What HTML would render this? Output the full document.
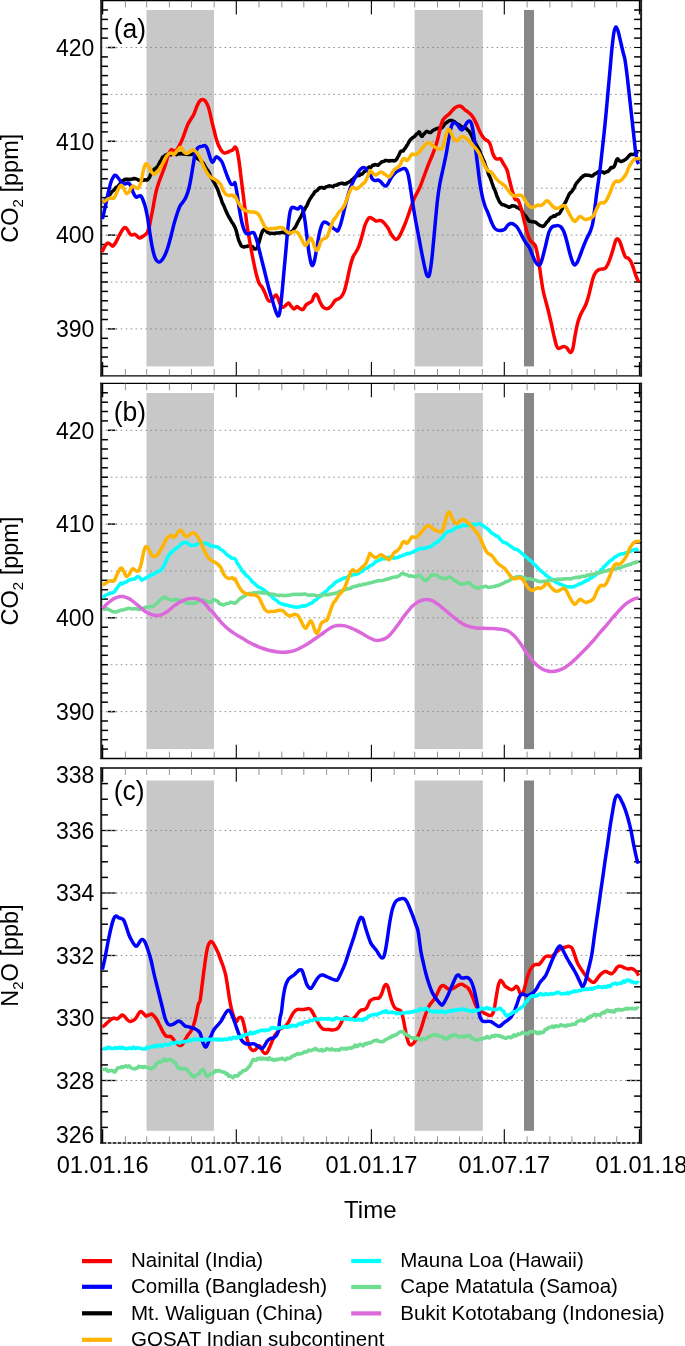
<!DOCTYPE html><html><head><meta charset="utf-8"><title>Time series</title>
<style>html,body{margin:0;padding:0;background:#fff}svg{display:block}text{font-family:"Liberation Sans",sans-serif;fill:#000}</style></head><body>
<svg width="685" height="1346" viewBox="0 0 685 1346">
<rect width="685" height="1346" fill="#fff"/>
<g id="panel0">
<rect x="146.5" y="10.0" width="67.5" height="356.4" fill="#c8c8c8"/>
<rect x="414.6" y="10.0" width="68.2" height="356.4" fill="#c8c8c8"/>
<rect x="524.0" y="10.0" width="10.0" height="356.4" fill="#878787"/>
<line x1="100.9" x2="631.1" y1="328.9" y2="328.9" stroke="#858585" stroke-width="0.9" stroke-dasharray="1.6 3.345"/>
<line x1="100.9" x2="631.1" y1="282.0" y2="282.0" stroke="#858585" stroke-width="0.9" stroke-dasharray="1.6 3.345"/>
<line x1="100.9" x2="631.1" y1="235.1" y2="235.1" stroke="#858585" stroke-width="0.9" stroke-dasharray="1.6 3.345"/>
<line x1="100.9" x2="631.1" y1="188.2" y2="188.2" stroke="#858585" stroke-width="0.9" stroke-dasharray="1.6 3.345"/>
<line x1="100.9" x2="631.1" y1="141.3" y2="141.3" stroke="#858585" stroke-width="0.9" stroke-dasharray="1.6 3.345"/>
<line x1="100.9" x2="631.1" y1="94.4" y2="94.4" stroke="#858585" stroke-width="0.9" stroke-dasharray="1.6 3.345"/>
<line x1="100.9" x2="631.1" y1="47.5" y2="47.5" stroke="#858585" stroke-width="0.9" stroke-dasharray="1.6 3.345"/>
<line x1="100.2" x2="642.1" y1="0.6" y2="0.6" stroke="#000" stroke-width="1.3"/>
<line x1="100.2" x2="642.1" y1="375.8" y2="375.8" stroke="#000" stroke-width="1.3"/>
<line x1="101.2" x2="101.2" y1="0.0" y2="376.4" stroke="#222" stroke-width="2"/>
<line x1="641.1" x2="641.1" y1="0.0" y2="376.4" stroke="#222" stroke-width="2"/>
<line x1="102.60" x2="102.60" y1="0.6" y2="14.4" stroke="#000" stroke-width="1.3"/>
<line x1="102.60" x2="102.60" y1="362.0" y2="375.8" stroke="#000" stroke-width="1.3"/>
<line x1="639.49" x2="639.49" y1="0.6" y2="14.4" stroke="#000" stroke-width="1.3"/>
<line x1="639.49" x2="639.49" y1="362.0" y2="375.8" stroke="#000" stroke-width="1.3"/>
<line x1="125.4" x2="125.4" y1="0.6" y2="7.5" stroke="#777" stroke-width="0.8"/>
<line x1="125.4" x2="125.4" y1="375.8" y2="368.9" stroke="#777" stroke-width="0.8"/>
<line x1="146.7" x2="146.7" y1="0.6" y2="7.5" stroke="#777" stroke-width="0.8"/>
<line x1="146.7" x2="146.7" y1="375.8" y2="368.9" stroke="#777" stroke-width="0.8"/>
<line x1="169.4" x2="169.4" y1="0.6" y2="7.5" stroke="#777" stroke-width="0.8"/>
<line x1="169.4" x2="169.4" y1="375.8" y2="368.9" stroke="#777" stroke-width="0.8"/>
<line x1="191.5" x2="191.5" y1="0.6" y2="7.5" stroke="#777" stroke-width="0.8"/>
<line x1="191.5" x2="191.5" y1="375.8" y2="368.9" stroke="#777" stroke-width="0.8"/>
<line x1="214.2" x2="214.2" y1="0.6" y2="7.5" stroke="#777" stroke-width="0.8"/>
<line x1="214.2" x2="214.2" y1="375.8" y2="368.9" stroke="#777" stroke-width="0.8"/>
<line x1="236.3" x2="236.3" y1="0.6" y2="14.4" stroke="#000" stroke-width="1.1"/>
<line x1="236.3" x2="236.3" y1="375.8" y2="362.0" stroke="#000" stroke-width="1.1"/>
<line x1="259.0" x2="259.0" y1="0.6" y2="7.5" stroke="#777" stroke-width="0.8"/>
<line x1="259.0" x2="259.0" y1="375.8" y2="368.9" stroke="#777" stroke-width="0.8"/>
<line x1="281.8" x2="281.8" y1="0.6" y2="7.5" stroke="#777" stroke-width="0.8"/>
<line x1="281.8" x2="281.8" y1="375.8" y2="368.9" stroke="#777" stroke-width="0.8"/>
<line x1="303.8" x2="303.8" y1="0.6" y2="7.5" stroke="#777" stroke-width="0.8"/>
<line x1="303.8" x2="303.8" y1="375.8" y2="368.9" stroke="#777" stroke-width="0.8"/>
<line x1="326.6" x2="326.6" y1="0.6" y2="7.5" stroke="#777" stroke-width="0.8"/>
<line x1="326.6" x2="326.6" y1="375.8" y2="368.9" stroke="#777" stroke-width="0.8"/>
<line x1="348.6" x2="348.6" y1="0.6" y2="7.5" stroke="#777" stroke-width="0.8"/>
<line x1="348.6" x2="348.6" y1="375.8" y2="368.9" stroke="#777" stroke-width="0.8"/>
<line x1="371.4" x2="371.4" y1="0.6" y2="14.4" stroke="#000" stroke-width="1.1"/>
<line x1="371.4" x2="371.4" y1="375.8" y2="362.0" stroke="#000" stroke-width="1.1"/>
<line x1="394.2" x2="394.2" y1="0.6" y2="7.5" stroke="#777" stroke-width="0.8"/>
<line x1="394.2" x2="394.2" y1="375.8" y2="368.9" stroke="#777" stroke-width="0.8"/>
<line x1="414.7" x2="414.7" y1="0.6" y2="7.5" stroke="#777" stroke-width="0.8"/>
<line x1="414.7" x2="414.7" y1="375.8" y2="368.9" stroke="#777" stroke-width="0.8"/>
<line x1="437.5" x2="437.5" y1="0.6" y2="7.5" stroke="#777" stroke-width="0.8"/>
<line x1="437.5" x2="437.5" y1="375.8" y2="368.9" stroke="#777" stroke-width="0.8"/>
<line x1="459.5" x2="459.5" y1="0.6" y2="7.5" stroke="#777" stroke-width="0.8"/>
<line x1="459.5" x2="459.5" y1="375.8" y2="368.9" stroke="#777" stroke-width="0.8"/>
<line x1="482.3" x2="482.3" y1="0.6" y2="7.5" stroke="#777" stroke-width="0.8"/>
<line x1="482.3" x2="482.3" y1="375.8" y2="368.9" stroke="#777" stroke-width="0.8"/>
<line x1="504.3" x2="504.3" y1="0.6" y2="14.4" stroke="#000" stroke-width="1.1"/>
<line x1="504.3" x2="504.3" y1="375.8" y2="362.0" stroke="#000" stroke-width="1.1"/>
<line x1="527.1" x2="527.1" y1="0.6" y2="7.5" stroke="#777" stroke-width="0.8"/>
<line x1="527.1" x2="527.1" y1="375.8" y2="368.9" stroke="#777" stroke-width="0.8"/>
<line x1="549.9" x2="549.9" y1="0.6" y2="7.5" stroke="#777" stroke-width="0.8"/>
<line x1="549.9" x2="549.9" y1="375.8" y2="368.9" stroke="#777" stroke-width="0.8"/>
<line x1="571.9" x2="571.9" y1="0.6" y2="7.5" stroke="#777" stroke-width="0.8"/>
<line x1="571.9" x2="571.9" y1="375.8" y2="368.9" stroke="#777" stroke-width="0.8"/>
<line x1="594.7" x2="594.7" y1="0.6" y2="7.5" stroke="#777" stroke-width="0.8"/>
<line x1="594.7" x2="594.7" y1="375.8" y2="368.9" stroke="#777" stroke-width="0.8"/>
<line x1="616.7" x2="616.7" y1="0.6" y2="7.5" stroke="#777" stroke-width="0.8"/>
<line x1="616.7" x2="616.7" y1="375.8" y2="368.9" stroke="#777" stroke-width="0.8"/>
<line x1="101.2" x2="107.9" y1="366.4" y2="366.4" stroke="#000" stroke-width="1.5"/>
<line x1="641.1" x2="634.1" y1="366.4" y2="366.4" stroke="#000" stroke-width="1.5"/>
<line x1="101.2" x2="107.9" y1="357.0" y2="357.0" stroke="#000" stroke-width="1.5"/>
<line x1="641.1" x2="634.1" y1="357.0" y2="357.0" stroke="#000" stroke-width="1.5"/>
<line x1="101.2" x2="107.9" y1="347.7" y2="347.7" stroke="#000" stroke-width="1.5"/>
<line x1="641.1" x2="634.1" y1="347.7" y2="347.7" stroke="#000" stroke-width="1.5"/>
<line x1="101.2" x2="107.9" y1="338.3" y2="338.3" stroke="#000" stroke-width="1.5"/>
<line x1="641.1" x2="634.1" y1="338.3" y2="338.3" stroke="#000" stroke-width="1.5"/>
<line x1="108.0" x2="115.2" y1="328.9" y2="328.9" stroke="#000" stroke-width="1.5"/>
<line x1="641.1" x2="634.1" y1="328.9" y2="328.9" stroke="#000" stroke-width="1.1"/>
<line x1="105.8" x2="117.2" y1="328.9" y2="328.9" stroke="#9a9a9a" stroke-width="1.3" stroke-dasharray="1.6 3.345"/>
<line x1="101.2" x2="107.9" y1="319.5" y2="319.5" stroke="#000" stroke-width="1.5"/>
<line x1="641.1" x2="634.1" y1="319.5" y2="319.5" stroke="#000" stroke-width="1.5"/>
<line x1="101.2" x2="107.9" y1="310.1" y2="310.1" stroke="#000" stroke-width="1.5"/>
<line x1="641.1" x2="634.1" y1="310.1" y2="310.1" stroke="#000" stroke-width="1.5"/>
<line x1="101.2" x2="107.9" y1="300.8" y2="300.8" stroke="#000" stroke-width="1.5"/>
<line x1="641.1" x2="634.1" y1="300.8" y2="300.8" stroke="#000" stroke-width="1.5"/>
<line x1="101.2" x2="107.9" y1="291.4" y2="291.4" stroke="#000" stroke-width="1.5"/>
<line x1="641.1" x2="634.1" y1="291.4" y2="291.4" stroke="#000" stroke-width="1.5"/>
<line x1="101.2" x2="107.9" y1="282.0" y2="282.0" stroke="#000" stroke-width="1.5"/>
<line x1="641.1" x2="634.1" y1="282.0" y2="282.0" stroke="#000" stroke-width="1.5"/>
<line x1="101.2" x2="107.9" y1="272.6" y2="272.6" stroke="#000" stroke-width="1.5"/>
<line x1="641.1" x2="634.1" y1="272.6" y2="272.6" stroke="#000" stroke-width="1.5"/>
<line x1="101.2" x2="107.9" y1="263.2" y2="263.2" stroke="#000" stroke-width="1.5"/>
<line x1="641.1" x2="634.1" y1="263.2" y2="263.2" stroke="#000" stroke-width="1.5"/>
<line x1="101.2" x2="107.9" y1="253.9" y2="253.9" stroke="#000" stroke-width="1.5"/>
<line x1="641.1" x2="634.1" y1="253.9" y2="253.9" stroke="#000" stroke-width="1.5"/>
<line x1="101.2" x2="107.9" y1="244.5" y2="244.5" stroke="#000" stroke-width="1.5"/>
<line x1="641.1" x2="634.1" y1="244.5" y2="244.5" stroke="#000" stroke-width="1.5"/>
<line x1="108.0" x2="115.2" y1="235.1" y2="235.1" stroke="#000" stroke-width="1.5"/>
<line x1="641.1" x2="634.1" y1="235.1" y2="235.1" stroke="#000" stroke-width="1.1"/>
<line x1="105.8" x2="117.2" y1="235.1" y2="235.1" stroke="#9a9a9a" stroke-width="1.3" stroke-dasharray="1.6 3.345"/>
<line x1="101.2" x2="107.9" y1="225.7" y2="225.7" stroke="#000" stroke-width="1.5"/>
<line x1="641.1" x2="634.1" y1="225.7" y2="225.7" stroke="#000" stroke-width="1.5"/>
<line x1="101.2" x2="107.9" y1="216.3" y2="216.3" stroke="#000" stroke-width="1.5"/>
<line x1="641.1" x2="634.1" y1="216.3" y2="216.3" stroke="#000" stroke-width="1.5"/>
<line x1="101.2" x2="107.9" y1="207.0" y2="207.0" stroke="#000" stroke-width="1.5"/>
<line x1="641.1" x2="634.1" y1="207.0" y2="207.0" stroke="#000" stroke-width="1.5"/>
<line x1="101.2" x2="107.9" y1="197.6" y2="197.6" stroke="#000" stroke-width="1.5"/>
<line x1="641.1" x2="634.1" y1="197.6" y2="197.6" stroke="#000" stroke-width="1.5"/>
<line x1="101.2" x2="107.9" y1="188.2" y2="188.2" stroke="#000" stroke-width="1.5"/>
<line x1="641.1" x2="634.1" y1="188.2" y2="188.2" stroke="#000" stroke-width="1.5"/>
<line x1="101.2" x2="107.9" y1="178.8" y2="178.8" stroke="#000" stroke-width="1.5"/>
<line x1="641.1" x2="634.1" y1="178.8" y2="178.8" stroke="#000" stroke-width="1.5"/>
<line x1="101.2" x2="107.9" y1="169.4" y2="169.4" stroke="#000" stroke-width="1.5"/>
<line x1="641.1" x2="634.1" y1="169.4" y2="169.4" stroke="#000" stroke-width="1.5"/>
<line x1="101.2" x2="107.9" y1="160.1" y2="160.1" stroke="#000" stroke-width="1.5"/>
<line x1="641.1" x2="634.1" y1="160.1" y2="160.1" stroke="#000" stroke-width="1.5"/>
<line x1="101.2" x2="107.9" y1="150.7" y2="150.7" stroke="#000" stroke-width="1.5"/>
<line x1="641.1" x2="634.1" y1="150.7" y2="150.7" stroke="#000" stroke-width="1.5"/>
<line x1="108.0" x2="115.2" y1="141.3" y2="141.3" stroke="#000" stroke-width="1.5"/>
<line x1="641.1" x2="634.1" y1="141.3" y2="141.3" stroke="#000" stroke-width="1.1"/>
<line x1="105.8" x2="117.2" y1="141.3" y2="141.3" stroke="#9a9a9a" stroke-width="1.3" stroke-dasharray="1.6 3.345"/>
<line x1="101.2" x2="107.9" y1="131.9" y2="131.9" stroke="#000" stroke-width="1.5"/>
<line x1="641.1" x2="634.1" y1="131.9" y2="131.9" stroke="#000" stroke-width="1.5"/>
<line x1="101.2" x2="107.9" y1="122.5" y2="122.5" stroke="#000" stroke-width="1.5"/>
<line x1="641.1" x2="634.1" y1="122.5" y2="122.5" stroke="#000" stroke-width="1.5"/>
<line x1="101.2" x2="107.9" y1="113.2" y2="113.2" stroke="#000" stroke-width="1.5"/>
<line x1="641.1" x2="634.1" y1="113.2" y2="113.2" stroke="#000" stroke-width="1.5"/>
<line x1="101.2" x2="107.9" y1="103.8" y2="103.8" stroke="#000" stroke-width="1.5"/>
<line x1="641.1" x2="634.1" y1="103.8" y2="103.8" stroke="#000" stroke-width="1.5"/>
<line x1="101.2" x2="107.9" y1="94.4" y2="94.4" stroke="#000" stroke-width="1.5"/>
<line x1="641.1" x2="634.1" y1="94.4" y2="94.4" stroke="#000" stroke-width="1.5"/>
<line x1="101.2" x2="107.9" y1="85.0" y2="85.0" stroke="#000" stroke-width="1.5"/>
<line x1="641.1" x2="634.1" y1="85.0" y2="85.0" stroke="#000" stroke-width="1.5"/>
<line x1="101.2" x2="107.9" y1="75.6" y2="75.6" stroke="#000" stroke-width="1.5"/>
<line x1="641.1" x2="634.1" y1="75.6" y2="75.6" stroke="#000" stroke-width="1.5"/>
<line x1="101.2" x2="107.9" y1="66.3" y2="66.3" stroke="#000" stroke-width="1.5"/>
<line x1="641.1" x2="634.1" y1="66.3" y2="66.3" stroke="#000" stroke-width="1.5"/>
<line x1="101.2" x2="107.9" y1="56.9" y2="56.9" stroke="#000" stroke-width="1.5"/>
<line x1="641.1" x2="634.1" y1="56.9" y2="56.9" stroke="#000" stroke-width="1.5"/>
<line x1="108.0" x2="115.2" y1="47.5" y2="47.5" stroke="#000" stroke-width="1.5"/>
<line x1="641.1" x2="634.1" y1="47.5" y2="47.5" stroke="#000" stroke-width="1.1"/>
<line x1="105.8" x2="117.2" y1="47.5" y2="47.5" stroke="#9a9a9a" stroke-width="1.3" stroke-dasharray="1.6 3.345"/>
<line x1="101.2" x2="107.9" y1="38.1" y2="38.1" stroke="#000" stroke-width="1.5"/>
<line x1="641.1" x2="634.1" y1="38.1" y2="38.1" stroke="#000" stroke-width="1.5"/>
<line x1="101.2" x2="107.9" y1="28.7" y2="28.7" stroke="#000" stroke-width="1.5"/>
<line x1="641.1" x2="634.1" y1="28.7" y2="28.7" stroke="#000" stroke-width="1.5"/>
<line x1="101.2" x2="107.9" y1="19.4" y2="19.4" stroke="#000" stroke-width="1.5"/>
<line x1="641.1" x2="634.1" y1="19.4" y2="19.4" stroke="#000" stroke-width="1.5"/>
<line x1="101.2" x2="107.9" y1="10.0" y2="10.0" stroke="#000" stroke-width="1.5"/>
<line x1="641.1" x2="634.1" y1="10.0" y2="10.0" stroke="#000" stroke-width="1.5"/>
<path d="M102.4 202.5L103.1 202.1L104.0 201.3L105.1 200.5L106.0 199.5L106.8 198.5L107.5 196.9L108.3 195.6L109.0 195.3L109.8 194.6L110.5 193.8L111.2 192.7L112.0 191.7L112.8 191.0L113.5 190.4L114.2 189.8L115.0 188.7L115.8 187.7L116.5 187.2L117.2 186.9L118.0 186.5L118.8 185.2L119.5 184.5L120.2 183.7L121.0 182.9L121.8 182.0L122.5 180.8L123.2 180.6L124.0 180.0L124.8 179.2L125.5 179.5L126.2 179.7L127.0 179.1L127.8 179.3L128.5 179.5L129.2 179.5L130.0 179.3L130.8 179.4L131.5 179.3L132.2 179.0L133.0 179.0L133.7 178.6L134.4 178.5L135.2 178.7L136.0 178.9L136.7 179.1L137.5 179.5L138.4 180.2L139.2 180.2L140.0 180.4L140.8 180.6L141.6 180.2L142.4 180.5L143.2 180.3L144.0 179.8L144.8 179.8L145.6 180.1L146.5 179.8L147.3 179.9L148.0 179.3L148.8 178.2L149.6 177.3L150.3 175.2L151.0 173.9L151.8 173.0L152.5 171.8L153.2 170.6L154.0 169.3L154.8 168.7L155.5 168.7L156.2 167.9L157.0 167.0L157.8 166.4L158.5 165.2L159.2 163.5L160.0 161.8L160.8 160.6L161.5 159.5L162.2 157.9L163.0 156.9L163.8 156.6L164.5 156.2L165.2 155.2L166.0 155.1L166.8 154.7L167.5 154.2L168.2 154.5L169.0 154.8L169.8 154.5L170.5 154.6L171.2 154.7L172.0 154.3L172.8 154.2L173.5 154.1L174.2 153.9L175.0 153.9L175.8 154.3L176.5 154.7L177.2 154.2L178.0 153.4L178.8 154.0L179.5 154.1L180.2 153.6L181.0 153.3L181.8 153.6L182.5 154.1L183.2 154.1L184.0 153.9L184.8 153.7L185.5 154.3L186.2 154.3L187.0 154.1L187.8 154.6L188.5 154.1L189.2 154.0L190.0 154.5L190.8 154.4L191.5 154.3L192.2 154.0L193.0 154.1L193.8 154.6L194.5 155.6L195.2 156.4L196.0 156.8L196.8 157.9L197.5 158.6L198.2 159.0L199.0 159.3L199.8 159.6L200.5 160.5L201.2 161.3L202.0 161.8L202.8 162.7L203.5 163.5L204.2 164.6L205.0 166.3L205.8 167.8L206.5 168.8L207.2 169.7L208.0 170.9L208.8 172.0L209.5 173.6L210.2 175.6L211.0 177.5L211.8 178.4L212.5 179.6L213.2 181.1L214.0 182.3L214.8 183.6L215.5 185.1L216.2 186.4L217.0 188.1L217.8 189.8L218.5 191.7L219.2 194.2L220.0 196.3L220.8 198.0L221.5 200.3L222.2 202.5L223.0 204.2L223.8 205.5L224.5 207.4L225.2 209.2L226.0 211.0L226.8 212.7L227.5 214.3L228.2 215.9L229.0 217.3L229.8 218.4L230.5 219.6L231.2 221.0L232.0 222.4L232.8 223.3L233.6 224.6L234.3 226.2L235.0 227.4L236.1 230.3L237.0 233.7L237.9 237.4L239.0 241.0L239.7 242.3L240.4 244.0L241.2 245.7L242.0 246.3L242.8 246.6L243.5 246.9L244.2 247.0L245.0 246.5L245.8 246.5L246.5 246.6L247.2 246.3L248.0 246.0L248.8 245.9L249.5 246.1L250.2 246.1L251.0 246.3L251.8 246.3L252.6 246.7L253.3 247.8L254.0 248.7L255.1 249.0L256.0 249.0L257.0 248.2L258.0 245.7L259.0 242.4L260.0 238.8L261.0 235.2L262.0 232.4L262.9 230.6L264.0 229.6L264.7 229.7L265.4 230.2L266.2 231.1L267.0 231.9L267.8 232.4L268.5 233.0L269.2 233.0L270.0 233.5L270.8 233.4L271.5 233.2L272.2 233.4L273.0 233.4L273.8 233.2L274.5 233.6L275.2 233.6L276.0 233.0L276.8 233.1L277.5 233.0L278.2 232.9L279.0 232.9L279.8 232.7L280.5 232.8L281.2 232.7L282.0 232.1L282.8 232.3L283.5 232.7L284.2 232.7L285.0 232.6L285.8 233.1L286.5 233.5L287.2 234.0L288.0 234.2L288.8 233.9L289.5 233.3L290.2 233.3L291.0 232.5L291.8 231.3L292.5 230.9L293.2 230.2L294.0 228.8L294.8 227.7L295.5 227.0L296.2 225.5L297.0 223.9L297.8 222.3L298.5 220.7L299.2 219.8L300.0 218.2L300.8 216.8L301.5 215.5L302.2 213.8L303.0 211.9L303.8 210.9L304.5 209.8L305.2 208.2L306.0 206.8L306.8 205.8L307.5 204.3L308.2 202.3L309.0 200.8L309.8 199.4L310.5 198.2L311.2 197.2L312.0 195.8L312.8 195.0L313.5 194.3L314.2 192.7L315.0 191.7L315.8 191.1L316.5 190.8L317.2 190.5L318.0 189.4L318.8 188.5L319.5 187.8L320.2 187.9L321.0 187.5L321.8 187.4L322.5 187.7L323.2 188.0L324.0 188.2L324.8 188.0L325.5 187.2L326.2 186.9L327.0 186.6L327.8 186.3L328.5 186.1L329.2 185.8L330.0 185.9L330.8 186.1L331.5 186.2L332.2 186.7L333.0 186.8L333.8 186.0L334.5 185.4L335.2 185.2L336.0 185.3L336.8 185.3L337.5 184.7L338.2 183.9L339.0 183.9L339.8 183.8L340.5 183.4L341.2 183.3L342.0 183.2L342.8 183.2L343.5 183.8L344.2 184.0L345.0 183.8L345.8 184.0L346.5 183.5L347.2 182.7L348.0 182.7L348.8 182.0L349.5 181.7L350.2 181.5L351.0 180.7L351.8 179.8L352.5 179.4L353.2 179.1L354.0 178.0L354.8 177.2L355.5 176.9L356.2 176.4L357.0 175.9L357.8 175.3L358.5 175.3L359.2 175.6L360.0 174.9L360.8 174.1L361.5 174.2L362.2 174.0L363.0 173.3L363.8 172.1L364.5 171.4L365.2 171.3L366.0 170.7L366.8 169.6L367.6 168.1L368.4 167.5L369.0 167.0L370.0 167.3L370.6 167.5L371.4 166.9L372.2 165.7L373.0 165.0L373.9 165.2L374.8 164.7L375.6 164.5L376.4 164.9L377.2 165.0L378.0 165.3L378.7 164.7L379.5 163.8L380.2 163.3L381.0 162.6L381.8 161.8L382.5 161.7L383.2 161.6L384.0 161.4L384.8 160.7L385.5 160.4L386.2 160.4L387.0 160.6L387.8 160.7L388.5 161.1L389.2 161.1L390.0 160.6L390.8 160.8L391.5 160.7L392.2 160.6L393.0 160.7L393.8 160.9L394.5 160.8L395.3 160.5L396.0 159.9L396.9 158.8L397.7 157.3L398.4 156.0L399.4 154.0L400.4 151.7L401.2 151.1L402.1 151.1L403.0 151.1L403.9 149.9L404.7 148.6L405.6 147.7L406.4 146.1L407.2 145.1L408.0 143.8L408.7 142.2L409.5 141.2L410.2 139.9L411.0 139.1L411.8 138.5L412.5 137.7L413.2 137.6L414.0 136.8L414.8 136.2L415.6 135.3L416.3 134.2L417.0 134.1L418.0 133.0L419.0 131.9L419.8 132.6L420.7 135.0L421.6 136.4L422.4 136.2L423.2 134.9L424.0 133.9L424.7 133.3L425.5 132.2L426.3 131.5L427.0 131.4L427.9 131.7L428.7 132.4L429.6 132.6L430.5 132.5L431.4 131.8L432.4 130.9L433.2 130.3L434.0 129.9L434.8 129.6L435.6 129.1L436.6 128.7L437.5 128.4L438.4 128.1L439.3 128.0L440.1 128.3L441.0 128.5L441.7 127.8L442.5 127.3L443.2 126.3L444.0 125.2L444.8 123.9L445.5 123.0L446.2 122.9L447.0 122.3L447.8 121.6L448.5 121.2L449.2 120.8L450.0 120.5L450.8 120.4L451.5 120.5L452.2 120.6L453.0 121.2L453.8 121.4L454.5 121.7L455.2 122.5L456.0 123.0L456.8 123.5L457.5 123.9L458.2 124.4L459.0 124.6L459.8 125.4L460.5 126.0L461.2 126.5L462.0 127.0L462.8 127.2L463.5 127.4L464.2 127.9L465.0 128.0L465.8 128.3L466.5 128.7L467.2 129.3L468.0 130.3L468.8 130.9L469.5 131.8L470.2 133.1L471.0 134.5L471.8 136.0L472.5 137.7L473.2 139.8L474.0 141.2L474.8 142.1L475.5 143.4L476.2 144.5L477.0 146.0L477.8 147.7L478.5 148.8L479.2 150.0L480.0 152.0L480.8 154.1L481.5 155.8L482.2 157.2L483.0 159.3L483.8 160.8L484.5 162.3L485.2 164.9L486.0 167.1L486.8 168.6L487.5 170.8L488.2 173.4L489.0 175.3L489.8 176.9L490.5 178.6L491.2 180.4L492.0 183.0L492.8 185.2L493.5 187.3L494.2 188.9L495.0 190.5L495.8 192.6L496.5 194.8L497.2 196.8L498.0 198.5L498.8 200.3L499.5 201.7L500.2 202.6L501.0 203.4L501.8 204.6L502.6 204.8L503.4 204.7L504.0 204.9L505.0 205.6L505.6 205.6L506.4 206.0L507.2 206.4L508.0 206.8L508.8 207.3L509.5 207.2L510.2 206.9L511.0 206.4L511.8 205.7L512.5 205.8L513.2 206.0L514.0 206.0L514.8 206.1L515.5 206.4L516.2 206.9L517.0 207.5L517.8 207.5L518.5 207.7L519.2 208.6L520.0 209.0L520.8 209.4L521.5 210.5L522.2 211.5L523.0 212.9L523.8 214.4L524.5 215.1L525.2 215.6L526.0 216.4L526.8 217.6L527.5 218.7L528.2 219.9L529.0 221.0L529.8 221.3L530.5 221.2L531.2 221.7L532.0 221.8L532.8 221.6L533.5 221.8L534.2 222.0L535.0 222.0L535.8 222.4L536.5 222.9L537.2 223.6L538.0 224.2L538.8 224.8L539.5 225.2L540.3 225.6L541.0 225.8L541.8 226.0L542.6 226.4L543.4 226.3L544.2 225.7L545.1 224.6L546.0 223.3L546.7 222.2L547.5 221.6L548.2 220.9L549.0 219.6L549.8 218.6L550.5 217.8L551.2 217.2L552.0 217.0L552.8 216.6L553.5 215.9L554.2 216.2L555.0 216.2L555.8 215.4L556.5 214.7L557.2 214.4L558.0 214.1L558.8 213.9L559.5 213.5L560.2 212.4L561.0 210.9L561.8 209.5L562.5 208.0L563.2 206.3L564.0 204.5L564.8 203.3L565.5 202.3L566.2 200.9L567.0 198.8L567.8 197.2L568.5 195.6L569.2 194.2L570.0 193.1L570.8 192.4L571.5 191.9L572.3 190.7L573.0 189.6L573.8 188.6L574.6 186.9L575.4 184.9L576.2 183.5L577.1 182.4L578.0 181.5L578.7 180.5L579.5 179.8L580.2 179.1L581.0 177.8L581.8 177.3L582.5 176.8L583.2 175.7L584.0 175.7L584.8 175.2L585.5 174.9L586.2 175.0L587.0 175.3L587.8 175.3L588.5 175.2L589.2 175.5L590.0 175.6L590.8 175.9L591.5 176.0L592.2 176.0L593.0 175.6L593.8 174.8L594.5 174.1L595.2 173.8L596.0 173.6L596.8 173.0L597.5 172.4L598.2 171.8L599.0 171.3L599.8 171.7L600.5 172.1L601.2 171.8L602.0 171.9L602.8 172.0L603.5 172.5L604.2 173.0L605.0 172.4L605.8 172.2L606.5 171.9L607.2 171.5L608.0 171.4L608.8 170.6L609.5 169.8L610.2 168.7L611.0 167.5L611.8 167.4L612.6 167.7L613.3 167.3L614.0 166.7L615.1 164.4L616.0 161.5L616.7 159.6L617.4 158.8L618.2 159.3L619.1 160.5L620.0 161.1L620.7 161.4L621.5 161.5L622.2 161.2L623.0 160.8L623.8 160.4L624.5 160.0L625.2 159.7L626.0 159.1L626.8 158.3L627.5 157.7L628.2 156.8L629.0 155.8L629.8 155.0L630.5 154.5L631.2 154.3L632.0 154.4L632.8 154.4L633.5 154.4L634.2 153.9L635.0 153.8L635.8 153.2L636.7 152.6L637.5 151.8L638.0 151.5" fill="none" stroke="#000000" stroke-width="3.5" stroke-linejoin="round" stroke-linecap="butt"/>
<path d="M102.0 252.0C102.5 251.0 104.0 247.5 105.0 246.0C106.0 244.5 107.0 243.2 108.0 243.0C109.0 242.8 110.2 244.5 111.0 245.0C111.8 245.5 112.2 246.5 113.0 246.0C113.8 245.5 114.8 244.0 116.0 242.0C117.2 240.0 118.8 236.2 120.0 234.0C121.2 231.8 122.2 230.1 123.0 229.0C123.8 227.9 124.3 227.6 125.0 227.6C125.7 227.6 126.2 227.9 127.0 229.0C127.8 230.1 129.2 233.0 130.0 234.0C130.8 235.0 131.2 234.9 132.0 235.0C132.8 235.1 134.0 234.1 135.0 234.4C136.0 234.7 137.2 236.4 138.0 237.0C138.8 237.6 139.2 238.1 140.0 238.0C140.8 237.9 141.8 237.2 143.0 236.4C144.2 235.6 146.0 234.4 147.0 233.0C148.0 231.6 148.3 230.5 149.0 228.0C149.7 225.5 150.3 221.3 151.0 218.0C151.7 214.7 152.2 212.3 153.0 208.0C153.8 203.7 155.0 196.3 156.0 192.0C157.0 187.7 158.0 185.0 159.0 182.0C160.0 179.0 161.0 176.7 162.0 174.0C163.0 171.3 164.0 169.0 165.0 166.0C166.0 163.0 167.0 158.7 168.0 156.0C169.0 153.3 170.2 150.9 171.0 150.0C171.8 149.1 172.3 150.1 173.0 150.4C173.7 150.7 174.2 152.0 175.0 151.6C175.8 151.2 176.8 149.9 178.0 148.0C179.2 146.1 180.8 142.7 182.0 140.0C183.2 137.3 184.0 134.7 185.0 132.0C186.0 129.3 187.0 126.2 188.0 124.0C189.0 121.8 190.0 120.7 191.0 119.0C192.0 117.3 193.0 116.2 194.0 114.0C195.0 111.8 196.0 108.2 197.0 106.0C198.0 103.8 199.1 101.7 200.0 100.6C200.9 99.5 201.6 99.4 202.4 99.4C203.2 99.4 204.1 99.5 205.0 100.6C205.9 101.7 207.2 103.9 208.0 106.0C208.8 108.1 209.3 110.3 210.0 113.0C210.7 115.7 211.3 119.2 212.0 122.0C212.7 124.8 213.3 127.3 214.0 130.0C214.7 132.7 215.3 135.7 216.0 138.0C216.7 140.3 217.2 142.0 218.0 144.0C218.8 146.0 220.0 148.5 221.0 150.0C222.0 151.5 223.0 152.6 224.0 153.0C225.0 153.4 226.0 152.7 227.0 152.4C228.0 152.1 229.0 151.5 230.0 151.0C231.0 150.5 232.2 150.3 233.0 149.6C233.8 148.9 234.3 146.9 235.0 147.0C235.7 147.1 236.3 147.7 237.0 150.0C237.7 152.3 238.3 156.5 239.0 161.0C239.7 165.5 240.3 171.7 241.0 177.0C241.7 182.3 242.3 187.7 243.0 193.0C243.7 198.3 244.3 203.7 245.0 209.0C245.7 214.3 246.2 219.3 247.0 225.0C247.8 230.7 249.0 237.3 250.0 243.0C251.0 248.7 252.0 254.0 253.0 259.0C254.0 264.0 255.0 269.0 256.0 273.0C257.0 277.0 258.0 280.7 259.0 283.0C260.0 285.3 261.0 285.3 262.0 287.0C263.0 288.7 264.0 290.8 265.0 293.0C266.0 295.2 267.0 298.7 268.0 300.0C269.0 301.3 270.0 301.5 271.0 301.0C272.0 300.5 273.2 298.0 274.0 297.0C274.8 296.0 275.3 294.8 276.0 295.0C276.7 295.2 277.3 296.5 278.0 298.0C278.7 299.5 279.2 302.4 280.0 304.0C280.8 305.6 282.0 307.2 283.0 307.4C284.0 307.6 285.1 305.7 286.0 305.0C286.9 304.3 287.8 302.8 288.6 303.0C289.4 303.2 290.1 305.0 291.0 306.0C291.9 307.0 293.0 308.9 294.0 309.0C295.0 309.1 296.0 306.7 297.0 306.6C298.0 306.5 299.0 308.1 300.0 308.6C301.0 309.1 302.0 310.0 303.0 309.4C304.0 308.8 305.0 306.1 306.0 305.0C307.0 303.9 308.0 303.7 309.0 303.0C310.0 302.3 311.2 302.2 312.0 301.0C312.8 299.8 313.3 297.2 314.0 296.0C314.7 294.8 315.3 293.9 316.0 294.0C316.7 294.1 317.3 295.3 318.0 296.6C318.7 297.9 319.2 300.3 320.0 302.0C320.8 303.7 322.0 305.9 323.0 307.0C324.0 308.1 325.0 308.4 326.0 308.6C327.0 308.8 328.0 308.6 329.0 308.0C330.0 307.4 331.0 306.2 332.0 305.0C333.0 303.8 334.0 301.6 335.0 300.6C336.0 299.6 337.0 299.6 338.0 299.0C339.0 298.4 340.0 298.2 341.0 297.0C342.0 295.8 343.0 294.7 344.0 292.0C345.0 289.3 346.0 285.2 347.0 281.0C348.0 276.8 349.0 271.0 350.0 267.0C351.0 263.0 352.0 259.5 353.0 257.0C354.0 254.5 355.0 253.8 356.0 252.0C357.0 250.2 358.0 248.7 359.0 246.0C360.0 243.3 361.0 239.5 362.0 236.0C363.0 232.5 364.0 227.8 365.0 225.0C366.0 222.2 367.2 220.3 368.0 219.0C368.8 217.7 369.2 217.4 370.0 217.4C370.8 217.4 372.0 218.4 373.0 219.0C374.0 219.6 375.0 220.7 376.0 221.0C377.0 221.3 378.0 220.6 379.0 220.6C380.0 220.6 381.0 220.4 382.0 221.0C383.0 221.6 384.0 222.8 385.0 224.0C386.0 225.2 387.0 226.3 388.0 228.0C389.0 229.7 390.0 232.3 391.0 234.0C392.0 235.7 393.1 237.1 394.0 238.0C394.9 238.9 395.6 239.6 396.4 239.4C397.2 239.2 398.1 238.4 399.0 237.0C399.9 235.6 401.0 233.2 402.0 231.0C403.0 228.8 404.0 226.5 405.0 224.0C406.0 221.5 407.0 218.8 408.0 216.0C409.0 213.2 410.0 209.8 411.0 207.0C412.0 204.2 413.0 201.3 414.0 199.0C415.0 196.7 416.0 195.0 417.0 193.0C418.0 191.0 419.0 189.3 420.0 187.0C421.0 184.7 422.0 181.7 423.0 179.0C424.0 176.3 425.0 173.7 426.0 171.0C427.0 168.3 428.0 165.5 429.0 163.0C430.0 160.5 431.0 158.5 432.0 156.0C433.0 153.5 434.0 151.0 435.0 148.0C436.0 145.0 437.2 141.2 438.0 138.0C438.8 134.8 439.3 131.8 440.0 129.0C440.7 126.2 441.6 122.9 442.4 121.0C443.2 119.1 444.1 118.4 445.0 117.4C445.9 116.4 447.0 115.9 448.0 115.0C449.0 114.1 450.0 113.1 451.0 112.0C452.0 110.9 453.0 109.5 454.0 108.6C455.0 107.7 456.0 107.0 457.0 106.6C458.0 106.2 459.1 105.9 460.0 106.0C460.9 106.1 461.6 106.7 462.4 107.4C463.2 108.1 464.1 109.2 465.0 110.0C465.9 110.8 467.0 111.2 468.0 112.0C469.0 112.8 470.0 113.4 471.0 114.6C472.0 115.8 473.0 117.3 474.0 119.0C475.0 120.7 476.0 122.8 477.0 125.0C478.0 127.2 479.0 130.0 480.0 132.0C481.0 134.0 482.0 135.7 483.0 137.0C484.0 138.3 485.1 139.3 486.0 140.0C486.9 140.7 487.7 140.6 488.4 141.4C489.1 142.2 489.6 142.9 490.4 145.0C491.2 147.1 492.1 151.7 493.0 154.0C493.9 156.3 494.8 157.8 495.6 158.6C496.4 159.4 497.2 159.0 498.0 159.0C498.8 159.0 499.6 157.9 500.4 158.6C501.2 159.3 501.9 161.1 503.0 163.0C504.1 164.9 506.0 167.5 507.0 170.0C508.0 172.5 508.2 174.7 509.0 178.0C509.8 181.3 511.0 186.5 512.0 190.0C513.0 193.5 514.0 197.3 515.0 199.0C516.0 200.7 517.0 198.5 518.0 200.0C519.0 201.5 520.0 204.7 521.0 208.0C522.0 211.3 523.0 216.0 524.0 220.0C525.0 224.0 526.0 228.7 527.0 232.0C528.0 235.3 529.0 238.2 530.0 240.0C531.0 241.8 532.1 242.0 533.0 243.0C533.9 244.0 534.7 244.2 535.4 246.0C536.1 247.8 536.7 250.7 537.4 254.0C538.1 257.3 538.7 261.7 539.4 266.0C540.1 270.3 540.7 275.7 541.4 280.0C542.1 284.3 542.6 288.3 543.4 292.0C544.2 295.7 545.1 298.7 546.0 302.0C546.9 305.3 547.7 308.3 548.6 312.0C549.5 315.7 550.5 320.0 551.4 324.0C552.3 328.0 553.1 332.3 554.0 336.0C554.9 339.7 555.8 343.9 556.6 346.0C557.4 348.1 557.9 348.1 558.6 348.4C559.3 348.7 560.1 347.9 561.0 347.6C561.9 347.3 563.0 346.3 564.0 346.4C565.0 346.5 566.2 347.2 567.0 348.0C567.8 348.8 568.3 350.3 569.0 351.0C569.7 351.7 570.3 352.9 571.0 352.4C571.7 351.9 572.3 350.7 573.0 348.0C573.7 345.3 574.3 340.0 575.0 336.0C575.7 332.0 576.6 327.3 577.4 324.0C578.2 320.7 579.1 318.3 580.0 316.0C580.9 313.7 582.0 312.0 583.0 310.0C584.0 308.0 585.1 306.3 586.0 304.0C586.9 301.7 587.8 299.0 588.6 296.0C589.4 293.0 590.2 289.2 591.0 286.0C591.8 282.8 592.6 279.3 593.4 277.0C594.2 274.7 595.1 273.2 596.0 272.0C596.9 270.8 598.0 270.1 599.0 269.6C600.0 269.1 601.0 269.2 602.0 269.0C603.0 268.8 604.0 269.2 605.0 268.4C606.0 267.6 607.0 266.1 608.0 264.0C609.0 261.9 610.0 259.0 611.0 256.0C612.0 253.0 613.2 248.7 614.0 246.0C614.8 243.3 615.3 241.2 616.0 240.0C616.7 238.8 617.3 238.7 618.0 239.0C618.7 239.3 619.2 240.0 620.0 242.0C620.8 244.0 622.1 248.5 623.0 251.0C623.9 253.5 624.6 255.8 625.4 257.0C626.2 258.2 627.1 257.3 628.0 258.0C628.9 258.7 629.7 259.3 630.6 261.0C631.5 262.7 632.5 265.5 633.4 268.0C634.3 270.5 635.1 273.7 636.0 276.0C636.9 278.3 638.2 281.0 638.6 282.0" fill="none" stroke="#ff0000" stroke-width="3.5" stroke-linejoin="round" stroke-linecap="butt"/>
<path d="M102.4 219.0C102.8 217.2 104.1 212.2 105.0 208.0C105.9 203.8 107.0 198.3 108.0 194.0C109.0 189.7 110.0 185.0 111.0 182.0C112.0 179.0 113.2 177.1 114.0 176.0C114.8 174.9 115.2 175.1 116.0 175.6C116.8 176.1 118.0 177.8 119.0 179.0C120.0 180.2 121.0 182.2 122.0 183.0C123.0 183.8 124.0 184.0 125.0 184.0C126.0 184.0 127.0 182.7 128.0 183.0C129.0 183.3 130.2 184.5 131.0 186.0C131.8 187.5 132.2 190.2 133.0 192.0C133.8 193.8 135.0 196.3 136.0 197.0C137.0 197.7 138.2 196.2 139.0 196.0C139.8 195.8 140.3 195.3 141.0 196.0C141.7 196.7 142.2 198.0 143.0 200.0C143.8 202.0 144.8 204.7 145.6 208.0C146.4 211.3 147.3 215.7 148.0 220.0C148.7 224.3 149.3 229.7 150.0 234.0C150.7 238.3 151.3 242.3 152.0 246.0C152.7 249.7 153.6 253.5 154.4 256.0C155.2 258.5 156.2 260.0 157.0 261.0C157.8 262.0 158.6 262.2 159.4 262.0C160.2 261.8 161.1 261.2 162.0 260.0C162.9 258.8 164.0 257.2 165.0 255.0C166.0 252.8 167.0 250.2 168.0 247.0C169.0 243.8 170.0 239.8 171.0 236.0C172.0 232.2 173.0 227.7 174.0 224.0C175.0 220.3 176.0 217.0 177.0 214.0C178.0 211.0 179.0 208.0 180.0 206.0C181.0 204.0 182.0 203.5 183.0 202.0C184.0 200.5 185.0 199.3 186.0 197.0C187.0 194.7 188.2 191.2 189.0 188.0C189.8 184.8 190.3 181.7 191.0 178.0C191.7 174.3 192.3 170.0 193.0 166.0C193.7 162.0 194.3 156.8 195.0 154.0C195.7 151.2 196.3 150.2 197.0 149.0C197.7 147.8 198.2 147.4 199.0 147.0C199.8 146.6 201.0 146.6 202.0 146.4C203.0 146.2 204.2 145.3 205.0 145.6C205.8 145.9 206.3 146.6 207.0 148.0C207.7 149.4 208.3 152.0 209.0 154.0C209.7 156.0 210.3 158.7 211.0 160.0C211.7 161.3 212.2 162.5 213.0 162.0C213.8 161.5 215.0 157.6 216.0 157.0C217.0 156.4 218.0 157.6 219.0 158.4C220.0 159.2 221.0 160.1 222.0 162.0C223.0 163.9 224.0 167.3 225.0 170.0C226.0 172.7 227.0 175.7 228.0 178.0C229.0 180.3 230.0 183.0 231.0 184.0C232.0 185.0 233.3 184.2 234.0 184.0C234.7 183.8 234.5 181.5 235.0 183.0C235.5 184.5 236.3 189.0 237.0 193.0C237.7 197.0 238.2 202.0 239.0 207.0C239.8 212.0 241.0 218.8 242.0 223.0C243.0 227.2 244.0 230.2 245.0 232.0C246.0 233.8 247.0 233.8 248.0 234.0C249.0 234.2 250.0 233.2 251.0 233.0C252.0 232.8 253.0 231.7 254.0 233.0C255.0 234.3 256.0 237.7 257.0 241.0C258.0 244.3 259.0 249.0 260.0 253.0C261.0 257.0 262.0 261.0 263.0 265.0C264.0 269.0 265.0 273.0 266.0 277.0C267.0 281.0 268.0 285.3 269.0 289.0C270.0 292.7 271.0 295.7 272.0 299.0C273.0 302.3 274.0 306.2 275.0 309.0C276.0 311.8 277.2 315.7 278.0 316.0C278.8 316.3 279.3 314.8 280.0 311.0C280.7 307.2 281.3 299.7 282.0 293.0C282.7 286.3 283.3 278.3 284.0 271.0C284.7 263.7 285.3 256.3 286.0 249.0C286.7 241.7 287.3 233.2 288.0 227.0C288.7 220.8 289.3 215.3 290.0 212.0C290.7 208.7 291.2 208.1 292.0 207.4C292.8 206.7 294.0 207.7 295.0 208.0C296.0 208.3 297.1 209.2 298.0 209.0C298.9 208.8 299.8 206.4 300.6 206.6C301.4 206.8 302.3 207.6 303.0 210.0C303.7 212.4 304.3 216.5 305.0 221.0C305.7 225.5 306.3 231.7 307.0 237.0C307.7 242.3 308.3 248.7 309.0 253.0C309.7 257.3 310.4 260.9 311.0 263.0C311.6 265.1 312.0 265.9 312.6 265.4C313.2 264.9 313.9 263.1 314.6 260.0C315.3 256.9 316.3 251.2 317.0 247.0C317.7 242.8 318.3 238.5 319.0 235.0C319.7 231.5 320.6 228.2 321.4 226.0C322.2 223.8 323.1 222.5 324.0 222.0C324.9 221.5 326.0 222.5 327.0 223.0C328.0 223.5 329.0 224.2 330.0 225.0C331.0 225.8 332.0 227.2 333.0 228.0C334.0 228.8 335.2 229.6 336.0 230.0C336.8 230.4 337.2 231.8 338.0 230.6C338.8 229.4 340.0 226.3 341.0 223.0C342.0 219.7 343.0 215.0 344.0 211.0C345.0 207.0 346.0 202.7 347.0 199.0C348.0 195.3 349.0 191.8 350.0 189.0C351.0 186.2 352.0 184.2 353.0 182.0C354.0 179.8 355.0 177.8 356.0 176.0C357.0 174.2 358.0 172.3 359.0 171.0C360.0 169.7 361.0 168.5 362.0 168.0C363.0 167.5 364.0 167.5 365.0 168.0C366.0 168.5 367.2 170.0 368.0 171.0C368.8 172.0 369.3 172.7 370.0 174.0C370.7 175.3 371.6 177.9 372.4 179.0C373.2 180.1 374.1 180.4 375.0 180.6C375.9 180.8 377.0 179.8 378.0 180.0C379.0 180.2 380.1 181.2 381.0 182.0C381.9 182.8 382.8 184.3 383.6 185.0C384.4 185.7 385.2 186.3 386.0 186.0C386.8 185.7 387.6 184.3 388.4 183.0C389.2 181.7 390.1 179.5 391.0 178.0C391.9 176.5 393.0 175.1 394.0 174.0C395.0 172.9 396.0 172.1 397.0 171.4C398.0 170.7 399.0 170.5 400.0 170.0C401.0 169.5 402.1 168.8 403.0 168.6C403.9 168.4 404.8 168.1 405.6 169.0C406.4 169.9 407.3 171.3 408.0 174.0C408.7 176.7 409.3 180.5 410.0 185.0C410.7 189.5 411.6 195.7 412.4 201.0C413.2 206.3 414.1 211.7 415.0 217.0C415.9 222.3 417.0 227.7 418.0 233.0C419.0 238.3 420.0 243.8 421.0 249.0C422.0 254.2 423.1 259.8 424.0 264.0C424.9 268.2 425.7 271.9 426.4 274.0C427.1 276.1 427.5 276.6 428.0 276.6C428.5 276.6 429.0 276.6 429.6 274.0C430.2 271.4 430.9 266.5 431.6 261.0C432.3 255.5 432.9 248.0 433.6 241.0C434.3 234.0 434.9 226.0 435.6 219.0C436.3 212.0 436.9 205.0 437.6 199.0C438.3 193.0 439.1 188.0 440.0 183.0C440.9 178.0 442.0 173.7 443.0 169.0C444.0 164.3 445.1 159.7 446.0 155.0C446.9 150.3 447.7 145.2 448.4 141.0C449.1 136.8 449.7 132.8 450.4 130.0C451.1 127.2 451.6 125.2 452.4 124.0C453.2 122.8 454.1 122.4 455.0 122.6C455.9 122.8 456.8 124.0 457.6 125.0C458.4 126.0 459.3 127.8 460.0 128.6C460.7 129.4 461.3 130.3 462.0 130.0C462.7 129.7 463.6 128.2 464.4 127.0C465.2 125.8 466.2 123.6 467.0 122.6C467.8 121.6 468.6 120.8 469.4 121.0C470.2 121.2 470.9 121.8 471.6 124.0C472.3 126.2 472.9 129.8 473.6 134.0C474.3 138.2 474.9 143.8 475.6 149.0C476.3 154.2 476.9 159.7 477.6 165.0C478.3 170.3 478.9 176.0 479.6 181.0C480.3 186.0 481.1 190.8 482.0 195.0C482.9 199.2 484.0 203.0 485.0 206.0C486.0 209.0 487.0 210.5 488.0 213.0C489.0 215.5 490.0 218.6 491.0 221.0C492.0 223.4 493.0 225.9 494.0 227.4C495.0 228.9 496.0 229.5 497.0 230.0C498.0 230.5 499.0 230.6 500.0 230.6C501.0 230.6 502.2 230.3 503.0 230.0C503.8 229.7 504.2 229.8 505.0 229.0C505.8 228.2 507.0 225.9 508.0 225.0C509.0 224.1 510.0 223.7 511.0 223.6C512.0 223.5 513.0 223.8 514.0 224.4C515.0 225.0 516.0 225.7 517.0 227.0C518.0 228.3 519.0 230.2 520.0 232.0C521.0 233.8 522.0 236.2 523.0 238.0C524.0 239.8 525.0 241.5 526.0 243.0C527.0 244.5 528.0 245.2 529.0 247.0C530.0 248.8 531.0 251.7 532.0 254.0C533.0 256.3 534.0 259.2 535.0 261.0C536.0 262.8 537.1 264.6 538.0 265.0C538.9 265.4 539.8 265.1 540.6 263.6C541.4 262.1 542.1 259.3 543.0 256.0C543.9 252.7 545.0 248.0 546.0 244.0C547.0 240.0 548.0 234.8 549.0 232.0C550.0 229.2 551.0 228.0 552.0 227.0C553.0 226.0 554.0 226.2 555.0 226.0C556.0 225.8 557.0 225.4 558.0 225.6C559.0 225.8 560.0 225.9 561.0 227.0C562.0 228.1 563.0 229.5 564.0 232.0C565.0 234.5 566.0 238.3 567.0 242.0C568.0 245.7 569.0 250.5 570.0 254.0C571.0 257.5 572.2 261.2 573.0 263.0C573.8 264.8 574.3 265.2 575.0 265.0C575.7 264.8 576.5 263.8 577.4 262.0C578.3 260.2 579.5 256.8 580.6 254.0C581.7 251.2 582.9 247.7 584.0 245.0C585.1 242.3 586.0 240.2 587.0 238.0C588.0 235.8 589.1 234.3 590.0 232.0C590.9 229.7 591.8 227.7 592.6 224.0C593.4 220.3 593.9 215.0 594.6 210.0C595.3 205.0 595.9 199.0 596.6 194.0C597.3 189.0 598.0 184.0 598.6 180.0C599.2 176.0 599.4 174.7 600.0 170.0C600.6 165.3 601.3 158.0 602.0 152.0C602.7 146.0 603.3 140.3 604.0 134.0C604.7 127.7 605.3 121.0 606.0 114.0C606.7 107.0 607.3 99.3 608.0 92.0C608.7 84.7 609.3 77.3 610.0 70.0C610.7 62.7 611.3 54.3 612.0 48.0C612.7 41.7 613.3 35.5 614.0 32.0C614.7 28.5 615.3 27.2 616.0 27.0C616.7 26.8 617.3 29.0 618.0 31.0C618.7 33.0 619.2 35.5 620.0 39.0C620.8 42.5 622.2 48.5 623.0 52.0C623.8 55.5 624.3 55.7 625.0 60.0C625.7 64.3 626.7 72.0 627.4 78.0C628.1 84.0 628.7 90.0 629.4 96.0C630.1 102.0 630.7 108.0 631.4 114.0C632.1 120.0 632.7 126.0 633.4 132.0C634.1 138.0 634.8 145.3 635.4 150.0C636.0 154.7 636.5 157.7 637.0 160.0C637.5 162.3 638.3 163.3 638.6 164.0" fill="none" stroke="#0000ff" stroke-width="3.5" stroke-linejoin="round" stroke-linecap="butt"/>
<path d="M102.4 202.0C102.8 201.8 104.1 201.5 105.0 201.0C105.9 200.5 107.0 199.5 108.0 199.0C109.0 198.5 110.0 198.2 111.0 198.0C112.0 197.8 113.0 199.0 114.0 198.0C115.0 197.0 116.0 194.0 117.0 192.0C118.0 190.0 119.2 187.1 120.0 186.0C120.8 184.9 121.3 185.1 122.0 185.6C122.7 186.1 123.3 187.7 124.0 189.0C124.7 190.3 125.6 193.1 126.4 193.6C127.2 194.1 128.2 192.9 129.0 192.0C129.8 191.1 130.3 189.0 131.0 188.0C131.7 187.0 132.2 186.0 133.0 186.0C133.8 186.0 135.1 187.7 136.0 188.0C136.9 188.3 137.6 189.0 138.4 188.0C139.2 187.0 140.2 184.7 141.0 182.0C141.8 179.3 142.3 174.8 143.0 172.0C143.7 169.2 144.3 166.3 145.0 165.0C145.7 163.7 146.3 163.7 147.0 164.0C147.7 164.3 148.2 165.7 149.0 167.0C149.8 168.3 150.8 170.8 151.6 172.0C152.4 173.2 153.1 173.9 154.0 174.0C154.9 174.1 156.0 173.4 157.0 172.4C158.0 171.4 159.0 169.6 160.0 168.0C161.0 166.4 162.0 164.8 163.0 163.0C164.0 161.2 165.0 158.6 166.0 157.0C167.0 155.4 168.1 154.3 169.0 153.6C169.9 152.9 170.8 152.9 171.6 153.0C172.4 153.1 173.1 154.7 174.0 154.4C174.9 154.1 176.0 152.1 177.0 151.0C178.0 149.9 179.2 148.0 180.0 147.6C180.8 147.2 181.3 147.7 182.0 148.4C182.7 149.1 183.3 151.1 184.0 152.0C184.7 152.9 185.6 153.5 186.4 153.6C187.2 153.7 188.1 152.9 189.0 152.4C189.9 151.9 190.8 150.8 191.6 150.4C192.4 150.0 193.1 149.6 194.0 150.0C194.9 150.4 196.0 151.7 197.0 153.0C198.0 154.3 199.0 156.0 200.0 158.0C201.0 160.0 202.0 162.8 203.0 165.0C204.0 167.2 205.0 169.2 206.0 171.0C207.0 172.8 208.0 174.4 209.0 175.6C210.0 176.8 211.0 177.4 212.0 178.0C213.0 178.6 214.0 178.8 215.0 179.4C216.0 180.0 217.0 180.7 218.0 181.6C219.0 182.5 220.2 183.6 221.0 185.0C221.8 186.4 222.2 188.4 223.0 190.0C223.8 191.6 225.0 193.5 226.0 194.4C227.0 195.3 228.0 195.5 229.0 195.6C230.0 195.7 231.1 194.8 232.0 195.0C232.9 195.2 233.9 196.8 234.4 197.0C234.9 197.2 234.4 195.2 235.0 196.0C235.6 196.8 237.0 200.2 238.0 202.0C239.0 203.8 240.0 205.7 241.0 207.0C242.0 208.3 243.0 209.3 244.0 210.0C245.0 210.7 246.0 210.7 247.0 211.0C248.0 211.3 249.0 211.8 250.0 212.0C251.0 212.2 252.0 211.9 253.0 212.0C254.0 212.1 255.0 212.1 256.0 212.6C257.0 213.1 258.0 213.6 259.0 215.0C260.0 216.4 261.0 219.0 262.0 221.0C263.0 223.0 264.0 225.7 265.0 227.0C266.0 228.3 267.0 228.7 268.0 229.0C269.0 229.3 270.0 228.7 271.0 228.6C272.0 228.5 273.0 228.7 274.0 228.6C275.0 228.5 276.0 228.2 277.0 228.0C278.0 227.8 279.0 227.4 280.0 227.4C281.0 227.4 282.0 227.4 283.0 228.0C284.0 228.6 285.0 230.2 286.0 231.0C287.0 231.8 288.0 232.7 289.0 233.0C290.0 233.3 291.0 232.9 292.0 232.6C293.0 232.3 294.0 231.3 295.0 231.4C296.0 231.5 297.0 231.9 298.0 233.0C299.0 234.1 300.0 236.2 301.0 238.0C302.0 239.8 303.2 242.8 304.0 244.0C304.8 245.2 305.3 245.7 306.0 245.4C306.7 245.1 307.2 243.2 308.0 242.0C308.8 240.8 309.8 238.2 310.6 238.0C311.4 237.8 311.9 239.5 312.6 241.0C313.3 242.5 313.9 245.4 314.6 247.0C315.3 248.6 315.9 250.4 316.6 250.6C317.3 250.8 317.9 249.6 318.6 248.0C319.3 246.4 320.1 242.6 321.0 241.0C321.9 239.4 323.0 239.3 324.0 238.6C325.0 237.9 326.0 238.6 327.0 237.0C328.0 235.4 329.0 231.7 330.0 229.0C331.0 226.3 332.0 223.0 333.0 221.0C334.0 219.0 335.0 218.5 336.0 217.0C337.0 215.5 338.0 213.3 339.0 212.0C340.0 210.7 341.0 210.3 342.0 209.0C343.0 207.7 344.0 206.2 345.0 204.0C346.0 201.8 347.0 198.5 348.0 196.0C349.0 193.5 350.2 190.5 351.0 189.0C351.8 187.5 352.2 187.0 353.0 187.0C353.8 187.0 355.0 188.9 356.0 189.0C357.0 189.1 358.0 188.1 359.0 187.4C360.0 186.7 361.0 185.5 362.0 184.6C363.0 183.7 364.2 183.1 365.0 182.0C365.8 180.9 366.3 179.7 367.0 178.0C367.7 176.3 368.9 173.2 369.4 172.0C369.9 170.8 369.4 170.4 370.0 170.6C370.6 170.8 372.1 172.7 373.0 173.4C373.9 174.1 374.7 175.0 375.6 175.0C376.5 175.0 377.5 173.9 378.4 173.4C379.3 172.9 380.1 172.0 381.0 172.0C381.9 172.0 382.8 172.9 383.6 173.4C384.4 173.9 385.1 174.4 386.0 175.0C386.9 175.6 388.1 177.2 389.0 177.0C389.9 176.8 390.8 175.2 391.6 174.0C392.4 172.8 393.1 171.0 394.0 170.0C394.9 169.0 396.0 168.8 397.0 168.0C398.0 167.2 399.1 166.3 400.0 165.0C400.9 163.7 401.7 161.1 402.4 160.0C403.1 158.9 403.6 158.5 404.4 158.6C405.2 158.7 406.1 160.8 407.0 160.6C407.9 160.4 408.8 158.5 409.6 157.4C410.4 156.3 411.2 154.5 412.0 154.0C412.8 153.5 413.6 154.6 414.4 154.6C415.2 154.6 416.1 154.6 417.0 154.0C417.9 153.4 419.0 152.1 420.0 151.0C421.0 149.9 422.0 148.6 423.0 147.4C424.0 146.2 425.1 144.8 426.0 144.0C426.9 143.2 427.6 142.6 428.4 142.6C429.2 142.6 430.1 143.3 431.0 144.0C431.9 144.7 433.0 145.9 434.0 146.6C435.0 147.3 436.0 147.6 437.0 148.0C438.0 148.4 439.1 149.0 440.0 149.0C440.9 149.0 441.7 149.2 442.4 148.0C443.1 146.8 443.7 144.3 444.4 142.0C445.1 139.7 445.7 136.1 446.4 134.0C447.1 131.9 447.7 129.9 448.4 129.4C449.1 128.9 449.7 129.9 450.4 131.0C451.1 132.1 451.6 134.5 452.4 136.0C453.2 137.5 454.1 139.2 455.0 140.0C455.9 140.8 456.8 140.9 457.6 140.6C458.4 140.3 459.2 138.7 460.0 138.0C460.8 137.3 461.6 136.7 462.4 136.6C463.2 136.5 464.1 136.8 465.0 137.4C465.9 138.0 467.0 139.1 468.0 140.0C469.0 140.9 470.0 141.9 471.0 143.0C472.0 144.1 473.0 145.4 474.0 146.6C475.0 147.8 476.0 148.6 477.0 150.0C478.0 151.4 479.0 153.0 480.0 155.0C481.0 157.0 482.0 159.8 483.0 162.0C484.0 164.2 485.1 166.5 486.0 168.0C486.9 169.5 487.6 170.3 488.4 171.0C489.2 171.7 490.1 171.3 491.0 172.0C491.9 172.7 492.7 173.8 493.6 175.0C494.5 176.2 495.4 177.8 496.4 179.0C497.4 180.2 498.6 181.2 499.6 182.0C500.6 182.8 501.5 183.3 502.4 184.0C503.3 184.7 504.1 185.0 505.0 186.0C505.9 187.0 507.0 188.7 508.0 190.0C509.0 191.3 510.0 193.0 511.0 194.0C512.0 195.0 513.0 195.7 514.0 196.0C515.0 196.3 516.0 195.8 517.0 195.6C518.0 195.4 519.0 194.8 520.0 195.0C521.0 195.2 522.0 195.8 523.0 197.0C524.0 198.2 525.0 200.5 526.0 202.0C527.0 203.5 528.0 205.1 529.0 206.0C530.0 206.9 531.0 207.5 532.0 207.6C533.0 207.7 534.0 206.8 535.0 206.4C536.0 206.0 537.1 205.1 538.0 205.0C538.9 204.9 539.7 205.8 540.6 205.6C541.5 205.4 542.5 204.8 543.4 204.0C544.3 203.2 545.2 201.5 546.0 201.0C546.8 200.5 547.2 200.5 548.0 201.0C548.8 201.5 549.7 203.0 550.6 204.0C551.5 205.0 552.4 206.3 553.4 207.0C554.4 207.7 555.6 208.3 556.6 208.4C557.6 208.5 558.5 208.0 559.4 207.6C560.3 207.2 561.1 206.3 562.0 206.0C562.9 205.7 563.8 205.1 564.6 205.6C565.4 206.1 566.1 207.4 567.0 209.0C567.9 210.6 569.0 213.2 570.0 215.0C571.0 216.8 572.2 218.9 573.0 220.0C573.8 221.1 574.3 221.8 575.0 221.6C575.7 221.4 576.6 219.9 577.4 219.0C578.2 218.1 579.1 216.6 580.0 216.4C580.9 216.2 581.7 217.5 582.6 218.0C583.5 218.5 584.5 219.4 585.4 219.6C586.3 219.8 587.1 219.3 588.0 219.0C588.9 218.7 590.0 218.7 591.0 218.0C592.0 217.3 593.1 216.5 594.0 215.0C594.9 213.5 595.8 210.8 596.6 209.0C597.4 207.2 598.2 205.5 599.0 204.4C599.8 203.3 600.6 202.6 601.4 202.4C602.2 202.2 603.1 203.4 604.0 203.0C604.9 202.6 605.8 201.3 606.6 200.0C607.4 198.7 608.2 196.8 609.0 195.0C609.8 193.2 610.6 191.0 611.4 189.0C612.2 187.0 613.1 184.3 614.0 183.0C614.9 181.7 615.8 181.2 616.6 181.0C617.4 180.8 618.2 181.8 619.0 181.6C619.8 181.4 620.6 180.8 621.4 180.0C622.2 179.2 623.1 178.2 624.0 177.0C624.9 175.8 625.8 174.7 626.6 173.0C627.4 171.3 628.1 168.8 629.0 167.0C629.9 165.2 631.0 163.3 632.0 162.0C633.0 160.7 634.0 159.6 635.0 159.0C636.0 158.4 637.2 158.4 638.0 158.4C638.8 158.4 639.7 158.9 640.0 159.0" fill="none" stroke="#ffb400" stroke-width="3.5" stroke-linejoin="round" stroke-linecap="butt"/>
<text x="94.3" y="55.8" font-size="23" text-anchor="end">420</text>
<text x="94.3" y="149.6" font-size="23" text-anchor="end">410</text>
<text x="94.3" y="243.4" font-size="23" text-anchor="end">400</text>
<text x="94.3" y="337.2" font-size="23" text-anchor="end">390</text>
<text transform="translate(113.7 38.2) scale(0.95 1)" font-size="28">(a)</text>
<text transform="translate(18.1 188.2) rotate(-90)" font-size="23.5" text-anchor="middle">CO<tspan font-size="15" dy="5">2</tspan><tspan dy="-5"> [ppm]</tspan></text>
</g>
<g id="panel1">
<rect x="146.5" y="393.0" width="67.5" height="356.1" fill="#c8c8c8"/>
<rect x="414.6" y="393.0" width="68.2" height="356.1" fill="#c8c8c8"/>
<rect x="524.0" y="393.0" width="10.0" height="356.1" fill="#878787"/>
<line x1="100.9" x2="631.1" y1="711.6" y2="711.6" stroke="#858585" stroke-width="0.9" stroke-dasharray="1.6 3.345"/>
<line x1="100.9" x2="631.1" y1="664.7" y2="664.7" stroke="#858585" stroke-width="0.9" stroke-dasharray="1.6 3.345"/>
<line x1="100.9" x2="631.1" y1="617.8" y2="617.8" stroke="#858585" stroke-width="0.9" stroke-dasharray="1.6 3.345"/>
<line x1="100.9" x2="631.1" y1="571.0" y2="571.0" stroke="#858585" stroke-width="0.9" stroke-dasharray="1.6 3.345"/>
<line x1="100.9" x2="631.1" y1="524.1" y2="524.1" stroke="#858585" stroke-width="0.9" stroke-dasharray="1.6 3.345"/>
<line x1="100.9" x2="631.1" y1="477.2" y2="477.2" stroke="#858585" stroke-width="0.9" stroke-dasharray="1.6 3.345"/>
<line x1="100.9" x2="631.1" y1="430.3" y2="430.3" stroke="#858585" stroke-width="0.9" stroke-dasharray="1.6 3.345"/>
<line x1="100.2" x2="642.1" y1="383.4" y2="383.4" stroke="#000" stroke-width="1.3"/>
<line x1="100.2" x2="642.1" y1="758.5" y2="758.5" stroke="#000" stroke-width="1.3"/>
<line x1="101.2" x2="101.2" y1="382.8" y2="759.1" stroke="#222" stroke-width="2"/>
<line x1="641.1" x2="641.1" y1="382.8" y2="759.1" stroke="#222" stroke-width="2"/>
<line x1="102.60" x2="102.60" y1="383.4" y2="397.2" stroke="#000" stroke-width="1.3"/>
<line x1="102.60" x2="102.60" y1="744.7" y2="758.5" stroke="#000" stroke-width="1.3"/>
<line x1="639.49" x2="639.49" y1="383.4" y2="397.2" stroke="#000" stroke-width="1.3"/>
<line x1="639.49" x2="639.49" y1="744.7" y2="758.5" stroke="#000" stroke-width="1.3"/>
<line x1="125.4" x2="125.4" y1="383.4" y2="390.3" stroke="#777" stroke-width="0.8"/>
<line x1="125.4" x2="125.4" y1="758.5" y2="751.6" stroke="#777" stroke-width="0.8"/>
<line x1="146.7" x2="146.7" y1="383.4" y2="390.3" stroke="#777" stroke-width="0.8"/>
<line x1="146.7" x2="146.7" y1="758.5" y2="751.6" stroke="#777" stroke-width="0.8"/>
<line x1="169.4" x2="169.4" y1="383.4" y2="390.3" stroke="#777" stroke-width="0.8"/>
<line x1="169.4" x2="169.4" y1="758.5" y2="751.6" stroke="#777" stroke-width="0.8"/>
<line x1="191.5" x2="191.5" y1="383.4" y2="390.3" stroke="#777" stroke-width="0.8"/>
<line x1="191.5" x2="191.5" y1="758.5" y2="751.6" stroke="#777" stroke-width="0.8"/>
<line x1="214.2" x2="214.2" y1="383.4" y2="390.3" stroke="#777" stroke-width="0.8"/>
<line x1="214.2" x2="214.2" y1="758.5" y2="751.6" stroke="#777" stroke-width="0.8"/>
<line x1="236.3" x2="236.3" y1="383.4" y2="397.2" stroke="#000" stroke-width="1.1"/>
<line x1="236.3" x2="236.3" y1="758.5" y2="744.7" stroke="#000" stroke-width="1.1"/>
<line x1="259.0" x2="259.0" y1="383.4" y2="390.3" stroke="#777" stroke-width="0.8"/>
<line x1="259.0" x2="259.0" y1="758.5" y2="751.6" stroke="#777" stroke-width="0.8"/>
<line x1="281.8" x2="281.8" y1="383.4" y2="390.3" stroke="#777" stroke-width="0.8"/>
<line x1="281.8" x2="281.8" y1="758.5" y2="751.6" stroke="#777" stroke-width="0.8"/>
<line x1="303.8" x2="303.8" y1="383.4" y2="390.3" stroke="#777" stroke-width="0.8"/>
<line x1="303.8" x2="303.8" y1="758.5" y2="751.6" stroke="#777" stroke-width="0.8"/>
<line x1="326.6" x2="326.6" y1="383.4" y2="390.3" stroke="#777" stroke-width="0.8"/>
<line x1="326.6" x2="326.6" y1="758.5" y2="751.6" stroke="#777" stroke-width="0.8"/>
<line x1="348.6" x2="348.6" y1="383.4" y2="390.3" stroke="#777" stroke-width="0.8"/>
<line x1="348.6" x2="348.6" y1="758.5" y2="751.6" stroke="#777" stroke-width="0.8"/>
<line x1="371.4" x2="371.4" y1="383.4" y2="397.2" stroke="#000" stroke-width="1.1"/>
<line x1="371.4" x2="371.4" y1="758.5" y2="744.7" stroke="#000" stroke-width="1.1"/>
<line x1="394.2" x2="394.2" y1="383.4" y2="390.3" stroke="#777" stroke-width="0.8"/>
<line x1="394.2" x2="394.2" y1="758.5" y2="751.6" stroke="#777" stroke-width="0.8"/>
<line x1="414.7" x2="414.7" y1="383.4" y2="390.3" stroke="#777" stroke-width="0.8"/>
<line x1="414.7" x2="414.7" y1="758.5" y2="751.6" stroke="#777" stroke-width="0.8"/>
<line x1="437.5" x2="437.5" y1="383.4" y2="390.3" stroke="#777" stroke-width="0.8"/>
<line x1="437.5" x2="437.5" y1="758.5" y2="751.6" stroke="#777" stroke-width="0.8"/>
<line x1="459.5" x2="459.5" y1="383.4" y2="390.3" stroke="#777" stroke-width="0.8"/>
<line x1="459.5" x2="459.5" y1="758.5" y2="751.6" stroke="#777" stroke-width="0.8"/>
<line x1="482.3" x2="482.3" y1="383.4" y2="390.3" stroke="#777" stroke-width="0.8"/>
<line x1="482.3" x2="482.3" y1="758.5" y2="751.6" stroke="#777" stroke-width="0.8"/>
<line x1="504.3" x2="504.3" y1="383.4" y2="397.2" stroke="#000" stroke-width="1.1"/>
<line x1="504.3" x2="504.3" y1="758.5" y2="744.7" stroke="#000" stroke-width="1.1"/>
<line x1="527.1" x2="527.1" y1="383.4" y2="390.3" stroke="#777" stroke-width="0.8"/>
<line x1="527.1" x2="527.1" y1="758.5" y2="751.6" stroke="#777" stroke-width="0.8"/>
<line x1="549.9" x2="549.9" y1="383.4" y2="390.3" stroke="#777" stroke-width="0.8"/>
<line x1="549.9" x2="549.9" y1="758.5" y2="751.6" stroke="#777" stroke-width="0.8"/>
<line x1="571.9" x2="571.9" y1="383.4" y2="390.3" stroke="#777" stroke-width="0.8"/>
<line x1="571.9" x2="571.9" y1="758.5" y2="751.6" stroke="#777" stroke-width="0.8"/>
<line x1="594.7" x2="594.7" y1="383.4" y2="390.3" stroke="#777" stroke-width="0.8"/>
<line x1="594.7" x2="594.7" y1="758.5" y2="751.6" stroke="#777" stroke-width="0.8"/>
<line x1="616.7" x2="616.7" y1="383.4" y2="390.3" stroke="#777" stroke-width="0.8"/>
<line x1="616.7" x2="616.7" y1="758.5" y2="751.6" stroke="#777" stroke-width="0.8"/>
<line x1="101.2" x2="107.9" y1="749.1" y2="749.1" stroke="#000" stroke-width="1.5"/>
<line x1="641.1" x2="634.1" y1="749.1" y2="749.1" stroke="#000" stroke-width="1.5"/>
<line x1="101.2" x2="107.9" y1="739.7" y2="739.7" stroke="#000" stroke-width="1.5"/>
<line x1="641.1" x2="634.1" y1="739.7" y2="739.7" stroke="#000" stroke-width="1.5"/>
<line x1="101.2" x2="107.9" y1="730.4" y2="730.4" stroke="#000" stroke-width="1.5"/>
<line x1="641.1" x2="634.1" y1="730.4" y2="730.4" stroke="#000" stroke-width="1.5"/>
<line x1="101.2" x2="107.9" y1="721.0" y2="721.0" stroke="#000" stroke-width="1.5"/>
<line x1="641.1" x2="634.1" y1="721.0" y2="721.0" stroke="#000" stroke-width="1.5"/>
<line x1="108.0" x2="115.2" y1="711.6" y2="711.6" stroke="#000" stroke-width="1.5"/>
<line x1="641.1" x2="634.1" y1="711.6" y2="711.6" stroke="#000" stroke-width="1.1"/>
<line x1="105.8" x2="117.2" y1="711.6" y2="711.6" stroke="#9a9a9a" stroke-width="1.3" stroke-dasharray="1.6 3.345"/>
<line x1="101.2" x2="107.9" y1="702.2" y2="702.2" stroke="#000" stroke-width="1.5"/>
<line x1="641.1" x2="634.1" y1="702.2" y2="702.2" stroke="#000" stroke-width="1.5"/>
<line x1="101.2" x2="107.9" y1="692.9" y2="692.9" stroke="#000" stroke-width="1.5"/>
<line x1="641.1" x2="634.1" y1="692.9" y2="692.9" stroke="#000" stroke-width="1.5"/>
<line x1="101.2" x2="107.9" y1="683.5" y2="683.5" stroke="#000" stroke-width="1.5"/>
<line x1="641.1" x2="634.1" y1="683.5" y2="683.5" stroke="#000" stroke-width="1.5"/>
<line x1="101.2" x2="107.9" y1="674.1" y2="674.1" stroke="#000" stroke-width="1.5"/>
<line x1="641.1" x2="634.1" y1="674.1" y2="674.1" stroke="#000" stroke-width="1.5"/>
<line x1="101.2" x2="107.9" y1="664.7" y2="664.7" stroke="#000" stroke-width="1.5"/>
<line x1="641.1" x2="634.1" y1="664.7" y2="664.7" stroke="#000" stroke-width="1.5"/>
<line x1="101.2" x2="107.9" y1="655.3" y2="655.3" stroke="#000" stroke-width="1.5"/>
<line x1="641.1" x2="634.1" y1="655.3" y2="655.3" stroke="#000" stroke-width="1.5"/>
<line x1="101.2" x2="107.9" y1="646.0" y2="646.0" stroke="#000" stroke-width="1.5"/>
<line x1="641.1" x2="634.1" y1="646.0" y2="646.0" stroke="#000" stroke-width="1.5"/>
<line x1="101.2" x2="107.9" y1="636.6" y2="636.6" stroke="#000" stroke-width="1.5"/>
<line x1="641.1" x2="634.1" y1="636.6" y2="636.6" stroke="#000" stroke-width="1.5"/>
<line x1="101.2" x2="107.9" y1="627.2" y2="627.2" stroke="#000" stroke-width="1.5"/>
<line x1="641.1" x2="634.1" y1="627.2" y2="627.2" stroke="#000" stroke-width="1.5"/>
<line x1="108.0" x2="115.2" y1="617.8" y2="617.8" stroke="#000" stroke-width="1.5"/>
<line x1="641.1" x2="634.1" y1="617.8" y2="617.8" stroke="#000" stroke-width="1.1"/>
<line x1="105.8" x2="117.2" y1="617.8" y2="617.8" stroke="#9a9a9a" stroke-width="1.3" stroke-dasharray="1.6 3.345"/>
<line x1="101.2" x2="107.9" y1="608.5" y2="608.5" stroke="#000" stroke-width="1.5"/>
<line x1="641.1" x2="634.1" y1="608.5" y2="608.5" stroke="#000" stroke-width="1.5"/>
<line x1="101.2" x2="107.9" y1="599.1" y2="599.1" stroke="#000" stroke-width="1.5"/>
<line x1="641.1" x2="634.1" y1="599.1" y2="599.1" stroke="#000" stroke-width="1.5"/>
<line x1="101.2" x2="107.9" y1="589.7" y2="589.7" stroke="#000" stroke-width="1.5"/>
<line x1="641.1" x2="634.1" y1="589.7" y2="589.7" stroke="#000" stroke-width="1.5"/>
<line x1="101.2" x2="107.9" y1="580.3" y2="580.3" stroke="#000" stroke-width="1.5"/>
<line x1="641.1" x2="634.1" y1="580.3" y2="580.3" stroke="#000" stroke-width="1.5"/>
<line x1="101.2" x2="107.9" y1="571.0" y2="571.0" stroke="#000" stroke-width="1.5"/>
<line x1="641.1" x2="634.1" y1="571.0" y2="571.0" stroke="#000" stroke-width="1.5"/>
<line x1="101.2" x2="107.9" y1="561.6" y2="561.6" stroke="#000" stroke-width="1.5"/>
<line x1="641.1" x2="634.1" y1="561.6" y2="561.6" stroke="#000" stroke-width="1.5"/>
<line x1="101.2" x2="107.9" y1="552.2" y2="552.2" stroke="#000" stroke-width="1.5"/>
<line x1="641.1" x2="634.1" y1="552.2" y2="552.2" stroke="#000" stroke-width="1.5"/>
<line x1="101.2" x2="107.9" y1="542.8" y2="542.8" stroke="#000" stroke-width="1.5"/>
<line x1="641.1" x2="634.1" y1="542.8" y2="542.8" stroke="#000" stroke-width="1.5"/>
<line x1="101.2" x2="107.9" y1="533.4" y2="533.4" stroke="#000" stroke-width="1.5"/>
<line x1="641.1" x2="634.1" y1="533.4" y2="533.4" stroke="#000" stroke-width="1.5"/>
<line x1="108.0" x2="115.2" y1="524.1" y2="524.1" stroke="#000" stroke-width="1.5"/>
<line x1="641.1" x2="634.1" y1="524.1" y2="524.1" stroke="#000" stroke-width="1.1"/>
<line x1="105.8" x2="117.2" y1="524.1" y2="524.1" stroke="#9a9a9a" stroke-width="1.3" stroke-dasharray="1.6 3.345"/>
<line x1="101.2" x2="107.9" y1="514.7" y2="514.7" stroke="#000" stroke-width="1.5"/>
<line x1="641.1" x2="634.1" y1="514.7" y2="514.7" stroke="#000" stroke-width="1.5"/>
<line x1="101.2" x2="107.9" y1="505.3" y2="505.3" stroke="#000" stroke-width="1.5"/>
<line x1="641.1" x2="634.1" y1="505.3" y2="505.3" stroke="#000" stroke-width="1.5"/>
<line x1="101.2" x2="107.9" y1="495.9" y2="495.9" stroke="#000" stroke-width="1.5"/>
<line x1="641.1" x2="634.1" y1="495.9" y2="495.9" stroke="#000" stroke-width="1.5"/>
<line x1="101.2" x2="107.9" y1="486.6" y2="486.6" stroke="#000" stroke-width="1.5"/>
<line x1="641.1" x2="634.1" y1="486.6" y2="486.6" stroke="#000" stroke-width="1.5"/>
<line x1="101.2" x2="107.9" y1="477.2" y2="477.2" stroke="#000" stroke-width="1.5"/>
<line x1="641.1" x2="634.1" y1="477.2" y2="477.2" stroke="#000" stroke-width="1.5"/>
<line x1="101.2" x2="107.9" y1="467.8" y2="467.8" stroke="#000" stroke-width="1.5"/>
<line x1="641.1" x2="634.1" y1="467.8" y2="467.8" stroke="#000" stroke-width="1.5"/>
<line x1="101.2" x2="107.9" y1="458.4" y2="458.4" stroke="#000" stroke-width="1.5"/>
<line x1="641.1" x2="634.1" y1="458.4" y2="458.4" stroke="#000" stroke-width="1.5"/>
<line x1="101.2" x2="107.9" y1="449.0" y2="449.0" stroke="#000" stroke-width="1.5"/>
<line x1="641.1" x2="634.1" y1="449.0" y2="449.0" stroke="#000" stroke-width="1.5"/>
<line x1="101.2" x2="107.9" y1="439.7" y2="439.7" stroke="#000" stroke-width="1.5"/>
<line x1="641.1" x2="634.1" y1="439.7" y2="439.7" stroke="#000" stroke-width="1.5"/>
<line x1="108.0" x2="115.2" y1="430.3" y2="430.3" stroke="#000" stroke-width="1.5"/>
<line x1="641.1" x2="634.1" y1="430.3" y2="430.3" stroke="#000" stroke-width="1.1"/>
<line x1="105.8" x2="117.2" y1="430.3" y2="430.3" stroke="#9a9a9a" stroke-width="1.3" stroke-dasharray="1.6 3.345"/>
<line x1="101.2" x2="107.9" y1="420.9" y2="420.9" stroke="#000" stroke-width="1.5"/>
<line x1="641.1" x2="634.1" y1="420.9" y2="420.9" stroke="#000" stroke-width="1.5"/>
<line x1="101.2" x2="107.9" y1="411.5" y2="411.5" stroke="#000" stroke-width="1.5"/>
<line x1="641.1" x2="634.1" y1="411.5" y2="411.5" stroke="#000" stroke-width="1.5"/>
<line x1="101.2" x2="107.9" y1="402.2" y2="402.2" stroke="#000" stroke-width="1.5"/>
<line x1="641.1" x2="634.1" y1="402.2" y2="402.2" stroke="#000" stroke-width="1.5"/>
<line x1="101.2" x2="107.9" y1="392.8" y2="392.8" stroke="#000" stroke-width="1.5"/>
<line x1="641.1" x2="634.1" y1="392.8" y2="392.8" stroke="#000" stroke-width="1.5"/>
<path d="M102.4 597.2L103.1 597.1L104.0 596.6L105.0 595.8L105.7 595.1L106.5 594.8L107.2 594.5L108.0 594.1L108.8 593.7L109.5 593.5L110.2 593.2L111.0 593.1L111.8 593.1L112.5 592.8L113.2 592.4L114.0 592.1L114.8 591.1L115.5 590.1L116.2 589.3L117.0 588.0L117.8 587.0L118.5 586.1L119.2 585.1L120.0 584.1L120.8 583.3L121.5 583.5L122.2 583.9L123.0 583.5L123.8 582.8L124.5 582.4L125.2 582.3L126.0 581.9L126.8 581.7L127.5 581.3L128.2 580.3L129.0 579.9L129.8 579.7L130.5 579.6L131.2 579.7L132.0 579.2L132.8 579.0L133.5 579.1L134.2 579.1L135.0 579.0L135.8 578.1L136.6 577.2L137.3 576.9L138.0 576.5L139.1 577.0L140.0 577.8L140.9 579.2L142.0 580.2L142.7 579.7L143.4 579.4L144.2 579.0L145.0 578.3L145.8 578.1L146.5 577.6L147.2 577.1L148.0 577.1L148.8 576.8L149.5 575.8L150.2 575.4L151.0 574.8L151.8 574.4L152.5 574.7L153.2 574.6L154.0 573.9L154.8 573.4L155.5 572.9L156.2 572.2L157.0 572.1L157.8 571.6L158.5 571.1L159.2 571.2L160.0 570.7L160.8 570.2L161.5 569.2L162.2 568.3L163.0 567.5L163.8 566.0L164.5 564.5L165.2 562.7L166.0 561.2L166.8 559.8L167.5 558.0L168.2 556.3L169.0 555.1L169.8 554.1L170.5 553.0L171.2 552.6L172.0 552.0L172.8 551.2L173.5 550.8L174.2 549.9L175.0 548.9L175.8 548.4L176.5 548.3L177.2 547.9L178.0 547.2L178.8 546.4L179.5 545.9L180.2 544.8L181.0 543.8L181.8 543.7L182.5 543.3L183.2 542.7L184.0 542.5L184.8 542.5L185.5 542.4L186.2 542.5L187.0 542.8L187.8 543.4L188.5 543.8L189.2 544.2L190.0 545.0L190.8 545.4L191.5 545.3L192.2 545.3L193.0 545.3L193.8 545.2L194.5 545.1L195.2 545.0L196.0 545.0L196.8 544.4L197.5 543.7L198.2 543.5L199.0 543.3L199.8 542.9L200.5 543.1L201.2 543.0L202.0 542.9L202.8 543.1L203.5 543.3L204.2 543.7L205.0 543.3L205.8 543.1L206.5 543.7L207.2 544.0L208.0 544.0L208.8 544.6L209.5 545.3L210.2 545.7L211.0 546.0L211.8 546.0L212.5 546.1L213.2 546.2L214.0 546.5L214.8 546.8L215.5 546.6L216.2 546.7L217.0 546.8L217.8 546.9L218.5 547.6L219.2 548.2L220.0 548.8L220.8 549.4L221.5 549.9L222.2 550.3L223.0 551.0L223.8 551.5L224.5 552.1L225.2 553.1L226.0 553.9L226.8 554.5L227.5 554.9L228.2 555.5L229.0 556.3L229.8 556.5L230.5 557.2L231.2 558.1L232.0 558.2L232.8 558.4L233.5 558.4L234.2 558.3L235.0 559.0L235.8 559.8L236.5 561.2L237.2 563.1L238.0 564.1L238.8 565.3L239.5 566.3L240.2 567.5L241.0 568.6L241.8 569.9L242.5 571.1L243.2 572.2L244.0 572.9L244.8 573.4L245.5 574.6L246.2 575.5L247.0 576.1L247.8 576.5L248.5 577.1L249.2 578.0L250.0 578.7L250.8 579.8L251.5 580.9L252.2 581.7L253.0 582.4L253.8 582.8L254.5 583.2L255.2 584.2L256.0 584.9L256.8 585.5L257.5 586.3L258.2 586.8L259.0 587.1L259.8 587.4L260.5 588.0L261.2 588.3L262.0 588.8L262.8 589.3L263.5 589.6L264.2 590.1L265.0 590.9L265.8 591.5L266.5 591.9L267.2 592.5L268.0 593.3L268.8 594.3L269.5 594.8L270.2 595.1L271.0 595.7L271.8 596.4L272.5 597.2L273.2 598.2L274.0 598.8L274.8 599.1L275.5 599.6L276.2 600.3L277.0 600.9L277.8 601.5L278.5 602.3L279.2 602.9L280.0 603.1L280.8 603.5L281.5 603.8L282.2 604.0L283.0 604.1L283.8 604.3L284.5 604.9L285.2 604.8L286.0 604.9L286.8 605.3L287.5 605.2L288.2 605.3L289.0 605.9L289.8 606.1L290.5 606.3L291.2 606.3L292.0 606.3L292.8 606.4L293.5 606.6L294.2 607.1L295.0 607.0L295.8 606.9L296.5 607.4L297.2 607.1L298.0 606.9L298.8 607.0L299.5 607.1L300.2 606.5L301.0 606.3L301.8 606.1L302.5 605.8L303.2 606.2L304.0 606.0L304.8 605.8L305.5 605.9L306.2 605.5L307.0 605.2L307.8 604.9L308.5 604.3L309.2 603.8L310.0 603.4L310.8 603.3L311.5 603.2L312.2 602.8L313.0 602.0L313.8 601.3L314.5 600.6L315.2 600.1L316.0 599.7L316.8 599.2L317.5 598.6L318.2 597.8L319.0 597.3L319.8 596.3L320.5 595.7L321.2 595.0L322.0 594.3L322.8 593.7L323.5 593.4L324.2 592.6L325.0 592.0L325.8 591.8L326.5 590.9L327.2 590.2L328.0 589.3L328.8 588.4L329.5 587.7L330.2 587.1L331.0 586.5L331.8 586.2L332.5 585.4L333.2 584.6L334.0 583.9L334.8 583.0L335.5 582.4L336.2 581.7L337.0 581.5L337.8 581.1L338.5 580.6L339.2 580.4L340.0 580.1L340.8 579.7L341.5 579.1L342.2 578.6L343.0 578.7L343.8 578.3L344.5 577.8L345.2 577.9L346.0 577.6L346.8 577.4L347.5 577.1L348.2 576.5L349.0 575.8L349.8 575.6L350.5 575.5L351.2 575.5L352.0 575.2L352.8 574.9L353.5 574.8L354.2 574.4L355.0 574.2L355.8 574.3L356.5 573.7L357.2 573.7L358.0 573.8L358.8 573.5L359.5 572.9L360.2 572.2L361.0 571.6L361.8 571.3L362.5 571.2L363.2 570.6L364.0 569.6L364.8 569.1L365.5 568.6L366.2 568.4L367.0 568.2L367.8 567.9L368.5 567.0L369.2 566.2L370.0 565.7L370.8 565.6L371.5 565.5L372.2 564.7L373.0 564.3L373.8 563.6L374.5 562.8L375.2 562.1L376.0 561.3L376.8 561.2L377.5 561.1L378.2 560.5L379.0 560.3L379.8 560.0L380.5 559.7L381.2 559.1L382.0 558.6L382.8 558.5L383.5 558.7L384.2 558.9L385.0 558.5L385.8 558.2L386.5 557.7L387.2 557.6L388.0 557.7L388.8 557.2L389.5 557.4L390.2 557.7L391.0 557.3L391.8 557.3L392.5 557.5L393.2 557.9L394.0 558.4L394.8 557.9L395.5 557.4L396.2 557.5L397.0 557.7L397.8 557.6L398.5 557.2L399.2 556.6L400.0 556.5L400.8 556.3L401.5 556.0L402.2 555.6L403.0 555.2L403.8 555.1L404.5 554.8L405.2 554.5L406.0 554.1L406.8 553.4L407.5 553.7L408.2 553.5L409.0 553.5L409.8 553.5L410.5 552.8L411.2 552.5L412.0 552.6L412.8 552.3L413.5 551.9L414.2 551.2L415.0 551.0L415.8 550.7L416.5 550.3L417.2 549.7L418.0 549.3L418.8 549.2L419.5 548.8L420.2 548.4L421.0 548.4L421.8 548.8L422.5 548.6L423.2 548.4L424.0 548.3L424.8 548.4L425.5 548.6L426.2 548.0L427.0 547.5L427.8 546.9L428.5 546.6L429.2 546.8L430.0 546.9L430.8 546.7L431.5 546.4L432.2 545.6L433.0 544.8L433.8 544.3L434.5 543.8L435.2 543.1L436.0 542.9L436.8 542.3L437.5 541.9L438.2 541.5L439.0 540.4L439.8 539.9L440.5 539.6L441.2 538.9L442.0 537.8L442.8 537.0L443.5 536.2L444.2 534.9L445.0 533.8L445.8 532.9L446.5 532.3L447.2 532.0L448.0 531.7L448.8 531.4L449.5 531.1L450.2 531.2L451.0 531.2L451.8 530.9L452.5 530.1L453.2 529.5L454.0 529.2L454.8 528.3L455.5 528.1L456.2 527.8L457.0 527.1L457.8 526.8L458.5 527.1L459.2 526.9L460.0 526.4L460.8 526.3L461.5 525.9L462.2 525.7L463.0 525.2L463.8 525.1L464.5 525.4L465.2 525.5L466.0 525.5L466.8 525.2L467.5 525.2L468.2 525.5L469.0 525.2L469.8 525.0L470.5 525.1L471.2 524.7L472.0 524.3L472.8 524.7L473.5 524.6L474.2 524.3L475.0 524.3L475.8 524.5L476.5 524.5L477.3 524.3L478.0 524.0L478.8 523.6L479.6 523.8L480.4 524.0L481.2 524.5L482.1 525.3L483.0 525.7L483.7 526.0L484.5 526.7L485.2 527.4L486.0 527.8L486.8 528.3L487.5 528.8L488.2 529.6L489.0 530.4L489.8 531.1L490.5 531.8L491.2 532.7L492.0 533.3L492.8 533.8L493.5 534.0L494.2 534.4L495.0 535.1L495.8 535.8L496.5 536.0L497.2 536.0L498.0 536.5L498.8 537.5L499.5 538.7L500.2 539.2L501.0 540.0L501.8 541.0L502.6 541.8L503.4 542.6L504.0 542.6L505.0 542.6L505.6 542.9L506.4 543.0L507.2 543.8L508.0 544.5L508.8 544.9L509.5 545.4L510.2 546.1L511.0 546.6L511.8 547.1L512.5 547.6L513.2 548.2L514.0 548.8L514.8 549.0L515.5 549.2L516.2 549.3L517.0 549.4L517.8 549.8L518.5 550.5L519.2 551.2L520.0 551.6L520.8 552.3L521.5 553.2L522.2 553.8L523.0 554.2L523.8 555.0L524.5 555.8L525.2 556.5L526.0 557.1L526.8 557.7L527.5 558.0L528.2 558.9L529.0 559.8L529.8 560.1L530.5 560.6L531.2 561.3L532.0 561.8L532.8 562.6L533.5 563.8L534.2 564.4L535.0 564.9L535.8 565.6L536.5 566.6L537.2 567.4L538.0 567.9L538.8 568.8L539.5 569.6L540.2 570.5L541.0 571.1L541.8 571.6L542.5 572.1L543.2 572.8L544.0 573.4L544.8 573.8L545.5 574.8L546.2 575.4L547.0 575.9L547.8 576.7L548.5 577.1L549.2 577.4L550.0 577.9L550.8 578.8L551.5 579.0L552.2 579.5L553.0 580.3L553.8 580.6L554.5 581.1L555.2 581.7L556.0 582.3L556.8 582.9L557.5 583.1L558.2 583.1L559.0 583.4L559.8 584.2L560.5 584.5L561.2 584.4L562.0 584.8L562.8 585.1L563.5 585.3L564.2 585.8L565.0 586.1L565.8 586.3L566.5 586.6L567.2 586.7L568.0 586.9L568.8 587.1L569.5 586.8L570.2 586.8L571.0 586.9L571.8 587.0L572.5 587.1L573.2 586.7L574.0 586.4L574.8 586.4L575.5 586.2L576.2 585.4L577.0 585.3L577.8 584.9L578.5 584.2L579.2 583.8L580.0 583.9L580.8 583.7L581.5 583.2L582.2 583.1L583.0 582.6L583.8 581.8L584.5 581.9L585.2 581.4L586.0 580.5L586.8 580.2L587.5 580.4L588.2 580.0L589.0 579.3L589.8 578.8L590.5 578.3L591.2 578.0L592.0 577.6L592.8 576.8L593.5 576.1L594.2 576.0L595.0 575.6L595.8 574.9L596.5 574.1L597.2 573.8L598.0 573.3L598.8 572.6L599.5 571.9L600.2 570.9L601.0 569.8L601.8 569.3L602.5 568.9L603.2 567.7L604.0 566.5L604.8 566.1L605.5 565.7L606.2 564.6L607.0 564.1L607.8 563.2L608.5 562.3L609.2 561.7L610.0 560.9L610.8 560.4L611.5 559.8L612.2 559.3L613.0 558.9L613.8 557.9L614.5 557.2L615.2 557.0L616.0 556.5L616.8 556.1L617.5 555.5L618.2 554.9L619.0 554.8L619.8 554.5L620.5 554.1L621.2 554.0L622.0 554.0L622.8 553.9L623.5 553.6L624.2 553.3L625.0 553.0L625.8 552.9L626.5 552.9L627.2 552.7L628.0 552.5L628.8 552.1L629.5 551.4L630.2 551.2L631.0 551.0L631.8 550.5L632.5 550.3L633.2 549.9L634.0 549.7L634.8 549.6L635.6 549.3L636.3 549.3L637.0 549.5L638.0 549.6L638.6 549.4" fill="none" stroke="#00ffff" stroke-width="3.5" stroke-linejoin="round" stroke-linecap="butt"/>
<path d="M102.4 608.5L103.1 608.6L104.0 609.1L105.0 609.2L105.7 609.2L106.5 609.3L107.2 609.0L108.0 609.2L108.8 609.5L109.5 609.9L110.2 610.3L111.0 610.6L111.8 611.1L112.5 611.8L113.2 611.8L114.0 611.7L114.8 611.9L115.5 612.1L116.2 611.8L117.0 611.4L117.8 611.4L118.5 611.0L119.2 610.8L120.0 610.6L120.8 610.2L121.5 609.9L122.2 609.9L123.0 610.1L123.8 609.7L124.5 609.4L125.2 609.3L126.0 609.0L126.8 608.8L127.5 608.5L128.2 608.2L129.0 608.2L129.8 608.6L130.5 608.8L131.2 608.8L132.0 609.0L132.8 608.9L133.5 608.7L134.2 608.7L135.0 608.8L135.8 608.6L136.5 608.7L137.2 608.9L138.0 609.2L138.8 609.4L139.5 609.3L140.2 609.6L141.0 609.4L141.8 609.0L142.5 608.9L143.2 608.3L144.0 607.8L144.8 607.5L145.5 607.3L146.2 607.4L147.0 607.2L147.8 607.1L148.5 606.8L149.2 606.7L150.0 606.7L150.8 606.6L151.5 606.4L152.2 606.4L153.0 606.4L153.8 605.8L154.5 605.2L155.2 604.4L156.0 603.9L156.8 603.5L157.5 602.9L158.2 602.1L159.0 601.0L159.8 600.2L160.5 599.7L161.3 598.9L162.0 598.4L162.8 597.8L163.6 597.2L164.4 597.0L165.2 597.6L166.1 598.1L167.0 598.3L167.7 598.7L168.5 599.2L169.2 599.2L170.0 599.2L170.8 599.6L171.5 600.0L172.2 600.3L173.0 600.3L173.8 599.9L174.5 599.5L175.2 599.3L176.0 599.5L176.8 600.0L177.5 600.0L178.2 600.0L179.0 600.3L179.8 600.4L180.5 600.5L181.2 600.6L182.0 600.5L182.8 600.5L183.5 601.0L184.2 601.5L185.0 602.0L185.8 602.6L186.5 602.9L187.2 602.9L188.0 603.1L188.8 603.2L189.5 602.9L190.2 603.0L191.0 603.3L191.8 603.4L192.5 603.6L193.2 603.4L194.0 603.3L194.8 603.0L195.5 603.0L196.2 602.7L197.0 602.2L197.8 601.9L198.5 601.5L199.2 601.1L200.0 600.7L200.8 600.2L201.5 599.9L202.2 599.7L203.0 599.8L203.8 599.8L204.5 600.3L205.2 600.9L206.0 600.9L206.8 601.1L207.5 601.8L208.3 602.3L209.0 602.3L209.9 602.3L210.8 602.0L211.6 601.2L212.4 600.5L213.2 599.9L214.0 599.6L214.7 599.8L215.5 600.1L216.2 600.6L217.0 601.0L217.8 601.3L218.5 602.6L219.2 603.6L220.0 603.8L220.8 604.2L221.5 604.3L222.2 604.4L223.0 604.9L223.8 605.0L224.5 604.7L225.2 604.2L226.0 603.8L226.8 603.5L227.5 603.5L228.2 603.4L229.0 603.2L229.8 602.7L230.5 602.2L231.2 602.2L232.0 602.4L232.8 602.6L233.5 602.9L234.2 603.2L235.0 603.3L235.8 602.7L236.5 602.1L237.2 601.6L238.0 600.7L238.8 599.8L239.5 599.2L240.2 598.5L241.0 598.0L241.8 597.8L242.5 597.1L243.2 596.7L244.0 596.5L244.8 596.0L245.5 595.3L246.2 594.5L247.0 594.1L247.8 593.8L248.5 593.5L249.2 593.5L250.0 593.7L250.8 593.6L251.5 593.3L252.2 593.2L253.0 593.2L253.8 592.8L254.5 592.7L255.2 593.0L256.0 592.9L256.8 592.8L257.5 592.6L258.2 592.2L259.0 592.4L259.8 592.5L260.5 592.6L261.2 592.9L262.0 592.8L262.8 592.6L263.5 593.0L264.2 593.2L265.0 592.9L265.8 592.7L266.5 592.8L267.2 593.4L268.0 593.7L268.8 593.5L269.5 593.7L270.2 594.2L271.0 594.3L271.8 594.1L272.5 594.3L273.2 594.3L274.0 594.2L274.8 594.8L275.5 595.1L276.2 595.0L277.0 595.2L277.8 595.3L278.5 595.4L279.2 595.7L280.0 595.4L280.8 595.2L281.5 595.3L282.2 595.3L283.0 595.5L283.8 595.5L284.5 595.5L285.2 595.4L286.0 595.7L286.8 595.6L287.5 595.2L288.2 595.2L289.0 595.3L289.8 595.0L290.5 595.0L291.2 594.9L292.0 594.6L292.8 594.6L293.5 594.3L294.2 594.4L295.0 594.4L295.8 594.2L296.5 594.4L297.2 594.4L298.0 594.2L298.8 594.5L299.5 594.5L300.2 594.3L301.0 594.3L301.8 594.4L302.5 594.5L303.2 594.1L304.0 594.1L304.8 594.1L305.5 594.1L306.2 594.5L307.0 594.7L307.8 594.7L308.5 595.0L309.2 595.3L310.0 595.2L310.8 595.1L311.5 595.1L312.2 595.0L313.0 595.1L313.8 595.1L314.5 595.2L315.2 595.3L316.0 595.6L316.8 595.7L317.5 595.7L318.2 595.8L319.0 595.5L319.8 595.4L320.5 595.8L321.2 596.0L322.0 595.6L322.8 595.1L323.5 595.1L324.2 594.9L325.0 594.7L325.8 594.5L326.5 594.7L327.2 594.9L328.0 594.9L328.8 594.5L329.5 594.3L330.2 594.3L331.0 593.9L331.8 593.9L332.5 594.1L333.2 593.6L334.0 593.5L334.8 593.4L335.5 593.0L336.2 593.1L337.0 593.0L337.8 592.3L338.5 591.8L339.2 591.7L340.0 591.3L340.8 590.9L341.5 590.7L342.2 590.7L343.0 590.2L343.8 590.0L344.5 589.9L345.2 589.3L346.0 589.1L346.8 589.2L347.5 589.1L348.2 588.6L349.0 588.7L349.8 588.7L350.5 588.4L351.2 587.7L352.0 587.1L352.8 586.8L353.5 586.9L354.2 586.8L355.0 586.3L355.8 586.1L356.5 586.2L357.2 586.0L358.0 585.4L358.8 585.0L359.5 585.2L360.2 585.3L361.0 585.1L361.8 584.7L362.5 584.3L363.2 584.5L364.0 584.4L364.8 583.9L365.5 583.9L366.2 583.9L367.0 583.6L367.8 583.2L368.5 583.2L369.2 583.1L370.0 583.0L370.8 582.9L371.5 582.4L372.2 582.2L373.0 582.3L373.8 581.9L374.5 581.4L375.2 581.4L376.0 581.3L376.8 581.0L377.5 580.8L378.2 580.7L379.0 580.6L379.8 580.7L380.5 580.6L381.2 580.8L382.0 580.6L382.8 580.4L383.5 580.2L384.2 580.0L385.0 579.7L385.8 579.4L386.5 579.2L387.2 579.2L388.0 579.1L388.8 578.6L389.5 578.3L390.2 578.5L391.0 578.0L391.8 577.7L392.5 577.6L393.2 577.2L394.0 577.2L394.8 577.0L395.5 576.8L396.2 576.9L397.0 576.9L397.8 576.4L398.6 576.0L399.3 575.7L400.0 575.2L401.0 574.1L402.0 573.5L402.7 573.4L403.4 573.6L404.2 573.9L405.0 574.5L405.8 574.8L406.5 574.7L407.2 574.8L408.0 575.4L408.8 575.9L409.5 576.0L410.2 575.8L411.0 575.8L411.8 576.0L412.5 576.3L413.2 576.3L414.0 576.4L414.8 576.4L415.6 576.5L416.3 576.7L417.0 576.2L418.0 575.2L419.0 575.1L419.8 575.6L420.7 576.3L421.6 577.1L422.4 578.0L423.2 579.2L424.0 580.0L424.8 580.3L425.6 580.6L426.4 580.3L427.3 579.6L428.1 578.7L429.0 577.8L429.9 576.8L430.7 575.6L431.6 575.1L432.4 574.9L433.2 575.0L434.0 575.1L434.8 574.9L435.6 574.8L436.4 574.8L437.2 575.4L438.1 576.0L439.0 576.5L439.7 577.2L440.5 577.4L441.2 577.7L442.0 578.2L442.8 578.1L443.5 578.4L444.2 579.0L445.0 578.8L445.8 578.6L446.5 578.3L447.3 577.6L448.0 577.3L448.8 577.1L449.6 577.1L450.4 577.3L451.2 577.8L452.1 578.4L453.0 579.2L453.7 579.9L454.5 580.4L455.2 580.8L456.0 581.0L456.8 581.6L457.5 582.3L458.2 582.7L459.0 583.4L459.8 583.9L460.5 584.0L461.2 584.1L462.0 584.2L462.8 584.0L463.5 583.5L464.2 583.5L465.0 583.7L465.8 583.3L466.5 582.9L467.2 582.7L468.0 582.4L468.8 582.8L469.5 583.4L470.2 583.7L471.0 584.3L471.8 585.1L472.5 585.6L473.2 586.1L474.0 587.0L474.8 587.2L475.5 587.4L476.2 587.7L477.0 588.1L477.8 588.2L478.5 588.0L479.2 587.7L480.0 587.2L480.8 586.9L481.5 586.9L482.2 587.1L483.0 587.0L483.8 586.8L484.5 586.5L485.2 586.2L486.0 586.3L486.8 586.7L487.5 587.2L488.2 587.4L489.0 587.4L489.8 587.3L490.5 587.3L491.2 587.1L492.0 586.8L492.8 586.8L493.5 586.5L494.2 586.4L495.0 586.4L495.8 585.8L496.5 585.5L497.2 585.7L498.0 585.8L498.8 585.4L499.5 584.8L500.2 584.4L501.0 584.5L501.8 584.1L502.6 583.6L503.4 583.2L504.0 582.9L505.0 582.3L505.6 581.8L506.4 581.5L507.2 581.4L508.0 581.2L508.8 580.9L509.5 580.2L510.2 579.9L511.0 579.6L511.8 578.8L512.5 578.2L513.2 578.1L514.0 578.0L514.8 577.6L515.5 577.2L516.2 577.0L517.0 576.8L517.8 576.9L518.5 576.6L519.2 576.5L520.0 576.9L520.8 576.7L521.5 577.0L522.2 577.4L523.0 577.7L523.8 577.8L524.5 577.9L525.2 578.2L526.0 578.8L526.8 579.0L527.5 578.8L528.2 578.8L529.0 578.8L529.8 578.7L530.5 578.8L531.2 579.3L532.0 579.4L532.8 579.7L533.5 579.8L534.2 579.8L535.0 580.1L535.8 580.2L536.5 580.4L537.2 581.0L538.0 581.4L538.8 581.5L539.5 581.5L540.2 581.6L541.0 581.8L541.8 581.7L542.5 581.6L543.2 581.3L544.0 581.3L544.8 581.4L545.5 581.3L546.2 581.3L547.0 580.9L547.8 580.6L548.5 580.8L549.2 580.7L550.0 580.4L550.8 580.4L551.5 580.1L552.2 580.2L553.0 580.4L553.8 580.0L554.5 579.8L555.2 579.6L556.0 579.5L556.8 579.5L557.5 579.3L558.2 579.1L559.0 579.1L559.8 579.4L560.5 579.4L561.2 578.9L562.0 579.1L562.8 579.4L563.5 579.2L564.2 578.8L565.0 578.7L565.8 578.7L566.5 578.8L567.2 578.7L568.0 578.7L568.8 578.7L569.5 578.8L570.2 579.0L571.0 578.9L571.8 578.5L572.5 578.2L573.2 578.1L574.0 577.9L574.8 577.7L575.5 577.4L576.2 577.2L577.0 577.6L577.8 577.3L578.5 577.0L579.2 577.2L580.0 577.3L580.8 576.9L581.5 576.5L582.2 576.3L583.0 576.2L583.8 576.1L584.5 576.2L585.2 576.2L586.0 576.0L586.8 575.3L587.5 574.8L588.2 575.1L589.0 575.3L589.8 575.0L590.5 574.7L591.2 574.3L592.0 574.1L592.8 574.4L593.5 574.4L594.2 574.1L595.0 574.0L595.8 573.5L596.5 573.0L597.2 572.8L598.0 572.9L598.8 572.9L599.5 572.9L600.2 572.7L601.0 572.4L601.8 572.2L602.5 571.9L603.2 571.6L604.0 571.2L604.8 571.1L605.5 571.0L606.2 570.9L607.0 570.9L607.8 570.4L608.5 570.0L609.2 569.8L610.0 570.0L610.8 570.0L611.5 569.6L612.2 569.2L613.0 569.2L613.8 569.3L614.5 569.0L615.2 568.6L616.0 568.5L616.8 568.2L617.5 568.0L618.2 568.1L619.0 568.2L619.8 568.1L620.5 567.8L621.2 567.4L622.0 566.8L622.8 566.5L623.5 566.6L624.2 566.6L625.0 566.0L625.8 565.4L626.5 565.3L627.2 565.3L628.0 565.0L628.8 564.6L629.5 564.5L630.2 564.6L631.0 564.0L631.8 563.4L632.5 563.2L633.2 563.1L634.0 563.1L634.8 562.7L635.6 562.6L636.3 562.6L637.0 562.3L638.0 561.9L638.6 562.1" fill="none" stroke="#6edc91" stroke-width="3.5" stroke-linejoin="round" stroke-linecap="butt"/>
<path d="M102.4 608.6C102.8 608.2 104.1 606.9 105.0 606.0C105.9 605.1 107.0 603.9 108.0 603.0C109.0 602.1 110.0 601.3 111.0 600.6C112.0 599.9 113.0 599.1 114.0 598.6C115.0 598.1 116.0 597.7 117.0 597.4C118.0 597.1 119.0 596.7 120.0 596.6C121.0 596.5 122.0 596.5 123.0 596.6C124.0 596.7 125.0 597.1 126.0 597.4C127.0 597.7 128.0 598.1 129.0 598.6C130.0 599.1 131.0 599.9 132.0 600.6C133.0 601.3 134.0 602.2 135.0 603.0C136.0 603.8 137.0 604.6 138.0 605.4C139.0 606.2 140.0 607.1 141.0 608.0C142.0 608.9 143.0 609.8 144.0 610.6C145.0 611.4 146.0 612.0 147.0 612.6C148.0 613.2 149.0 613.6 150.0 614.0C151.0 614.4 152.0 614.8 153.0 615.0C154.0 615.2 155.0 615.3 156.0 615.4C157.0 615.5 158.0 615.5 159.0 615.4C160.0 615.3 161.0 615.0 162.0 614.6C163.0 614.2 164.0 613.6 165.0 613.0C166.0 612.4 167.0 611.7 168.0 611.0C169.0 610.3 170.0 609.4 171.0 608.6C172.0 607.8 173.0 606.8 174.0 606.0C175.0 605.2 176.0 604.7 177.0 604.0C178.0 603.3 179.0 602.6 180.0 602.0C181.0 601.4 182.0 601.0 183.0 600.6C184.0 600.2 185.0 599.7 186.0 599.4C187.0 599.1 188.0 598.8 189.0 598.6C190.0 598.4 191.0 598.4 192.0 598.4C193.0 598.4 194.0 598.3 195.0 598.4C196.0 598.5 197.0 598.7 198.0 599.0C199.0 599.3 200.0 599.8 201.0 600.4C202.0 601.0 203.0 601.7 204.0 602.6C205.0 603.5 206.0 604.8 207.0 606.0C208.0 607.2 209.1 609.1 210.0 610.0C210.9 610.9 210.9 610.0 212.3 611.5C213.7 613.0 216.4 616.8 218.4 619.2C220.4 621.6 222.4 623.8 224.5 625.8C226.6 627.8 228.6 629.5 230.7 631.0C232.8 632.5 234.8 633.7 236.8 635.0C238.8 636.3 240.7 637.3 242.9 638.6C245.1 639.9 247.3 641.4 250.0 642.8C252.7 644.2 256.2 646.0 259.3 647.2C262.4 648.5 265.6 649.5 268.7 650.3C271.8 651.1 275.5 651.6 278.0 651.9C280.5 652.2 281.9 652.2 283.9 652.2C285.8 652.2 287.8 652.0 289.7 651.7C291.6 651.4 293.0 651.1 295.0 650.4C297.0 649.7 299.4 648.4 301.6 647.3C303.8 646.2 305.9 645.0 308.1 643.6C310.3 642.2 312.5 640.5 314.7 639.0C316.9 637.5 319.1 636.0 321.3 634.4C323.5 632.8 325.8 630.9 327.8 629.6C329.8 628.3 331.6 627.2 333.1 626.5C334.6 625.8 335.7 625.8 337.0 625.6C338.3 625.4 339.7 625.4 341.0 625.4C342.3 625.4 343.4 625.5 344.9 625.9C346.4 626.3 348.2 626.8 350.2 627.6C352.2 628.4 354.6 629.5 356.8 630.6C359.0 631.7 361.3 633.1 363.3 634.2C365.3 635.3 366.9 636.5 368.6 637.4C370.4 638.3 372.3 639.3 373.8 639.8C375.3 640.3 376.5 640.5 377.8 640.5C379.1 640.5 380.5 640.0 381.7 639.7C382.9 639.4 383.9 639.1 385.0 638.6C386.1 638.1 387.0 637.4 388.0 636.6C389.0 635.8 390.0 634.7 391.0 633.6C392.0 632.5 393.0 631.3 394.0 630.0C395.0 628.7 396.0 627.3 397.0 626.0C398.0 624.7 399.0 623.4 400.0 622.0C401.0 620.6 402.0 619.0 403.0 617.6C404.0 616.2 405.0 614.9 406.0 613.6C407.0 612.3 408.0 611.2 409.0 610.0C410.0 608.8 411.0 607.6 412.0 606.6C413.0 605.6 414.0 604.8 415.0 604.0C416.0 603.2 417.0 602.6 418.0 602.0C419.0 601.4 420.0 601.0 421.0 600.6C422.0 600.2 423.0 600.0 424.0 599.8C425.0 599.6 426.0 599.6 427.0 599.6C428.0 599.6 429.0 599.8 430.0 600.0C431.0 600.2 432.0 600.5 433.0 601.0C434.0 601.5 435.0 602.3 436.0 603.0C437.0 603.7 438.0 604.2 439.0 605.0C440.0 605.8 441.0 606.8 442.0 607.6C443.0 608.4 444.0 609.2 445.0 610.0C446.0 610.8 447.0 611.8 448.0 612.6C449.0 613.4 450.0 614.2 451.0 615.0C452.0 615.8 453.0 616.6 454.0 617.4C455.0 618.2 456.0 619.2 457.0 620.0C458.0 620.8 459.0 621.3 460.0 622.0C461.0 622.7 462.0 623.4 463.0 624.0C464.0 624.6 465.0 625.0 466.0 625.4C467.0 625.8 468.0 626.1 469.0 626.4C470.0 626.7 471.0 627.0 472.0 627.2C473.0 627.4 474.0 627.6 475.0 627.8C476.0 628.0 477.0 628.1 478.0 628.2C479.0 628.3 480.0 628.2 481.0 628.2C482.0 628.2 483.0 628.2 484.0 628.2C485.0 628.2 486.0 628.3 487.0 628.4C488.0 628.5 489.0 628.6 490.0 628.6C491.0 628.6 492.0 628.6 493.0 628.6C494.0 628.6 495.0 628.7 496.0 628.8C497.0 628.9 498.0 628.9 499.0 629.0C500.0 629.1 501.0 629.2 502.0 629.4C503.0 629.6 504.0 629.7 505.0 630.0C506.0 630.3 507.0 630.5 508.0 631.0C509.0 631.5 510.0 632.2 511.0 633.0C512.0 633.8 513.0 634.6 514.0 635.6C515.0 636.6 516.0 637.8 517.0 639.0C518.0 640.2 519.0 641.6 520.0 643.0C521.0 644.4 522.0 645.9 523.0 647.4C524.0 648.9 525.0 650.6 526.0 652.0C527.0 653.4 528.0 654.7 529.0 656.0C530.0 657.3 531.0 658.8 532.0 660.0C533.0 661.2 534.0 662.4 535.0 663.4C536.0 664.4 537.0 665.2 538.0 666.0C539.0 666.8 540.0 667.6 541.0 668.2C542.0 668.8 543.0 669.4 544.0 669.8C545.0 670.2 546.0 670.5 547.0 670.8C548.0 671.1 549.0 671.3 550.0 671.4C551.0 671.5 552.0 671.5 553.0 671.4C554.0 671.3 555.0 671.2 556.0 671.0C557.0 670.8 558.0 670.5 559.0 670.2C560.0 669.9 561.0 669.5 562.0 669.0C563.0 668.5 564.0 668.0 565.0 667.4C566.0 666.8 567.0 666.1 568.0 665.4C569.0 664.7 570.0 663.8 571.0 663.0C572.0 662.2 573.0 661.3 574.0 660.4C575.0 659.5 576.0 658.6 577.0 657.6C578.0 656.6 579.0 655.6 580.0 654.6C581.0 653.6 582.0 652.6 583.0 651.6C584.0 650.6 585.0 649.6 586.0 648.6C587.0 647.6 588.0 646.5 589.0 645.4C590.0 644.3 591.0 643.1 592.0 642.0C593.0 640.9 594.0 639.8 595.0 638.6C596.0 637.4 597.0 636.2 598.0 635.0C599.0 633.8 600.0 632.6 601.0 631.4C602.0 630.2 603.0 629.1 604.0 628.0C605.0 626.9 606.0 625.8 607.0 624.6C608.0 623.4 609.0 622.2 610.0 621.0C611.0 619.8 612.0 618.6 613.0 617.4C614.0 616.2 615.0 615.1 616.0 614.0C617.0 612.9 618.0 611.7 619.0 610.6C620.0 609.5 621.0 608.4 622.0 607.4C623.0 606.4 624.0 605.4 625.0 604.6C626.0 603.8 627.0 603.1 628.0 602.4C629.0 601.7 630.0 601.0 631.0 600.4C632.0 599.8 633.0 599.4 634.0 599.0C635.0 598.6 636.2 598.4 637.0 598.2C637.8 598.0 638.3 598.0 638.6 598.0" fill="none" stroke="#dc69dc" stroke-width="3.5" stroke-linejoin="round" stroke-linecap="butt"/>
<path d="M102.4 584.8C102.8 584.6 104.1 584.3 105.0 583.8C105.9 583.3 107.0 582.3 108.0 581.8C109.0 581.3 110.0 581.0 111.0 580.8C112.0 580.6 113.0 581.8 114.0 580.8C115.0 579.8 116.0 576.8 117.0 574.8C118.0 572.8 119.2 569.9 120.0 568.8C120.8 567.7 121.3 567.9 122.0 568.4C122.7 568.9 123.3 570.5 124.0 571.8C124.7 573.1 125.6 575.9 126.4 576.4C127.2 576.9 128.2 575.7 129.0 574.8C129.8 573.9 130.3 571.8 131.0 570.8C131.7 569.8 132.2 568.8 133.0 568.8C133.8 568.8 135.1 570.5 136.0 570.8C136.9 571.1 137.6 571.8 138.4 570.8C139.2 569.8 140.2 567.5 141.0 564.8C141.8 562.1 142.3 557.6 143.0 554.8C143.7 552.0 144.3 549.1 145.0 547.8C145.7 546.5 146.3 546.5 147.0 546.8C147.7 547.1 148.2 548.5 149.0 549.8C149.8 551.1 150.8 553.6 151.6 554.8C152.4 556.0 153.1 556.7 154.0 556.8C154.9 556.9 156.0 556.2 157.0 555.2C158.0 554.2 159.0 552.4 160.0 550.8C161.0 549.2 162.0 547.6 163.0 545.8C164.0 544.0 165.0 541.4 166.0 539.8C167.0 538.2 168.1 537.1 169.0 536.4C169.9 535.7 170.8 535.7 171.6 535.8C172.4 535.9 173.1 537.5 174.0 537.2C174.9 536.9 176.0 534.9 177.0 533.8C178.0 532.7 179.2 530.8 180.0 530.4C180.8 530.0 181.3 530.5 182.0 531.2C182.7 531.9 183.3 533.9 184.0 534.8C184.7 535.7 185.6 536.3 186.4 536.4C187.2 536.5 188.1 535.7 189.0 535.2C189.9 534.7 190.8 533.6 191.6 533.2C192.4 532.8 193.1 532.4 194.0 532.8C194.9 533.2 196.0 534.5 197.0 535.8C198.0 537.1 199.0 538.8 200.0 540.8C201.0 542.8 202.0 545.6 203.0 547.8C204.0 550.0 205.0 552.0 206.0 553.8C207.0 555.6 208.0 557.2 209.0 558.4C210.0 559.6 211.0 560.2 212.0 560.8C213.0 561.4 214.0 561.6 215.0 562.2C216.0 562.8 217.0 563.5 218.0 564.4C219.0 565.3 220.2 566.4 221.0 567.8C221.8 569.2 222.2 571.2 223.0 572.8C223.8 574.4 225.0 576.3 226.0 577.2C227.0 578.1 228.0 578.3 229.0 578.4C230.0 578.5 231.1 577.6 232.0 577.8C232.9 578.0 233.9 579.6 234.4 579.8C234.9 580.0 234.4 578.0 235.0 578.8C235.6 579.6 237.0 583.0 238.0 584.8C239.0 586.6 240.0 588.5 241.0 589.8C242.0 591.1 243.0 592.1 244.0 592.8C245.0 593.5 246.0 593.5 247.0 593.8C248.0 594.1 249.0 594.6 250.0 594.8C251.0 595.0 252.0 594.7 253.0 594.8C254.0 594.9 255.0 594.9 256.0 595.4C257.0 595.9 258.0 596.4 259.0 597.8C260.0 599.2 261.0 601.8 262.0 603.8C263.0 605.8 264.0 608.5 265.0 609.8C266.0 611.1 267.0 611.5 268.0 611.8C269.0 612.1 270.0 611.5 271.0 611.4C272.0 611.3 273.0 611.5 274.0 611.4C275.0 611.3 276.0 611.0 277.0 610.8C278.0 610.6 279.0 610.2 280.0 610.2C281.0 610.2 282.0 610.2 283.0 610.8C284.0 611.4 285.0 613.0 286.0 613.8C287.0 614.6 288.0 615.5 289.0 615.8C290.0 616.1 291.0 615.7 292.0 615.4C293.0 615.1 294.0 614.1 295.0 614.2C296.0 614.3 297.0 614.7 298.0 615.8C299.0 616.9 300.0 619.0 301.0 620.8C302.0 622.6 303.2 625.6 304.0 626.8C304.8 628.0 305.3 628.5 306.0 628.2C306.7 627.9 307.2 626.0 308.0 624.8C308.8 623.6 309.8 621.0 310.6 620.8C311.4 620.6 311.9 622.3 312.6 623.8C313.3 625.3 313.9 628.2 314.6 629.8C315.3 631.4 315.9 633.2 316.6 633.4C317.3 633.6 317.9 632.4 318.6 630.8C319.3 629.2 320.1 625.4 321.0 623.8C321.9 622.2 323.0 622.1 324.0 621.4C325.0 620.7 326.0 621.4 327.0 619.8C328.0 618.2 329.0 614.5 330.0 611.8C331.0 609.1 332.0 605.8 333.0 603.8C334.0 601.8 335.0 601.3 336.0 599.8C337.0 598.3 338.0 596.1 339.0 594.8C340.0 593.5 341.0 593.1 342.0 591.8C343.0 590.5 344.0 589.0 345.0 586.8C346.0 584.6 347.0 581.3 348.0 578.8C349.0 576.3 350.2 573.3 351.0 571.8C351.8 570.3 352.2 569.8 353.0 569.8C353.8 569.8 355.0 571.7 356.0 571.8C357.0 571.9 358.0 570.9 359.0 570.2C360.0 569.5 361.0 568.3 362.0 567.4C363.0 566.5 364.2 565.9 365.0 564.8C365.8 563.7 366.3 562.5 367.0 560.8C367.7 559.1 368.9 556.0 369.4 554.8C369.9 553.6 369.4 553.2 370.0 553.4C370.6 553.6 372.1 555.5 373.0 556.2C373.9 556.9 374.7 557.8 375.6 557.8C376.5 557.8 377.5 556.7 378.4 556.2C379.3 555.7 380.1 554.8 381.0 554.8C381.9 554.8 382.8 555.7 383.6 556.2C384.4 556.7 385.1 557.2 386.0 557.8C386.9 558.4 388.1 560.0 389.0 559.8C389.9 559.6 390.8 558.0 391.6 556.8C392.4 555.6 393.1 553.8 394.0 552.8C394.9 551.8 396.0 551.6 397.0 550.8C398.0 550.0 399.1 549.1 400.0 547.8C400.9 546.5 401.7 543.9 402.4 542.8C403.1 541.7 403.6 541.3 404.4 541.4C405.2 541.5 406.1 543.6 407.0 543.4C407.9 543.2 408.8 541.3 409.6 540.2C410.4 539.1 411.2 537.3 412.0 536.8C412.8 536.3 413.6 537.4 414.4 537.4C415.2 537.4 416.1 537.4 417.0 536.8C417.9 536.2 419.0 534.9 420.0 533.8C421.0 532.7 422.0 531.4 423.0 530.2C424.0 529.0 425.1 527.6 426.0 526.8C426.9 526.0 427.6 525.4 428.4 525.4C429.2 525.4 430.1 526.1 431.0 526.8C431.9 527.5 433.0 528.7 434.0 529.4C435.0 530.1 436.0 530.4 437.0 530.8C438.0 531.2 439.1 531.8 440.0 531.8C440.9 531.8 441.7 532.0 442.4 530.8C443.1 529.6 443.7 527.1 444.4 524.8C445.1 522.5 445.7 518.9 446.4 516.8C447.1 514.7 447.7 512.7 448.4 512.2C449.1 511.7 449.7 512.7 450.4 513.8C451.1 514.9 451.6 517.3 452.4 518.8C453.2 520.3 454.1 522.0 455.0 522.8C455.9 523.6 456.8 523.7 457.6 523.4C458.4 523.1 459.2 521.5 460.0 520.8C460.8 520.1 461.6 519.5 462.4 519.4C463.2 519.3 464.1 519.6 465.0 520.2C465.9 520.8 467.0 521.9 468.0 522.8C469.0 523.7 470.0 524.7 471.0 525.8C472.0 526.9 473.0 528.2 474.0 529.4C475.0 530.6 476.0 531.4 477.0 532.8C478.0 534.2 479.0 535.8 480.0 537.8C481.0 539.8 482.0 542.6 483.0 544.8C484.0 547.0 485.1 549.3 486.0 550.8C486.9 552.3 487.6 553.1 488.4 553.8C489.2 554.5 490.1 554.1 491.0 554.8C491.9 555.5 492.7 556.6 493.6 557.8C494.5 559.0 495.4 560.6 496.4 561.8C497.4 563.0 498.6 564.0 499.6 564.8C500.6 565.6 501.5 566.1 502.4 566.8C503.3 567.5 504.1 567.8 505.0 568.8C505.9 569.8 507.0 571.5 508.0 572.8C509.0 574.1 510.0 575.8 511.0 576.8C512.0 577.8 513.0 578.5 514.0 578.8C515.0 579.1 516.0 578.6 517.0 578.4C518.0 578.2 519.0 577.6 520.0 577.8C521.0 578.0 522.0 578.6 523.0 579.8C524.0 581.0 525.0 583.3 526.0 584.8C527.0 586.3 528.0 587.9 529.0 588.8C530.0 589.7 531.0 590.3 532.0 590.4C533.0 590.5 534.0 589.6 535.0 589.2C536.0 588.8 537.1 587.9 538.0 587.8C538.9 587.7 539.7 588.6 540.6 588.4C541.5 588.2 542.5 587.6 543.4 586.8C544.3 586.0 545.2 584.3 546.0 583.8C546.8 583.3 547.2 583.3 548.0 583.8C548.8 584.3 549.7 585.8 550.6 586.8C551.5 587.8 552.4 589.1 553.4 589.8C554.4 590.5 555.6 591.1 556.6 591.2C557.6 591.3 558.5 590.8 559.4 590.4C560.3 590.0 561.1 589.1 562.0 588.8C562.9 588.5 563.8 587.9 564.6 588.4C565.4 588.9 566.1 590.2 567.0 591.8C567.9 593.4 569.0 596.0 570.0 597.8C571.0 599.6 572.2 601.7 573.0 602.8C573.8 603.9 574.3 604.6 575.0 604.4C575.7 604.2 576.6 602.7 577.4 601.8C578.2 600.9 579.1 599.4 580.0 599.2C580.9 599.0 581.7 600.3 582.6 600.8C583.5 601.3 584.5 602.2 585.4 602.4C586.3 602.6 587.1 602.1 588.0 601.8C588.9 601.5 590.0 601.5 591.0 600.8C592.0 600.1 593.1 599.3 594.0 597.8C594.9 596.3 595.8 593.6 596.6 591.8C597.4 590.0 598.2 588.3 599.0 587.2C599.8 586.1 600.6 585.4 601.4 585.2C602.2 585.0 603.1 586.2 604.0 585.8C604.9 585.4 605.8 584.1 606.6 582.8C607.4 581.5 608.2 579.6 609.0 577.8C609.8 576.0 610.6 573.8 611.4 571.8C612.2 569.8 613.1 567.1 614.0 565.8C614.9 564.5 615.8 564.0 616.6 563.8C617.4 563.6 618.2 564.6 619.0 564.4C619.8 564.2 620.6 563.6 621.4 562.8C622.2 562.0 623.1 561.0 624.0 559.8C624.9 558.6 625.8 557.5 626.6 555.8C627.4 554.1 628.1 551.6 629.0 549.8C629.9 548.0 631.0 546.1 632.0 544.8C633.0 543.5 634.0 542.4 635.0 541.8C636.0 541.2 637.2 541.2 638.0 541.2C638.8 541.2 639.7 541.7 640.0 541.8" fill="none" stroke="#ffb400" stroke-width="3.5" stroke-linejoin="round" stroke-linecap="butt"/>
<text x="94.3" y="438.6" font-size="23" text-anchor="end">420</text>
<text x="94.3" y="532.4" font-size="23" text-anchor="end">410</text>
<text x="94.3" y="626.1" font-size="23" text-anchor="end">400</text>
<text x="94.3" y="719.9" font-size="23" text-anchor="end">390</text>
<text transform="translate(113.7 421.0) scale(0.95 1)" font-size="28">(b)</text>
<text transform="translate(18.1 571.0) rotate(-90)" font-size="23.5" text-anchor="middle">CO<tspan font-size="15" dy="5">2</tspan><tspan dy="-5"> [ppm]</tspan></text>
</g>
<g id="panel2">
<rect x="146.5" y="780.5" width="67.5" height="350.3" fill="#c8c8c8"/>
<rect x="414.6" y="780.5" width="68.2" height="350.3" fill="#c8c8c8"/>
<rect x="524.0" y="780.5" width="10.0" height="350.3" fill="#878787"/>
<line x1="100.9" x2="631.1" y1="1080.5" y2="1080.5" stroke="#858585" stroke-width="0.9" stroke-dasharray="1.6 3.345"/>
<line x1="100.9" x2="631.1" y1="1018.0" y2="1018.0" stroke="#858585" stroke-width="0.9" stroke-dasharray="1.6 3.345"/>
<line x1="100.9" x2="631.1" y1="955.5" y2="955.5" stroke="#858585" stroke-width="0.9" stroke-dasharray="1.6 3.345"/>
<line x1="100.9" x2="631.1" y1="893.0" y2="893.0" stroke="#858585" stroke-width="0.9" stroke-dasharray="1.6 3.345"/>
<line x1="100.9" x2="631.1" y1="830.5" y2="830.5" stroke="#858585" stroke-width="0.9" stroke-dasharray="1.6 3.345"/>
<line x1="100.2" x2="642.1" y1="768.0" y2="768.0" stroke="#000" stroke-width="1.3"/>
<line x1="100.2" x2="642.1" y1="1143.0" y2="1143.0" stroke="#000" stroke-width="1.3"/>
<line x1="106.3" x2="640.1" y1="1143.0" y2="1143.0" stroke="#fff" stroke-width="1.6" stroke-dasharray="1.6 3.345"/>
<line x1="101.2" x2="101.2" y1="767.4" y2="1143.6" stroke="#222" stroke-width="2"/>
<line x1="641.1" x2="641.1" y1="767.4" y2="1143.6" stroke="#222" stroke-width="2"/>
<line x1="102.60" x2="102.60" y1="768.0" y2="781.8" stroke="#000" stroke-width="1.3"/>
<line x1="102.60" x2="102.60" y1="1129.2" y2="1143.0" stroke="#000" stroke-width="1.3"/>
<line x1="639.49" x2="639.49" y1="768.0" y2="781.8" stroke="#000" stroke-width="1.3"/>
<line x1="639.49" x2="639.49" y1="1129.2" y2="1143.0" stroke="#000" stroke-width="1.3"/>
<line x1="125.4" x2="125.4" y1="768.0" y2="774.9" stroke="#777" stroke-width="0.8"/>
<line x1="125.4" x2="125.4" y1="1143.0" y2="1136.3" stroke="#777" stroke-width="0.8"/>
<line x1="146.7" x2="146.7" y1="768.0" y2="774.9" stroke="#777" stroke-width="0.8"/>
<line x1="146.7" x2="146.7" y1="1143.0" y2="1136.3" stroke="#777" stroke-width="0.8"/>
<line x1="169.4" x2="169.4" y1="768.0" y2="774.9" stroke="#777" stroke-width="0.8"/>
<line x1="169.4" x2="169.4" y1="1143.0" y2="1136.3" stroke="#777" stroke-width="0.8"/>
<line x1="191.5" x2="191.5" y1="768.0" y2="774.9" stroke="#777" stroke-width="0.8"/>
<line x1="191.5" x2="191.5" y1="1143.0" y2="1136.3" stroke="#777" stroke-width="0.8"/>
<line x1="214.2" x2="214.2" y1="768.0" y2="774.9" stroke="#777" stroke-width="0.8"/>
<line x1="214.2" x2="214.2" y1="1143.0" y2="1136.3" stroke="#777" stroke-width="0.8"/>
<line x1="236.3" x2="236.3" y1="768.0" y2="781.8" stroke="#000" stroke-width="1.1"/>
<line x1="236.3" x2="236.3" y1="1143.0" y2="1129.2" stroke="#000" stroke-width="1.1"/>
<line x1="259.0" x2="259.0" y1="768.0" y2="774.9" stroke="#777" stroke-width="0.8"/>
<line x1="259.0" x2="259.0" y1="1143.0" y2="1136.3" stroke="#777" stroke-width="0.8"/>
<line x1="281.8" x2="281.8" y1="768.0" y2="774.9" stroke="#777" stroke-width="0.8"/>
<line x1="281.8" x2="281.8" y1="1143.0" y2="1136.3" stroke="#777" stroke-width="0.8"/>
<line x1="303.8" x2="303.8" y1="768.0" y2="774.9" stroke="#777" stroke-width="0.8"/>
<line x1="303.8" x2="303.8" y1="1143.0" y2="1136.3" stroke="#777" stroke-width="0.8"/>
<line x1="326.6" x2="326.6" y1="768.0" y2="774.9" stroke="#777" stroke-width="0.8"/>
<line x1="326.6" x2="326.6" y1="1143.0" y2="1136.3" stroke="#777" stroke-width="0.8"/>
<line x1="348.6" x2="348.6" y1="768.0" y2="774.9" stroke="#777" stroke-width="0.8"/>
<line x1="348.6" x2="348.6" y1="1143.0" y2="1136.3" stroke="#777" stroke-width="0.8"/>
<line x1="371.4" x2="371.4" y1="768.0" y2="781.8" stroke="#000" stroke-width="1.1"/>
<line x1="371.4" x2="371.4" y1="1143.0" y2="1129.2" stroke="#000" stroke-width="1.1"/>
<line x1="394.2" x2="394.2" y1="768.0" y2="774.9" stroke="#777" stroke-width="0.8"/>
<line x1="394.2" x2="394.2" y1="1143.0" y2="1136.3" stroke="#777" stroke-width="0.8"/>
<line x1="414.7" x2="414.7" y1="768.0" y2="774.9" stroke="#777" stroke-width="0.8"/>
<line x1="414.7" x2="414.7" y1="1143.0" y2="1136.3" stroke="#777" stroke-width="0.8"/>
<line x1="437.5" x2="437.5" y1="768.0" y2="774.9" stroke="#777" stroke-width="0.8"/>
<line x1="437.5" x2="437.5" y1="1143.0" y2="1136.3" stroke="#777" stroke-width="0.8"/>
<line x1="459.5" x2="459.5" y1="768.0" y2="774.9" stroke="#777" stroke-width="0.8"/>
<line x1="459.5" x2="459.5" y1="1143.0" y2="1136.3" stroke="#777" stroke-width="0.8"/>
<line x1="482.3" x2="482.3" y1="768.0" y2="774.9" stroke="#777" stroke-width="0.8"/>
<line x1="482.3" x2="482.3" y1="1143.0" y2="1136.3" stroke="#777" stroke-width="0.8"/>
<line x1="504.3" x2="504.3" y1="768.0" y2="781.8" stroke="#000" stroke-width="1.1"/>
<line x1="504.3" x2="504.3" y1="1143.0" y2="1129.2" stroke="#000" stroke-width="1.1"/>
<line x1="527.1" x2="527.1" y1="768.0" y2="774.9" stroke="#777" stroke-width="0.8"/>
<line x1="527.1" x2="527.1" y1="1143.0" y2="1136.3" stroke="#777" stroke-width="0.8"/>
<line x1="549.9" x2="549.9" y1="768.0" y2="774.9" stroke="#777" stroke-width="0.8"/>
<line x1="549.9" x2="549.9" y1="1143.0" y2="1136.3" stroke="#777" stroke-width="0.8"/>
<line x1="571.9" x2="571.9" y1="768.0" y2="774.9" stroke="#777" stroke-width="0.8"/>
<line x1="571.9" x2="571.9" y1="1143.0" y2="1136.3" stroke="#777" stroke-width="0.8"/>
<line x1="594.7" x2="594.7" y1="768.0" y2="774.9" stroke="#777" stroke-width="0.8"/>
<line x1="594.7" x2="594.7" y1="1143.0" y2="1136.3" stroke="#777" stroke-width="0.8"/>
<line x1="616.7" x2="616.7" y1="768.0" y2="774.9" stroke="#777" stroke-width="0.8"/>
<line x1="616.7" x2="616.7" y1="1143.0" y2="1136.3" stroke="#777" stroke-width="0.8"/>
<line x1="101.2" x2="107.9" y1="1127.4" y2="1127.4" stroke="#000" stroke-width="1.5"/>
<line x1="641.1" x2="634.1" y1="1127.4" y2="1127.4" stroke="#000" stroke-width="1.5"/>
<line x1="101.2" x2="107.9" y1="1111.8" y2="1111.8" stroke="#000" stroke-width="1.5"/>
<line x1="641.1" x2="634.1" y1="1111.8" y2="1111.8" stroke="#000" stroke-width="1.5"/>
<line x1="101.2" x2="107.9" y1="1096.1" y2="1096.1" stroke="#000" stroke-width="1.5"/>
<line x1="641.1" x2="634.1" y1="1096.1" y2="1096.1" stroke="#000" stroke-width="1.5"/>
<line x1="101.2" x2="115.4" y1="1080.5" y2="1080.5" stroke="#000" stroke-width="1.3"/>
<line x1="641.1" x2="626.9" y1="1080.5" y2="1080.5" stroke="#000" stroke-width="1.3"/>
<line x1="105.8" x2="117.2" y1="1080.5" y2="1080.5" stroke="#9a9a9a" stroke-width="1.3" stroke-dasharray="1.6 3.345"/>
<line x1="630.0" x2="640.1" y1="1080.5" y2="1080.5" stroke="#9a9a9a" stroke-width="1.3" stroke-dasharray="1.6 3.345"/>
<line x1="101.2" x2="107.9" y1="1064.9" y2="1064.9" stroke="#000" stroke-width="1.5"/>
<line x1="641.1" x2="634.1" y1="1064.9" y2="1064.9" stroke="#000" stroke-width="1.5"/>
<line x1="101.2" x2="107.9" y1="1049.2" y2="1049.2" stroke="#000" stroke-width="1.5"/>
<line x1="641.1" x2="634.1" y1="1049.2" y2="1049.2" stroke="#000" stroke-width="1.5"/>
<line x1="101.2" x2="107.9" y1="1033.6" y2="1033.6" stroke="#000" stroke-width="1.5"/>
<line x1="641.1" x2="634.1" y1="1033.6" y2="1033.6" stroke="#000" stroke-width="1.5"/>
<line x1="101.2" x2="115.4" y1="1018.0" y2="1018.0" stroke="#000" stroke-width="1.3"/>
<line x1="641.1" x2="626.9" y1="1018.0" y2="1018.0" stroke="#000" stroke-width="1.3"/>
<line x1="105.8" x2="117.2" y1="1018.0" y2="1018.0" stroke="#9a9a9a" stroke-width="1.3" stroke-dasharray="1.6 3.345"/>
<line x1="630.0" x2="640.1" y1="1018.0" y2="1018.0" stroke="#9a9a9a" stroke-width="1.3" stroke-dasharray="1.6 3.345"/>
<line x1="101.2" x2="107.9" y1="1002.4" y2="1002.4" stroke="#000" stroke-width="1.5"/>
<line x1="641.1" x2="634.1" y1="1002.4" y2="1002.4" stroke="#000" stroke-width="1.5"/>
<line x1="101.2" x2="107.9" y1="986.8" y2="986.8" stroke="#000" stroke-width="1.5"/>
<line x1="641.1" x2="634.1" y1="986.8" y2="986.8" stroke="#000" stroke-width="1.5"/>
<line x1="101.2" x2="107.9" y1="971.1" y2="971.1" stroke="#000" stroke-width="1.5"/>
<line x1="641.1" x2="634.1" y1="971.1" y2="971.1" stroke="#000" stroke-width="1.5"/>
<line x1="101.2" x2="115.4" y1="955.5" y2="955.5" stroke="#000" stroke-width="1.3"/>
<line x1="641.1" x2="626.9" y1="955.5" y2="955.5" stroke="#000" stroke-width="1.3"/>
<line x1="105.8" x2="117.2" y1="955.5" y2="955.5" stroke="#9a9a9a" stroke-width="1.3" stroke-dasharray="1.6 3.345"/>
<line x1="630.0" x2="640.1" y1="955.5" y2="955.5" stroke="#9a9a9a" stroke-width="1.3" stroke-dasharray="1.6 3.345"/>
<line x1="101.2" x2="107.9" y1="939.9" y2="939.9" stroke="#000" stroke-width="1.5"/>
<line x1="641.1" x2="634.1" y1="939.9" y2="939.9" stroke="#000" stroke-width="1.5"/>
<line x1="101.2" x2="107.9" y1="924.2" y2="924.2" stroke="#000" stroke-width="1.5"/>
<line x1="641.1" x2="634.1" y1="924.2" y2="924.2" stroke="#000" stroke-width="1.5"/>
<line x1="101.2" x2="107.9" y1="908.6" y2="908.6" stroke="#000" stroke-width="1.5"/>
<line x1="641.1" x2="634.1" y1="908.6" y2="908.6" stroke="#000" stroke-width="1.5"/>
<line x1="101.2" x2="115.4" y1="893.0" y2="893.0" stroke="#000" stroke-width="1.3"/>
<line x1="641.1" x2="626.9" y1="893.0" y2="893.0" stroke="#000" stroke-width="1.3"/>
<line x1="105.8" x2="117.2" y1="893.0" y2="893.0" stroke="#9a9a9a" stroke-width="1.3" stroke-dasharray="1.6 3.345"/>
<line x1="630.0" x2="640.1" y1="893.0" y2="893.0" stroke="#9a9a9a" stroke-width="1.3" stroke-dasharray="1.6 3.345"/>
<line x1="101.2" x2="107.9" y1="877.4" y2="877.4" stroke="#000" stroke-width="1.5"/>
<line x1="641.1" x2="634.1" y1="877.4" y2="877.4" stroke="#000" stroke-width="1.5"/>
<line x1="101.2" x2="107.9" y1="861.8" y2="861.8" stroke="#000" stroke-width="1.5"/>
<line x1="641.1" x2="634.1" y1="861.8" y2="861.8" stroke="#000" stroke-width="1.5"/>
<line x1="101.2" x2="107.9" y1="846.1" y2="846.1" stroke="#000" stroke-width="1.5"/>
<line x1="641.1" x2="634.1" y1="846.1" y2="846.1" stroke="#000" stroke-width="1.5"/>
<line x1="101.2" x2="115.4" y1="830.5" y2="830.5" stroke="#000" stroke-width="1.3"/>
<line x1="641.1" x2="626.9" y1="830.5" y2="830.5" stroke="#000" stroke-width="1.3"/>
<line x1="105.8" x2="117.2" y1="830.5" y2="830.5" stroke="#9a9a9a" stroke-width="1.3" stroke-dasharray="1.6 3.345"/>
<line x1="630.0" x2="640.1" y1="830.5" y2="830.5" stroke="#9a9a9a" stroke-width="1.3" stroke-dasharray="1.6 3.345"/>
<line x1="101.2" x2="107.9" y1="814.9" y2="814.9" stroke="#000" stroke-width="1.5"/>
<line x1="641.1" x2="634.1" y1="814.9" y2="814.9" stroke="#000" stroke-width="1.5"/>
<line x1="101.2" x2="107.9" y1="799.2" y2="799.2" stroke="#000" stroke-width="1.5"/>
<line x1="641.1" x2="634.1" y1="799.2" y2="799.2" stroke="#000" stroke-width="1.5"/>
<line x1="101.2" x2="107.9" y1="783.6" y2="783.6" stroke="#000" stroke-width="1.5"/>
<line x1="641.1" x2="634.1" y1="783.6" y2="783.6" stroke="#000" stroke-width="1.5"/>
<path d="M102.4 1027.0C102.8 1026.7 104.1 1025.8 105.0 1025.0C105.9 1024.2 107.0 1022.9 108.0 1022.0C109.0 1021.1 110.0 1020.3 111.0 1019.6C112.0 1018.9 113.0 1018.1 114.0 1018.0C115.0 1017.9 116.0 1019.2 117.0 1019.0C118.0 1018.8 119.1 1017.3 120.0 1016.6C120.9 1015.9 121.6 1014.9 122.4 1015.0C123.2 1015.1 124.1 1016.2 125.0 1017.0C125.9 1017.8 126.8 1019.3 127.6 1020.0C128.4 1020.7 129.1 1021.3 130.0 1021.4C130.9 1021.5 132.0 1021.2 133.0 1020.6C134.0 1020.0 135.0 1019.3 136.0 1018.0C137.0 1016.7 138.2 1014.1 139.0 1013.0C139.8 1011.9 140.2 1011.5 141.0 1011.6C141.8 1011.7 142.8 1012.9 143.6 1013.6C144.4 1014.3 145.1 1015.8 146.0 1016.0C146.9 1016.2 148.1 1015.3 149.0 1015.0C149.9 1014.7 150.8 1013.8 151.6 1014.0C152.4 1014.2 153.1 1015.0 154.0 1016.0C154.9 1017.0 156.0 1018.3 157.0 1020.0C158.0 1021.7 159.0 1024.0 160.0 1026.0C161.0 1028.0 162.0 1030.3 163.0 1032.0C164.0 1033.7 165.0 1035.3 166.0 1036.0C167.0 1036.7 168.2 1036.3 169.0 1036.4C169.8 1036.5 170.2 1036.0 171.0 1036.6C171.8 1037.2 173.0 1038.8 174.0 1040.0C175.0 1041.2 176.1 1042.7 177.0 1043.6C177.9 1044.5 178.7 1045.3 179.6 1045.4C180.5 1045.5 181.5 1045.3 182.4 1044.4C183.3 1043.5 184.1 1041.6 185.0 1040.0C185.9 1038.4 187.0 1036.5 188.0 1035.0C189.0 1033.5 190.1 1032.7 191.0 1031.0C191.9 1029.3 192.8 1027.5 193.6 1025.0C194.4 1022.5 195.2 1019.5 196.0 1016.0C196.8 1012.5 197.7 1006.5 198.4 1004.0C199.1 1001.5 199.3 1004.3 200.0 1000.9C200.7 997.5 201.6 988.5 202.3 983.4C203.0 978.2 203.5 973.8 204.0 970.0C204.5 966.2 204.9 963.5 205.3 960.5C205.7 957.5 206.2 954.4 206.6 952.0C207.0 949.6 207.5 947.6 208.0 946.0C208.5 944.4 209.2 943.1 209.8 942.4C210.4 941.7 210.9 941.4 211.5 941.6C212.1 941.8 212.8 942.5 213.5 943.6C214.2 944.7 215.0 946.4 215.8 948.0C216.6 949.6 217.4 951.2 218.2 953.0C219.0 954.8 219.5 956.7 220.4 959.0C221.3 961.3 222.5 964.3 223.4 967.0C224.3 969.7 224.9 971.5 225.7 975.2C226.5 978.9 227.3 984.9 228.0 989.2C228.7 993.5 229.2 997.6 229.8 1000.9C230.4 1004.2 230.8 1006.4 231.5 1009.1C232.2 1011.8 233.1 1015.1 233.9 1017.2C234.7 1019.3 235.7 1021.7 236.4 1021.9C237.1 1022.1 237.7 1019.2 238.3 1018.4C239.0 1017.6 239.6 1017.1 240.3 1017.2C241.0 1017.3 241.7 1017.6 242.3 1019.0C242.9 1020.4 243.5 1022.8 244.1 1025.4C244.7 1028.0 245.5 1032.0 246.1 1034.7C246.7 1037.4 247.2 1039.5 247.9 1041.8C248.6 1044.0 249.3 1046.8 250.2 1048.2C251.1 1049.7 252.2 1050.3 253.1 1050.5C254.0 1050.7 254.9 1050.0 255.8 1049.3C256.7 1048.6 257.7 1046.7 258.4 1046.2C259.1 1045.7 259.4 1045.6 260.1 1046.4C260.8 1047.2 261.7 1049.9 262.5 1051.1C263.3 1052.3 264.0 1053.2 264.8 1053.4C265.6 1053.6 266.4 1053.3 267.2 1052.3C268.0 1051.3 268.6 1049.5 269.5 1047.6C270.4 1045.6 271.4 1042.8 272.4 1040.6C273.4 1038.4 274.4 1036.2 275.3 1034.7C276.2 1033.2 277.1 1032.6 277.7 1031.8C278.3 1031.0 278.3 1030.6 279.0 1030.0C279.7 1029.4 281.0 1028.6 282.0 1028.0C283.0 1027.4 284.0 1027.2 285.0 1026.4C286.0 1025.6 287.0 1024.6 288.0 1023.0C289.0 1021.4 290.0 1018.8 291.0 1017.0C292.0 1015.2 293.0 1013.2 294.0 1012.0C295.0 1010.8 296.0 1010.0 297.0 1009.6C298.0 1009.2 299.0 1009.4 300.0 1009.4C301.0 1009.4 302.0 1009.7 303.0 1009.6C304.0 1009.5 305.0 1009.2 306.0 1009.0C307.0 1008.8 308.1 1008.4 309.0 1008.6C309.9 1008.8 310.6 1009.3 311.4 1010.4C312.2 1011.5 313.1 1013.2 314.0 1015.0C314.9 1016.8 316.0 1019.2 317.0 1021.0C318.0 1022.8 319.0 1024.7 320.0 1026.0C321.0 1027.3 322.0 1028.4 323.0 1029.0C324.0 1029.6 325.0 1029.5 326.0 1029.6C327.0 1029.7 328.0 1029.5 329.0 1029.6C330.0 1029.7 331.0 1030.0 332.0 1030.0C333.0 1030.0 334.0 1029.9 335.0 1029.6C336.0 1029.3 337.1 1028.9 338.0 1028.0C338.9 1027.1 339.8 1025.5 340.6 1024.0C341.4 1022.5 342.1 1020.2 343.0 1019.0C343.9 1017.8 345.0 1017.1 346.0 1017.0C347.0 1016.9 348.0 1018.1 349.0 1018.4C350.0 1018.7 351.0 1019.2 352.0 1019.0C353.0 1018.8 354.0 1018.0 355.0 1017.0C356.0 1016.0 357.0 1014.2 358.0 1013.0C359.0 1011.8 360.0 1010.6 361.0 1010.0C362.0 1009.4 363.1 1009.9 364.0 1009.6C364.9 1009.3 365.8 1009.1 366.6 1008.0C367.4 1006.9 368.4 1004.2 369.0 1003.0C369.6 1001.8 369.3 1001.7 370.0 1001.0C370.7 1000.3 372.0 999.4 373.0 999.0C374.0 998.6 375.0 998.6 376.0 998.4C377.0 998.2 378.1 998.7 379.0 998.0C379.9 997.3 380.8 995.8 381.6 994.0C382.4 992.2 383.3 988.6 384.0 987.0C384.7 985.4 385.3 984.4 386.0 984.4C386.7 984.4 387.3 985.2 388.0 987.0C388.7 988.8 389.3 992.3 390.0 995.0C390.7 997.7 391.6 1000.8 392.4 1003.0C393.2 1005.2 394.1 1006.9 395.0 1008.0C395.9 1009.1 397.0 1009.1 398.0 1009.6C399.0 1010.1 400.2 1009.6 401.0 1011.0C401.8 1012.4 402.3 1015.2 403.0 1018.0C403.7 1020.8 404.3 1024.7 405.0 1028.0C405.7 1031.3 406.3 1035.4 407.0 1038.0C407.7 1040.6 408.3 1042.4 409.0 1043.6C409.7 1044.8 410.2 1045.1 411.0 1045.0C411.8 1044.9 412.7 1044.0 413.6 1043.0C414.5 1042.0 415.5 1040.5 416.4 1039.0C417.3 1037.5 418.1 1036.0 419.0 1034.0C419.9 1032.0 420.8 1029.5 421.6 1027.0C422.4 1024.5 423.2 1021.5 424.0 1019.0C424.8 1016.5 425.6 1014.2 426.4 1012.0C427.2 1009.8 428.1 1007.7 429.0 1006.0C429.9 1004.3 431.0 1003.3 432.0 1002.0C433.0 1000.7 434.0 999.7 435.0 998.0C436.0 996.3 437.1 993.8 438.0 992.0C438.9 990.2 439.6 988.1 440.4 987.0C441.2 985.9 442.1 985.4 443.0 985.4C443.9 985.4 444.7 986.4 445.6 987.0C446.5 987.6 447.5 988.7 448.4 989.0C449.3 989.3 450.1 989.2 451.0 989.0C451.9 988.8 453.0 988.5 454.0 988.0C455.0 987.5 456.0 986.6 457.0 986.0C458.0 985.4 459.1 984.7 460.0 984.4C460.9 984.1 461.6 984.1 462.4 984.4C463.2 984.7 464.1 985.4 465.0 986.0C465.9 986.6 467.1 987.0 468.0 988.0C468.9 989.0 469.6 990.3 470.4 992.0C471.2 993.7 472.1 995.8 473.0 998.0C473.9 1000.2 474.8 1003.2 475.6 1005.0C476.4 1006.8 477.1 1008.0 478.0 1009.0C478.9 1010.0 480.0 1010.3 481.0 1011.0C482.0 1011.7 483.0 1012.4 484.0 1013.0C485.0 1013.6 486.0 1014.0 487.0 1014.4C488.0 1014.8 489.1 1015.6 490.0 1015.6C490.9 1015.6 491.7 1015.7 492.4 1014.4C493.1 1013.1 493.7 1011.1 494.4 1008.0C495.1 1004.9 495.7 999.8 496.4 996.0C497.1 992.2 497.7 987.6 498.4 985.0C499.1 982.4 499.7 980.9 500.4 980.4C501.1 979.9 501.6 981.1 502.4 982.0C503.2 982.9 504.1 985.0 505.0 986.0C505.9 987.0 507.0 987.4 508.0 988.0C509.0 988.6 510.1 989.4 511.0 989.6C511.9 989.8 512.6 989.5 513.4 989.0C514.2 988.5 515.2 986.6 516.0 986.4C516.8 986.2 517.3 986.9 518.0 988.0C518.7 989.1 519.3 992.0 520.0 993.0C520.7 994.0 521.3 994.5 522.0 994.0C522.7 993.5 523.3 992.0 524.0 990.0C524.7 988.0 525.3 984.5 526.0 982.0C526.7 979.5 527.2 977.2 528.0 975.0C528.8 972.8 529.8 970.5 530.6 969.0C531.4 967.5 532.1 966.8 533.0 966.0C533.9 965.2 535.0 964.7 536.0 964.4C537.0 964.1 538.0 965.0 539.0 964.4C540.0 963.8 541.0 962.2 542.0 961.0C543.0 959.8 544.0 957.8 545.0 957.0C546.0 956.2 547.0 956.1 548.0 956.0C549.0 955.9 550.0 956.7 551.0 956.4C552.0 956.1 553.0 955.2 554.0 954.4C555.0 953.6 556.0 952.5 557.0 951.6C558.0 950.7 559.0 949.7 560.0 949.0C561.0 948.3 562.0 947.9 563.0 947.6C564.0 947.3 565.0 947.2 566.0 947.0C567.0 946.8 568.0 946.2 569.0 946.4C570.0 946.6 571.2 946.9 572.0 948.0C572.8 949.1 573.3 951.2 574.0 953.0C574.7 954.8 575.3 957.2 576.0 959.0C576.7 960.8 577.2 962.4 578.0 964.0C578.8 965.6 579.7 967.0 580.6 968.4C581.5 969.8 582.5 971.1 583.4 972.4C584.3 973.7 585.1 974.8 586.0 976.0C586.9 977.2 588.0 978.6 589.0 979.6C590.0 980.6 591.1 981.6 592.0 982.0C592.9 982.4 593.8 982.5 594.6 982.0C595.4 981.5 596.1 980.2 597.0 979.0C597.9 977.8 599.0 976.1 600.0 975.0C601.0 973.9 602.0 973.0 603.0 972.4C604.0 971.8 605.0 971.5 606.0 971.6C607.0 971.7 608.0 972.7 609.0 973.0C610.0 973.3 611.1 973.9 612.0 973.6C612.9 973.3 613.8 972.0 614.6 971.0C615.4 970.0 616.2 968.4 617.0 967.6C617.8 966.8 618.6 966.2 619.4 966.0C620.2 965.8 621.1 966.3 622.0 966.6C622.9 966.9 624.0 967.6 625.0 968.0C626.0 968.4 627.0 968.9 628.0 969.0C629.0 969.1 630.0 968.5 631.0 968.6C632.0 968.7 633.1 969.0 634.0 969.6C634.9 970.2 635.8 971.0 636.6 972.0C637.4 973.0 638.3 975.0 638.6 975.6" fill="none" stroke="#ff0000" stroke-width="3.5" stroke-linejoin="round" stroke-linecap="butt"/>
<path d="M102.4 969.6C102.8 967.7 104.1 962.6 105.0 958.0C105.9 953.4 107.0 947.0 108.0 942.0C109.0 937.0 110.1 931.8 111.0 928.0C111.9 924.2 112.8 921.0 113.6 919.0C114.4 917.0 115.2 916.2 116.0 916.0C116.8 915.8 117.6 917.2 118.4 917.6C119.2 918.0 120.1 918.0 121.0 918.4C121.9 918.8 122.8 918.7 123.6 920.0C124.4 921.3 125.1 923.5 126.0 926.0C126.9 928.5 128.0 932.5 129.0 935.0C130.0 937.5 131.0 939.2 132.0 941.0C133.0 942.8 134.2 944.8 135.0 945.6C135.8 946.4 136.3 946.4 137.0 946.0C137.7 945.6 138.3 944.0 139.0 943.0C139.7 942.0 140.3 940.6 141.0 940.0C141.7 939.4 142.3 939.3 143.0 939.6C143.7 939.9 144.2 940.3 145.0 942.0C145.8 943.7 147.0 947.0 148.0 950.0C149.0 953.0 150.1 956.3 151.0 960.0C151.9 963.7 152.8 968.3 153.6 972.0C154.4 975.7 155.1 978.3 156.0 982.0C156.9 985.7 158.0 990.0 159.0 994.0C160.0 998.0 161.0 1002.0 162.0 1006.0C163.0 1010.0 164.1 1015.1 165.0 1018.0C165.9 1020.9 166.8 1022.4 167.6 1023.6C168.4 1024.8 169.1 1024.9 170.0 1025.0C170.9 1025.1 172.0 1024.8 173.0 1024.4C174.0 1024.0 175.0 1023.0 176.0 1022.4C177.0 1021.8 178.0 1020.9 179.0 1021.0C180.0 1021.1 181.0 1022.2 182.0 1023.0C183.0 1023.8 184.0 1025.4 185.0 1026.0C186.0 1026.6 187.0 1026.3 188.0 1026.6C189.0 1026.9 190.0 1027.3 191.0 1027.6C192.0 1027.9 193.0 1028.0 194.0 1028.4C195.0 1028.8 196.0 1029.2 197.0 1030.0C198.0 1030.8 199.1 1031.2 200.0 1033.0C200.9 1034.8 201.6 1038.6 202.3 1040.6C203.0 1042.6 203.5 1043.9 204.0 1045.0C204.5 1046.1 204.9 1046.8 205.3 1047.0C205.7 1047.2 206.1 1046.9 206.5 1046.4C206.9 1045.9 206.9 1045.6 207.6 1044.1C208.3 1042.5 209.4 1039.5 210.5 1037.1C211.6 1034.7 212.8 1031.5 214.0 1029.5C215.2 1027.5 216.3 1026.8 217.5 1025.4C218.7 1024.0 219.8 1023.0 221.0 1021.3C222.2 1019.5 223.4 1016.6 224.5 1014.9C225.6 1013.1 226.6 1011.5 227.4 1010.8C228.2 1010.1 228.6 1010.2 229.2 1010.5C229.8 1010.8 230.2 1011.3 230.9 1012.6C231.6 1013.9 232.4 1016.1 233.3 1018.4C234.2 1020.7 235.2 1023.9 236.2 1026.6C237.2 1029.3 238.2 1032.5 239.1 1034.7C240.0 1036.9 240.6 1038.6 241.5 1040.0C242.4 1041.4 243.3 1042.2 244.4 1042.9C245.5 1043.6 246.7 1043.9 247.9 1044.1C249.1 1044.3 250.3 1043.9 251.4 1043.9C252.5 1043.9 253.3 1043.6 254.3 1043.9C255.3 1044.2 256.2 1045.2 257.2 1045.8C258.2 1046.4 259.2 1047.4 260.1 1047.8C261.0 1048.2 261.7 1048.6 262.5 1048.2C263.3 1047.8 264.0 1046.5 264.8 1045.3C265.6 1044.1 266.3 1042.3 267.2 1041.2C268.1 1040.1 269.0 1039.4 270.1 1038.8C271.2 1038.2 272.5 1038.3 273.6 1037.7C274.7 1037.1 275.7 1036.6 276.5 1035.3C277.3 1034.0 277.9 1033.0 278.5 1030.1C279.1 1027.2 279.5 1021.0 280.0 1018.0C280.5 1015.0 280.8 1015.7 281.4 1012.0C282.0 1008.3 282.7 1000.3 283.4 996.0C284.1 991.7 284.6 988.7 285.4 986.0C286.2 983.3 287.1 981.5 288.0 980.0C288.9 978.5 290.0 977.8 291.0 977.0C292.0 976.2 293.0 975.8 294.0 975.0C295.0 974.2 296.1 972.8 297.0 972.0C297.9 971.2 298.6 970.3 299.4 970.0C300.2 969.7 301.2 969.4 302.0 970.4C302.8 971.4 303.2 973.7 304.0 976.0C304.8 978.3 305.8 982.1 306.6 984.0C307.4 985.9 308.2 986.9 309.0 987.6C309.8 988.3 310.6 988.6 311.4 988.0C312.2 987.4 313.1 985.5 314.0 984.0C314.9 982.5 316.0 980.4 317.0 979.0C318.0 977.6 319.0 976.3 320.0 975.6C321.0 974.9 322.0 974.9 323.0 975.0C324.0 975.1 325.0 976.0 326.0 976.4C327.0 976.8 328.0 977.2 329.0 977.6C330.0 978.0 331.0 978.6 332.0 979.0C333.0 979.4 334.1 979.8 335.0 980.0C335.9 980.2 336.6 980.8 337.4 980.0C338.2 979.2 338.8 977.8 340.0 975.3C341.2 972.8 343.1 968.8 344.7 964.7C346.2 960.6 347.8 955.4 349.3 950.7C350.9 946.0 352.6 941.0 354.0 936.7C355.4 932.4 356.5 928.0 357.5 925.0C358.5 922.0 359.2 919.9 359.9 918.6C360.5 917.3 360.9 917.3 361.4 917.4C361.9 917.5 362.4 917.5 363.0 919.0C363.6 920.5 364.3 923.5 365.1 926.2C365.9 929.0 367.1 932.8 368.0 935.5C368.9 938.2 369.7 940.8 370.6 942.6C371.5 944.5 372.4 945.4 373.3 946.6C374.2 947.9 375.2 948.7 376.2 950.1C377.2 951.5 378.3 953.6 379.1 954.8C379.9 956.0 380.5 957.0 381.1 957.5C381.7 958.0 382.1 958.2 382.6 958.0C383.1 957.8 383.6 957.6 384.1 956.0C384.6 954.4 385.3 951.2 385.8 948.4C386.3 945.6 386.8 942.3 387.3 939.0C387.8 935.7 388.3 932.0 388.8 928.5C389.3 925.0 389.9 921.1 390.5 918.0C391.1 914.9 391.6 912.1 392.2 909.9C392.8 907.7 393.4 906.1 394.0 904.6C394.6 903.1 395.4 901.9 396.1 901.1C396.8 900.3 397.6 900.0 398.4 899.6C399.2 899.2 399.9 899.1 400.7 898.9C401.5 898.7 402.4 898.3 403.1 898.4C403.9 898.5 404.5 898.6 405.2 899.3C405.9 899.9 406.5 900.9 407.2 902.3C407.9 903.7 408.7 905.6 409.5 907.5C410.3 909.4 411.0 911.4 411.8 913.4C412.6 915.4 413.4 917.7 414.2 919.8C415.0 921.9 415.8 924.2 416.5 926.2C417.2 928.2 417.4 927.7 418.2 932.0C418.9 936.3 420.1 946.7 421.0 952.0C421.9 957.3 422.8 960.3 423.6 964.0C424.4 967.7 425.1 970.7 426.0 974.0C426.9 977.3 428.0 981.0 429.0 984.0C430.0 987.0 431.0 989.8 432.0 992.0C433.0 994.2 434.0 995.5 435.0 997.0C436.0 998.5 437.1 999.8 438.0 1001.0C438.9 1002.2 439.7 1003.3 440.4 1004.0C441.1 1004.7 441.6 1005.5 442.4 1005.0C443.2 1004.5 444.1 1002.7 445.0 1001.0C445.9 999.3 447.0 997.2 448.0 995.0C449.0 992.8 450.0 990.3 451.0 988.0C452.0 985.7 453.1 983.0 454.0 981.0C454.9 979.0 455.7 977.0 456.4 976.0C457.1 975.0 457.6 974.7 458.4 975.0C459.2 975.3 460.1 977.1 461.0 977.6C461.9 978.1 462.8 978.0 463.6 978.0C464.4 978.0 465.2 977.6 466.0 977.6C466.8 977.6 467.6 977.4 468.4 978.0C469.2 978.6 470.1 979.3 471.0 981.0C471.9 982.7 472.8 985.2 473.6 988.0C474.4 990.8 475.3 994.7 476.0 998.0C476.7 1001.3 477.3 1004.8 478.0 1008.0C478.7 1011.2 479.3 1014.8 480.0 1017.0C480.7 1019.2 481.6 1020.2 482.4 1021.0C483.2 1021.8 484.1 1021.6 485.0 1021.6C485.9 1021.6 487.0 1021.2 488.0 1021.2C489.0 1021.2 490.0 1021.2 491.0 1021.6C492.0 1022.0 493.0 1022.9 494.0 1023.6C495.0 1024.3 496.2 1025.1 497.0 1025.6C497.8 1026.1 498.2 1026.5 499.0 1026.4C499.8 1026.3 500.7 1025.7 501.6 1025.0C502.5 1024.3 503.8 1022.9 504.4 1022.4C505.0 1021.9 504.4 1022.4 505.0 1022.0C505.6 1021.6 507.0 1020.8 508.0 1020.0C509.0 1019.2 510.0 1018.3 511.0 1017.0C512.0 1015.7 513.0 1014.2 514.0 1012.0C515.0 1009.8 516.1 1006.5 517.0 1004.0C517.9 1001.5 518.6 998.7 519.4 997.0C520.2 995.3 521.1 994.3 522.0 994.0C522.9 993.7 524.0 994.7 525.0 995.0C526.0 995.3 527.0 995.8 528.0 995.6C529.0 995.4 530.0 994.6 531.0 994.0C532.0 993.4 533.0 993.0 534.0 992.0C535.0 991.0 536.0 989.6 537.0 988.0C538.0 986.4 539.0 983.9 540.0 982.4C541.0 980.9 542.0 980.2 543.0 979.0C544.0 977.8 545.1 976.7 546.0 975.0C546.9 973.3 547.7 971.2 548.6 969.0C549.5 966.8 550.5 964.2 551.4 962.0C552.3 959.8 553.1 958.0 554.0 956.0C554.9 954.0 555.8 951.5 556.6 950.0C557.4 948.5 558.0 947.7 558.6 947.0C559.2 946.3 559.4 945.8 560.0 946.0C560.6 946.2 561.2 947.0 562.0 948.4C562.8 949.8 564.0 952.5 565.0 954.4C566.0 956.3 567.0 958.2 568.0 960.0C569.0 961.8 570.0 963.3 571.0 965.0C572.0 966.7 573.0 968.2 574.0 970.0C575.0 971.8 576.0 973.6 577.0 975.6C578.0 977.6 579.1 980.1 580.0 982.0C580.9 983.9 581.7 987.2 582.6 987.0C583.5 986.8 584.6 983.7 585.5 981.0C586.4 978.3 587.0 975.2 588.0 971.0C589.0 966.8 590.5 961.7 591.6 955.7C592.7 949.7 593.4 943.0 594.5 935.0C595.6 927.0 597.4 915.0 598.4 908.0C599.4 901.0 599.6 899.3 600.5 893.0C601.4 886.7 603.0 875.5 603.8 870.0C604.6 864.5 604.6 864.2 605.2 860.0C605.8 855.8 606.8 849.9 607.5 845.0C608.2 840.1 608.8 835.6 609.5 830.6C610.2 825.6 611.3 819.0 612.0 815.0C612.7 811.0 613.0 809.0 613.5 806.3C614.0 803.6 614.4 800.8 615.0 799.0C615.6 797.2 616.2 795.6 617.0 795.3C617.8 795.0 618.7 795.9 619.5 797.0C620.3 798.1 621.2 800.5 622.0 802.0C622.8 803.5 623.2 804.1 624.0 806.3C624.8 808.5 625.8 811.0 627.0 815.0C628.2 819.0 629.8 825.4 631.0 830.6C632.2 835.9 633.0 841.8 634.0 846.5C635.0 851.2 636.0 855.9 636.7 858.8C637.4 861.6 638.1 862.8 638.4 863.6" fill="none" stroke="#0000ff" stroke-width="3.5" stroke-linejoin="round" stroke-linecap="butt"/>
<path d="M102.4 1048.6L103.0 1048.7L103.9 1048.7L105.0 1048.7L106.0 1048.9L106.8 1048.0L107.6 1047.2L108.4 1048.1L109.2 1048.1L110.0 1047.4L110.8 1048.4L111.6 1048.5L112.4 1048.4L113.2 1048.4L114.0 1048.2L114.8 1047.6L115.6 1047.6L116.4 1048.4L117.2 1048.1L118.0 1048.0L118.8 1048.1L119.6 1047.3L120.4 1047.7L121.2 1048.4L122.0 1047.8L122.8 1047.2L123.6 1048.0L124.4 1048.4L125.2 1048.3L126.0 1048.8L126.8 1048.7L127.6 1048.7L128.4 1048.1L129.2 1047.9L130.0 1047.9L130.8 1048.2L131.6 1048.7L132.4 1047.7L133.2 1047.0L134.0 1047.2L134.8 1048.3L135.6 1048.4L136.4 1048.1L137.2 1047.8L138.0 1047.8L138.8 1047.9L139.6 1047.9L140.4 1048.3L141.2 1048.6L142.0 1049.1L142.8 1049.0L143.6 1049.0L144.4 1049.0L145.2 1048.9L146.0 1048.4L146.8 1047.1L147.6 1047.3L148.4 1048.0L149.2 1047.8L150.0 1047.2L150.8 1046.9L151.6 1046.3L152.4 1046.6L153.2 1046.9L154.0 1046.2L154.8 1045.4L155.6 1046.1L156.4 1047.0L157.2 1045.7L158.0 1045.6L158.8 1045.8L159.6 1045.0L160.4 1045.0L161.2 1045.8L162.0 1046.4L162.8 1045.2L163.6 1044.8L164.4 1044.4L165.2 1044.4L166.0 1044.4L166.8 1044.6L167.6 1045.3L168.4 1044.7L169.2 1044.8L170.0 1044.3L170.8 1043.1L171.6 1043.5L172.4 1043.3L173.2 1042.8L174.0 1043.1L174.8 1043.4L175.6 1042.8L176.4 1041.8L177.2 1042.6L178.0 1042.6L178.8 1042.7L179.6 1043.3L180.4 1042.4L181.2 1041.9L182.0 1042.0L182.8 1042.1L183.6 1041.9L184.4 1041.6L185.2 1041.4L186.0 1041.7L186.8 1041.4L187.6 1040.7L188.4 1040.9L189.2 1040.4L190.0 1039.8L190.8 1040.7L191.6 1040.6L192.4 1040.0L193.2 1039.1L194.0 1038.9L194.8 1039.5L195.6 1038.9L196.4 1039.0L197.2 1039.7L198.0 1038.9L198.8 1039.1L199.6 1039.6L200.4 1039.7L201.2 1039.6L202.0 1039.7L202.8 1040.2L203.6 1039.2L204.4 1038.5L205.2 1039.3L206.0 1040.4L206.8 1039.8L207.6 1039.3L208.4 1039.7L209.2 1039.5L210.0 1039.2L210.8 1039.2L211.6 1039.2L212.4 1039.6L213.2 1039.4L214.0 1039.2L214.8 1039.8L215.6 1039.2L216.4 1039.1L217.2 1040.0L218.0 1039.6L218.8 1039.1L219.6 1039.9L220.4 1039.9L221.2 1039.2L222.0 1039.6L222.8 1040.1L223.6 1039.5L224.4 1039.0L225.2 1039.1L226.0 1039.7L226.8 1039.5L227.6 1039.5L228.4 1038.9L229.2 1038.1L230.0 1038.6L230.8 1039.2L231.7 1038.7L232.6 1037.8L233.4 1037.2L234.0 1037.6L235.0 1037.6L235.6 1037.9L236.4 1038.5L237.3 1037.4L238.2 1036.6L239.0 1037.2L239.8 1037.4L240.6 1037.2L241.4 1036.6L242.2 1035.5L243.0 1035.3L243.8 1035.9L244.6 1035.4L245.4 1034.6L246.2 1034.4L247.0 1034.2L247.8 1033.9L248.6 1034.3L249.4 1033.5L250.2 1032.2L251.0 1033.1L251.8 1033.8L252.6 1033.7L253.4 1032.8L254.2 1032.7L255.0 1033.1L255.8 1031.9L256.6 1031.6L257.4 1032.1L258.2 1031.7L259.0 1031.2L259.8 1030.7L260.6 1030.5L261.4 1030.5L262.2 1030.2L263.0 1030.6L263.8 1030.6L264.6 1030.7L265.4 1029.9L266.2 1029.9L267.0 1030.3L267.8 1030.1L268.6 1030.1L269.4 1029.8L270.2 1029.1L271.0 1027.8L271.8 1028.1L272.6 1028.0L273.4 1027.4L274.2 1028.0L275.0 1028.2L275.8 1027.9L276.6 1028.5L277.4 1028.7L278.2 1028.0L279.0 1027.5L279.8 1028.1L280.6 1028.0L281.4 1027.8L282.2 1027.3L283.0 1026.4L283.8 1026.6L284.6 1027.2L285.4 1026.5L286.2 1026.5L287.0 1027.3L287.8 1027.2L288.6 1027.0L289.4 1025.8L290.2 1025.7L291.0 1026.6L291.8 1025.8L292.6 1025.2L293.4 1025.5L294.2 1025.8L295.0 1025.9L295.8 1025.8L296.6 1026.1L297.4 1025.1L298.2 1024.1L299.0 1024.0L299.8 1023.7L300.6 1023.2L301.4 1023.9L302.2 1024.4L303.0 1022.8L303.8 1022.3L304.6 1022.3L305.4 1021.9L306.2 1021.8L307.0 1022.0L307.8 1022.1L308.6 1021.5L309.4 1020.8L310.2 1020.6L311.0 1020.3L311.8 1020.4L312.6 1020.8L313.4 1020.2L314.2 1019.1L315.0 1018.7L315.8 1018.9L316.6 1019.3L317.4 1019.7L318.2 1019.2L319.0 1019.3L319.8 1019.4L320.6 1018.8L321.4 1018.4L322.2 1018.5L323.0 1018.9L323.8 1018.8L324.6 1018.9L325.4 1019.0L326.2 1018.5L327.0 1018.8L327.8 1019.3L328.6 1018.7L329.4 1018.5L330.2 1018.8L331.0 1019.4L331.8 1020.0L332.6 1019.2L333.4 1019.2L334.2 1019.6L335.0 1018.6L335.8 1018.1L336.6 1017.7L337.4 1018.1L338.2 1018.6L339.0 1018.7L339.8 1018.9L340.6 1018.9L341.4 1019.1L342.2 1019.2L343.0 1018.5L343.8 1018.8L344.6 1018.7L345.4 1018.4L346.2 1019.5L347.0 1019.3L347.8 1018.6L348.6 1018.6L349.4 1019.7L350.2 1019.6L351.0 1018.6L351.8 1019.5L352.6 1019.4L353.4 1019.5L354.2 1020.0L355.0 1020.1L355.8 1020.4L356.6 1020.1L357.4 1020.0L358.2 1019.3L359.0 1019.4L359.8 1020.0L360.6 1020.0L361.4 1019.4L362.2 1019.6L363.0 1020.5L363.8 1019.3L364.6 1018.4L365.5 1018.7L366.3 1018.9L367.0 1018.0L367.8 1016.7L368.5 1016.0L369.2 1016.0L370.0 1016.1L370.7 1015.5L371.5 1014.9L372.4 1014.9L373.2 1014.8L374.0 1014.7L374.8 1014.2L375.6 1014.2L376.4 1015.1L377.2 1014.7L378.0 1014.2L378.8 1013.4L379.6 1013.1L380.4 1013.3L381.2 1012.8L382.0 1012.2L382.8 1011.8L383.6 1011.8L384.4 1012.3L385.2 1011.5L386.0 1010.6L386.8 1011.6L387.6 1012.7L388.4 1012.5L389.2 1012.2L390.0 1012.6L390.8 1012.4L391.6 1012.0L392.4 1012.1L393.2 1012.7L394.0 1012.8L394.8 1012.4L395.6 1013.0L396.4 1013.8L397.2 1013.2L398.0 1013.1L398.8 1013.2L399.6 1013.6L400.4 1013.9L401.2 1013.3L402.0 1012.9L402.8 1012.6L403.6 1012.9L404.4 1013.1L405.2 1012.6L406.0 1012.4L406.8 1012.4L407.6 1012.8L408.4 1012.2L409.2 1012.5L410.0 1012.5L410.8 1011.9L411.6 1011.7L412.4 1011.8L413.2 1012.0L414.0 1011.4L414.8 1010.8L415.6 1010.9L416.4 1011.1L417.2 1010.5L418.0 1010.2L418.8 1010.7L419.6 1010.0L420.4 1008.9L421.2 1008.5L422.0 1009.0L422.8 1009.4L423.6 1009.7L424.4 1009.9L425.2 1008.9L426.0 1008.3L426.8 1008.5L427.6 1008.7L428.4 1009.7L429.2 1010.8L430.0 1011.4L430.8 1010.9L431.6 1011.3L432.4 1011.6L433.2 1011.5L434.0 1012.2L434.8 1011.7L435.6 1010.9L436.4 1011.8L437.2 1011.8L438.0 1011.2L438.8 1011.6L439.6 1012.1L440.4 1011.3L441.2 1011.1L442.0 1011.7L442.8 1011.9L443.6 1011.7L444.4 1011.9L445.2 1012.8L446.0 1012.4L446.8 1011.8L447.6 1011.2L448.4 1010.7L449.2 1011.2L450.0 1010.7L450.8 1010.9L451.6 1011.6L452.4 1010.3L453.2 1010.3L454.0 1010.3L454.8 1010.1L455.6 1010.5L456.4 1009.8L457.2 1009.7L458.0 1010.0L458.8 1010.1L459.6 1009.3L460.4 1009.2L461.2 1009.9L462.0 1009.8L462.8 1009.3L463.6 1008.8L464.4 1009.1L465.2 1009.6L466.0 1010.1L466.8 1010.7L467.6 1010.7L468.4 1010.3L469.2 1010.7L470.0 1011.3L470.8 1010.8L471.6 1011.3L472.4 1011.8L473.2 1010.7L474.0 1011.2L474.8 1010.9L475.6 1010.0L476.4 1010.6L477.2 1010.6L478.0 1010.2L478.8 1010.1L479.6 1009.7L480.4 1009.1L481.2 1008.5L482.0 1008.0L482.8 1008.6L483.6 1009.1L484.4 1008.6L485.2 1008.5L486.0 1008.1L486.8 1007.6L487.6 1007.8L488.4 1008.9L489.2 1008.6L490.0 1008.5L490.8 1008.8L491.6 1009.4L492.4 1009.6L493.2 1009.2L494.0 1009.3L494.8 1009.5L495.6 1009.8L496.4 1009.3L497.2 1009.4L498.0 1008.9L498.8 1008.3L499.6 1008.3L500.5 1008.3L501.3 1009.5L502.0 1010.6L502.8 1010.7L503.6 1011.2L504.3 1012.6L505.0 1014.2L505.8 1015.4L506.5 1015.9L507.2 1015.9L508.0 1015.2L508.8 1014.9L509.5 1014.5L510.2 1014.2L511.0 1014.1L511.8 1013.2L512.5 1012.3L513.2 1012.6L514.0 1011.7L514.8 1011.4L515.5 1011.9L516.2 1011.6L517.0 1010.3L517.8 1009.4L518.5 1009.2L519.2 1008.8L520.0 1008.8L520.8 1008.3L521.5 1007.1L522.2 1006.9L523.0 1006.4L523.8 1005.3L524.5 1004.5L525.2 1002.6L526.0 1001.8L526.8 1001.6L527.5 1000.2L528.2 999.2L529.0 998.4L529.8 997.3L530.5 996.9L531.2 996.2L532.0 995.9L532.8 996.3L533.5 996.0L534.2 995.8L535.0 996.3L535.8 996.5L536.5 995.2L537.2 995.1L538.0 995.5L538.7 994.4L539.4 994.0L540.2 994.0L541.0 993.5L541.7 993.9L542.5 994.9L543.4 994.4L544.2 994.4L545.0 994.7L545.8 993.6L546.6 993.9L547.4 994.3L548.2 994.4L549.0 994.4L549.8 994.1L550.6 993.5L551.4 993.6L552.2 994.2L553.0 994.2L553.8 993.5L554.6 993.5L555.4 993.6L556.2 992.8L557.0 992.3L557.8 992.3L558.6 992.6L559.4 992.7L560.2 993.2L561.0 993.9L561.8 993.9L562.6 993.6L563.4 993.8L564.2 993.5L565.0 993.3L565.8 993.8L566.6 993.6L567.4 992.7L568.2 993.3L569.0 993.8L569.8 992.9L570.6 992.3L571.4 992.3L572.2 992.3L573.0 991.7L573.8 990.9L574.6 990.8L575.4 991.8L576.2 991.5L577.0 991.1L577.8 991.0L578.6 990.6L579.4 990.5L580.2 990.6L581.0 990.4L581.8 989.8L582.6 989.5L583.4 989.5L584.2 989.8L585.0 989.4L585.8 988.7L586.6 989.0L587.4 989.3L588.2 989.5L589.0 988.8L589.8 988.5L590.6 988.9L591.4 988.4L592.2 989.2L593.0 989.1L593.8 987.9L594.6 988.0L595.4 987.7L596.2 987.6L597.0 987.5L597.8 986.7L598.6 986.2L599.4 987.0L600.2 987.0L601.0 987.1L601.8 987.3L602.6 987.6L603.4 987.3L604.2 986.5L605.0 986.4L605.8 987.0L606.6 987.2L607.4 986.4L608.2 985.5L609.0 985.8L609.8 986.7L610.6 986.3L611.4 984.8L612.2 984.0L613.0 983.9L613.8 983.8L614.6 983.4L615.4 983.0L616.2 983.6L617.0 984.3L617.8 983.4L618.6 983.4L619.4 983.4L620.2 983.0L621.0 983.3L621.8 983.3L622.6 981.8L623.5 981.0L624.3 981.5L625.0 982.1L625.8 981.0L626.6 980.0L627.3 980.8L628.0 980.3L628.8 979.9L629.5 980.3L630.2 981.0L631.0 982.0L631.8 981.4L632.5 981.6L633.2 982.4L634.0 982.7L634.8 982.6L635.6 983.0L636.3 982.8L637.0 982.3L638.0 982.4L638.6 983.1" fill="none" stroke="#00ffff" stroke-width="3.5" stroke-linejoin="round" stroke-linecap="butt"/>
<path d="M102.4 1070.0L103.1 1069.4L104.0 1069.5L105.0 1069.4L105.7 1069.0L106.5 1069.5L107.2 1070.7L108.0 1071.3L108.8 1071.2L109.5 1070.6L110.2 1070.6L111.0 1070.7L111.8 1070.5L112.5 1070.6L113.2 1070.8L114.0 1071.9L114.8 1072.1L115.5 1071.3L116.2 1070.4L117.0 1068.9L117.8 1067.8L118.5 1067.8L119.2 1067.8L120.0 1067.8L120.8 1067.8L121.5 1066.8L122.2 1066.7L123.0 1067.4L123.8 1067.1L124.5 1066.3L125.2 1066.1L126.0 1065.8L126.8 1066.4L127.5 1067.1L128.2 1066.4L129.0 1065.8L129.8 1066.6L130.5 1067.3L131.2 1067.8L132.0 1068.5L132.8 1068.4L133.5 1068.4L134.2 1068.9L135.0 1069.0L135.8 1068.3L136.5 1067.8L137.2 1068.2L138.0 1067.3L138.8 1066.2L139.5 1066.9L140.2 1066.9L141.0 1066.8L141.8 1066.9L142.5 1066.7L143.2 1067.5L144.0 1067.1L144.8 1066.6L145.5 1066.8L146.2 1067.3L147.0 1067.4L147.8 1067.2L148.5 1068.0L149.3 1067.9L150.0 1067.9L150.8 1069.1L151.6 1068.8L152.4 1067.9L153.2 1067.4L154.1 1067.2L155.0 1066.5L155.7 1065.0L156.5 1063.9L157.2 1063.0L158.0 1062.6L158.8 1061.7L159.5 1061.7L160.2 1062.2L161.0 1062.1L161.8 1061.4L162.5 1061.1L163.2 1059.7L164.0 1058.8L164.8 1060.0L165.6 1060.7L166.3 1060.1L167.0 1060.5L168.0 1060.1L169.0 1059.6L169.7 1059.4L170.4 1059.2L171.2 1060.0L172.0 1060.4L172.8 1060.9L173.6 1062.4L174.3 1062.6L175.0 1062.1L176.0 1063.9L177.0 1066.0L177.7 1067.6L178.4 1068.0L179.2 1067.7L180.0 1067.6L180.8 1069.0L181.5 1069.5L182.2 1068.9L183.0 1068.7L183.8 1068.5L184.5 1068.6L185.2 1069.3L186.0 1069.3L186.8 1069.0L187.5 1070.1L188.2 1070.9L189.0 1072.4L189.8 1072.8L190.5 1073.1L191.2 1074.7L192.0 1075.2L192.8 1076.3L193.5 1076.9L194.2 1076.5L195.0 1076.6L195.8 1075.8L196.5 1075.1L197.2 1074.4L198.0 1074.3L198.8 1074.2L199.6 1073.1L200.3 1071.5L201.0 1070.7L202.1 1069.8L203.0 1069.3L204.0 1070.4L205.0 1073.2L206.0 1075.3L207.0 1076.0L207.8 1076.5L208.7 1075.7L209.6 1074.8L210.4 1074.0L211.2 1073.7L212.0 1073.7L212.7 1073.3L213.5 1073.0L214.2 1072.2L215.0 1071.0L215.8 1070.3L216.5 1070.8L217.2 1071.2L218.0 1071.0L218.8 1070.3L219.5 1070.4L220.2 1071.3L221.0 1071.5L221.8 1071.8L222.5 1071.9L223.2 1072.0L224.0 1072.4L224.8 1072.2L225.5 1073.0L226.2 1074.2L227.0 1073.5L227.8 1074.3L228.5 1076.0L229.2 1076.2L230.0 1075.6L230.8 1076.4L231.6 1076.6L232.3 1077.1L233.0 1077.8L234.0 1076.5L235.0 1075.6L235.7 1076.1L236.4 1076.1L237.2 1075.9L238.0 1075.9L238.8 1074.6L239.5 1073.1L240.2 1073.6L241.0 1072.8L241.8 1072.2L242.5 1071.3L243.2 1070.6L244.0 1070.7L244.8 1070.5L245.5 1070.1L246.2 1070.0L247.0 1069.0L247.8 1068.1L248.5 1067.1L249.3 1066.4L250.0 1065.8L250.9 1063.8L251.8 1062.1L252.6 1060.4L253.4 1059.3L254.2 1059.8L255.0 1060.1L255.7 1060.2L256.5 1060.0L257.2 1058.8L258.0 1058.4L258.8 1059.1L259.5 1059.1L260.2 1058.0L261.0 1058.5L261.8 1059.4L262.5 1058.3L263.2 1058.2L264.0 1058.5L264.8 1059.0L265.5 1058.9L266.2 1058.4L267.0 1058.7L267.8 1059.6L268.5 1058.7L269.2 1057.6L270.0 1058.3L270.8 1059.4L271.5 1059.4L272.2 1059.1L273.0 1059.8L273.8 1060.4L274.5 1059.5L275.2 1060.0L276.0 1060.0L276.8 1059.2L277.5 1059.8L278.2 1059.5L279.0 1059.3L279.8 1058.8L280.5 1059.1L281.2 1058.9L282.0 1058.1L282.8 1058.7L283.5 1059.0L284.2 1059.2L285.0 1060.0L285.8 1060.0L286.5 1058.6L287.2 1058.0L288.0 1058.4L288.8 1058.4L289.5 1058.5L290.2 1058.2L291.0 1057.0L291.8 1056.2L292.5 1056.5L293.2 1055.8L294.0 1055.2L294.8 1055.5L295.5 1054.9L296.2 1054.2L297.0 1054.0L297.8 1053.4L298.5 1053.9L299.2 1054.1L300.0 1054.1L300.8 1053.6L301.5 1053.3L302.2 1053.5L303.0 1052.9L303.8 1052.3L304.5 1051.6L305.2 1052.1L306.0 1052.1L306.8 1051.9L307.5 1051.2L308.2 1050.3L309.0 1050.0L309.8 1050.8L310.5 1050.4L311.2 1050.4L312.0 1050.3L312.8 1049.7L313.5 1049.3L314.3 1049.1L315.0 1048.6L315.8 1048.5L316.6 1049.8L317.4 1049.7L318.2 1049.9L319.1 1050.6L320.0 1050.5L320.7 1050.0L321.5 1049.4L322.2 1050.4L323.0 1051.0L323.8 1050.5L324.5 1050.2L325.2 1050.2L326.0 1049.0L326.8 1048.7L327.5 1049.0L328.2 1049.1L329.0 1049.7L329.8 1049.8L330.5 1049.9L331.2 1049.0L332.0 1048.8L332.8 1049.5L333.5 1049.8L334.2 1049.9L335.0 1050.2L335.8 1049.8L336.5 1050.0L337.2 1050.0L338.0 1049.6L338.8 1050.2L339.5 1050.1L340.2 1049.2L341.0 1048.4L341.8 1048.2L342.5 1048.4L343.2 1049.0L344.0 1049.1L344.8 1048.5L345.5 1048.2L346.2 1049.1L347.0 1049.1L347.8 1048.6L348.5 1048.1L349.2 1047.7L350.0 1048.1L350.8 1048.4L351.5 1048.1L352.2 1047.3L353.0 1047.5L353.8 1047.3L354.5 1045.9L355.2 1044.9L356.0 1045.8L356.8 1046.6L357.5 1046.3L358.2 1045.7L359.0 1044.9L359.8 1044.2L360.5 1044.2L361.2 1044.4L362.0 1045.3L362.8 1045.9L363.5 1045.6L364.2 1044.4L365.0 1043.6L365.8 1043.5L366.6 1044.1L367.3 1043.4L368.0 1043.0L368.9 1043.2L370.0 1042.7L370.7 1042.9L371.5 1042.3L372.3 1041.7L373.2 1041.3L374.0 1040.7L374.8 1040.4L375.6 1040.5L376.4 1040.5L377.2 1040.0L378.0 1041.2L378.8 1041.3L379.6 1041.4L380.4 1041.8L381.2 1041.7L382.0 1041.5L382.8 1041.5L383.6 1041.4L384.4 1040.6L385.2 1039.7L386.0 1039.3L386.8 1039.2L387.6 1038.8L388.4 1038.2L389.2 1037.4L390.0 1037.7L390.8 1037.6L391.6 1036.2L392.4 1035.5L393.2 1036.2L394.0 1035.7L394.8 1034.8L395.6 1034.9L396.4 1035.1L397.2 1034.2L398.0 1033.2L398.7 1032.9L399.5 1031.9L400.2 1032.1L400.9 1031.5L401.6 1031.7L402.5 1031.9L403.3 1031.5L404.2 1033.1L405.0 1034.4L405.8 1034.1L406.5 1034.4L407.2 1035.2L408.0 1035.9L408.7 1035.7L409.5 1036.3L410.4 1037.6L411.2 1037.6L412.0 1037.8L412.8 1038.3L413.6 1037.8L414.4 1038.0L415.2 1038.7L416.0 1038.5L416.8 1037.8L417.6 1038.2L418.4 1039.4L419.2 1039.1L420.0 1039.0L420.8 1039.8L421.6 1039.8L422.4 1038.7L423.2 1038.8L424.0 1038.8L424.8 1038.9L425.6 1039.0L426.5 1037.8L427.3 1037.8L428.0 1037.6L428.8 1036.4L429.6 1036.2L430.3 1036.3L431.0 1036.0L431.7 1035.7L432.4 1035.2L433.2 1034.8L434.0 1034.8L434.7 1034.7L435.5 1035.4L436.4 1035.4L437.2 1034.6L438.0 1035.4L438.8 1036.1L439.6 1036.2L440.4 1036.6L441.2 1036.5L442.0 1036.3L442.8 1036.4L443.6 1037.6L444.4 1039.0L445.2 1039.1L446.0 1038.1L446.8 1038.4L447.6 1038.8L448.4 1037.7L449.2 1036.1L450.0 1036.3L450.8 1036.7L451.6 1036.2L452.4 1035.2L453.2 1035.4L454.0 1035.2L454.8 1035.0L455.6 1035.1L456.4 1035.1L457.2 1036.2L458.0 1036.8L458.8 1036.9L459.6 1036.5L460.5 1036.3L461.3 1036.9L462.0 1036.5L462.8 1036.2L463.6 1037.2L464.3 1037.2L465.0 1036.8L465.8 1035.9L466.5 1035.6L467.2 1036.0L468.0 1036.0L468.8 1035.8L469.5 1035.5L470.2 1035.5L471.0 1037.0L471.7 1038.5L472.4 1038.2L473.2 1038.7L474.0 1039.2L474.7 1039.4L475.5 1040.2L476.4 1039.9L477.2 1039.9L478.0 1039.8L478.8 1039.7L479.6 1039.1L480.4 1038.7L481.2 1038.7L482.0 1039.3L482.8 1038.7L483.6 1038.4L484.4 1037.8L485.2 1038.0L486.0 1037.7L486.8 1036.5L487.6 1036.5L488.4 1037.5L489.2 1037.9L490.0 1037.7L490.8 1037.3L491.6 1036.1L492.4 1035.7L493.2 1035.9L494.0 1036.6L494.8 1036.0L495.6 1035.0L496.4 1035.8L497.2 1035.4L498.0 1035.8L498.8 1035.9L499.6 1035.6L500.5 1036.2L501.3 1036.9L502.0 1036.3L502.8 1036.9L503.6 1037.4L504.3 1038.0L505.0 1038.0L505.8 1038.3L506.5 1038.2L507.2 1037.4L508.0 1037.0L508.8 1037.0L509.5 1037.1L510.2 1037.8L511.0 1037.7L511.8 1036.6L512.5 1036.8L513.2 1036.0L514.0 1034.8L514.8 1035.6L515.5 1036.1L516.2 1035.4L517.0 1035.3L517.8 1034.1L518.5 1034.0L519.2 1034.5L520.0 1034.1L520.8 1034.1L521.5 1033.1L522.2 1032.2L523.0 1032.2L523.8 1032.7L524.5 1033.3L525.2 1033.6L526.0 1033.5L526.8 1033.7L527.5 1034.1L528.2 1033.9L529.0 1032.7L529.8 1031.7L530.5 1031.7L531.2 1031.5L532.0 1031.8L532.8 1031.6L533.5 1031.7L534.2 1031.8L535.0 1031.6L535.8 1032.3L536.5 1033.4L537.2 1032.9L538.0 1032.4L538.8 1033.6L539.5 1033.3L540.2 1032.2L541.0 1032.0L541.8 1032.7L542.5 1032.8L543.2 1032.4L544.0 1031.5L544.8 1029.8L545.5 1029.2L546.2 1029.5L547.0 1029.1L547.8 1028.0L548.5 1027.6L549.2 1027.7L550.0 1027.4L550.8 1027.2L551.5 1026.7L552.2 1026.1L553.0 1026.9L553.8 1027.5L554.5 1026.9L555.2 1025.9L556.0 1025.7L556.8 1026.1L557.5 1026.6L558.2 1026.2L559.0 1026.2L559.8 1026.0L560.5 1024.8L561.2 1024.8L562.0 1025.3L562.8 1025.4L563.5 1025.9L564.2 1025.4L565.0 1025.4L565.8 1026.4L566.5 1026.0L567.2 1025.0L568.0 1025.0L568.8 1025.2L569.5 1025.2L570.2 1024.9L571.0 1025.0L571.8 1024.5L572.5 1024.0L573.2 1024.4L574.0 1024.3L574.8 1024.2L575.5 1024.2L576.2 1022.7L577.0 1021.5L577.8 1021.4L578.5 1021.2L579.2 1020.5L580.0 1020.8L580.8 1020.3L581.5 1020.1L582.2 1020.0L583.0 1020.7L583.8 1021.0L584.5 1021.1L585.2 1020.0L586.0 1019.5L586.8 1019.4L587.5 1017.8L588.2 1017.5L589.0 1017.9L589.8 1016.4L590.5 1016.3L591.2 1016.8L592.0 1016.1L592.8 1015.6L593.5 1014.9L594.2 1014.2L595.0 1014.5L595.8 1015.5L596.5 1015.0L597.2 1014.7L598.0 1014.7L598.8 1014.9L599.5 1015.5L600.2 1015.4L601.0 1014.1L601.8 1013.3L602.5 1012.4L603.2 1012.3L604.0 1012.9L604.8 1012.9L605.5 1011.4L606.2 1010.7L607.0 1010.3L607.8 1010.2L608.5 1011.2L609.2 1010.8L610.0 1010.8L610.8 1011.7L611.5 1011.8L612.2 1010.9L613.0 1011.2L613.8 1012.0L614.5 1012.0L615.2 1010.6L616.0 1009.4L616.8 1009.6L617.5 1010.1L618.2 1010.1L619.0 1009.3L619.8 1009.6L620.5 1010.2L621.2 1010.1L622.0 1009.8L622.8 1009.6L623.5 1009.8L624.2 1009.1L625.0 1008.8L625.8 1008.7L626.5 1008.2L627.2 1009.0L628.0 1009.1L628.8 1008.5L629.5 1008.4L630.2 1008.7L631.0 1008.4L631.8 1008.5L632.5 1008.3L633.2 1008.8L634.0 1008.6L634.8 1008.5L635.6 1008.9L636.3 1008.4L637.0 1008.0L638.0 1008.0L638.6 1008.6" fill="none" stroke="#6edc91" stroke-width="3.5" stroke-linejoin="round" stroke-linecap="butt"/>
<text x="94.3" y="783.1" font-size="23" text-anchor="end">338</text>
<text x="94.3" y="838.8" font-size="23" text-anchor="end">336</text>
<text x="94.3" y="901.3" font-size="23" text-anchor="end">334</text>
<text x="94.3" y="963.8" font-size="23" text-anchor="end">332</text>
<text x="94.3" y="1026.3" font-size="23" text-anchor="end">330</text>
<text x="94.3" y="1088.8" font-size="23" text-anchor="end">328</text>
<text x="94.3" y="1143.3" font-size="23" text-anchor="end">326</text>
<text transform="translate(113.7 799.5) scale(0.95 1)" font-size="28">(c)</text>
<text transform="translate(18.1 955.5) rotate(-90)" font-size="23.5" text-anchor="middle">N<tspan font-size="15" dy="5">2</tspan><tspan dy="-5">O [ppb]</tspan></text>
</g>
<text x="102.6" y="1173" font-size="23.6" text-anchor="middle">01.01.16</text>
<text x="236.3" y="1173" font-size="23.6" text-anchor="middle">01.07.16</text>
<text x="371.4" y="1173" font-size="23.6" text-anchor="middle">01.01.17</text>
<text x="504.3" y="1173" font-size="23.6" text-anchor="middle">01.07.17</text>
<text x="641.5" y="1173" font-size="23.6" text-anchor="middle">01.01.18</text>
<text x="370.3" y="1217.5" font-size="24" text-anchor="middle">Time</text>
<rect x="82.0" y="1259.0" width="30" height="4.2" fill="#ff0000"/>
<text x="131.0" y="1267.3" font-size="20.5">Nainital (India)</text>
<rect x="82.0" y="1284.7" width="30" height="4.2" fill="#0000ff"/>
<text x="131.0" y="1293.0" font-size="20.5">Comilla (Bangladesh)</text>
<rect x="82.0" y="1311.2" width="30" height="4.2" fill="#000000"/>
<text x="131.0" y="1319.5" font-size="20.5">Mt. Waliguan (China)</text>
<rect x="82.0" y="1337.7" width="30" height="4.2" fill="#ffb400"/>
<text x="131.0" y="1346.0" font-size="20.5">GOSAT Indian subcontinent</text>
<rect x="351.2" y="1258.9" width="30" height="4.2" fill="#00ffff"/>
<text x="400.3" y="1267.2" font-size="20.5">Mauna Loa (Hawaii)</text>
<rect x="351.2" y="1284.9" width="30" height="4.2" fill="#6edc91"/>
<text x="400.3" y="1293.2" font-size="20.5">Cape Matatula (Samoa)</text>
<rect x="351.2" y="1311.3" width="30" height="4.2" fill="#dc69dc"/>
<text x="400.3" y="1319.6" font-size="20.5">Bukit Kototabang (Indonesia)</text>
</svg></body></html>
